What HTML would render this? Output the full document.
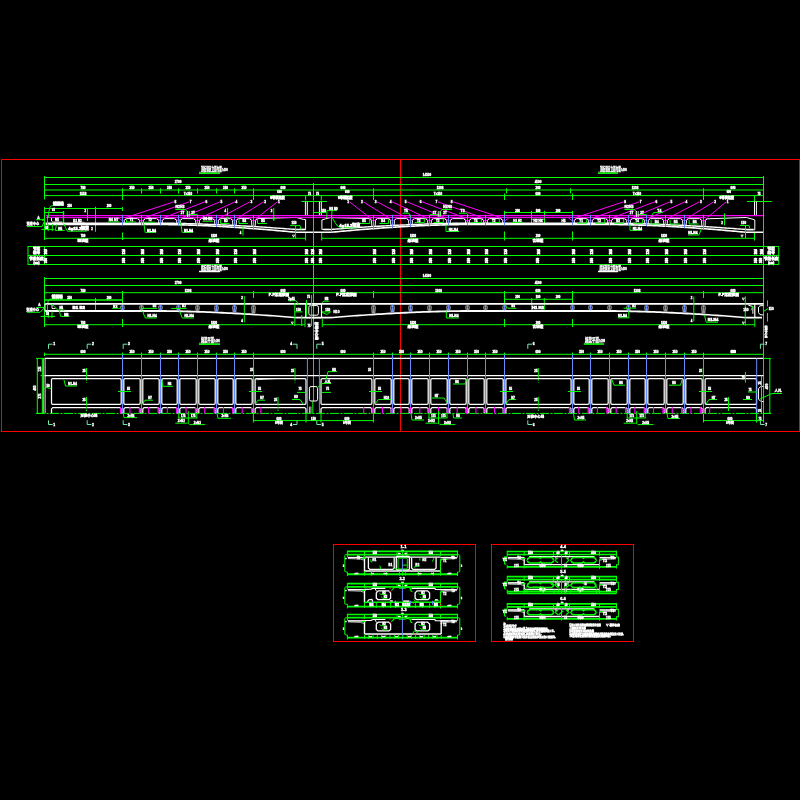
<!DOCTYPE html>
<html lang="zh">
<head>
<meta charset="utf-8">
<title>箱梁预应力钢束布置图</title>
<style>
html,body{margin:0;padding:0;background:#000;}
body{width:800px;height:800px;overflow:hidden;}
svg{display:block;will-change:transform;font-family:"Liberation Sans","Noto Sans CJK SC",sans-serif;}
</style>
</head>
<body>
<svg width="800" height="800" viewBox="0 0 800 800">
<rect x="0" y="0" width="800" height="800" fill="#000"/>
<rect x="1.5" y="159.5" width="798" height="272" stroke="#ff0000" fill="none"/>
<line x1="400.5" y1="159.5" x2="400.5" y2="431.5" stroke="#ff0000" stroke-width="1"/>
<rect x="333.5" y="544.5" width="142" height="97" stroke="#ff0000" fill="none"/>
<rect x="491.5" y="544.5" width="142" height="97" stroke="#ff0000" fill="none"/>
<line x1="44.5" y1="176" x2="44.5" y2="199.5" stroke="#00ff00" stroke-width="1"/>
<line x1="763.5" y1="176" x2="763.5" y2="201" stroke="#00ff00" stroke-width="1"/>
<line x1="44.5" y1="177.5" x2="763.5" y2="177.5" stroke="#00ff00" stroke-width="1"/>
<line x1="44.5" y1="184.5" x2="763.5" y2="184.5" stroke="#00ff00" stroke-width="1"/>
<line x1="44.5" y1="190" x2="763.5" y2="190" stroke="#00ff00" stroke-width="1.2"/>
<line x1="44.5" y1="195.6" x2="763.5" y2="195.6" stroke="#00ff00" stroke-width="1"/>
<line x1="313.5" y1="183" x2="313.5" y2="200.5" stroke="#00ff00" stroke-width="1"/>
<line x1="122.5" y1="188.3" x2="122.5" y2="193.5" stroke="#00ff00" stroke-width="1"/>
<line x1="141.5" y1="188.3" x2="141.5" y2="193.5" stroke="#00ff00" stroke-width="1"/>
<line x1="160.5" y1="188.3" x2="160.5" y2="193.5" stroke="#00ff00" stroke-width="1"/>
<line x1="178.5" y1="188.3" x2="178.5" y2="193.5" stroke="#00ff00" stroke-width="1"/>
<line x1="197.5" y1="188.3" x2="197.5" y2="193.5" stroke="#00ff00" stroke-width="1"/>
<line x1="216.5" y1="188.3" x2="216.5" y2="193.5" stroke="#00ff00" stroke-width="1"/>
<line x1="234.5" y1="188.3" x2="234.5" y2="193.5" stroke="#00ff00" stroke-width="1"/>
<line x1="253.5" y1="188.3" x2="253.5" y2="193.5" stroke="#00ff00" stroke-width="1"/>
<line x1="373.5" y1="188.3" x2="373.5" y2="193.5" stroke="#00ff00" stroke-width="1"/>
<line x1="703.5" y1="188.3" x2="703.5" y2="193.5" stroke="#00ff00" stroke-width="1"/>
<line x1="506.5" y1="188.3" x2="506.5" y2="193.5" stroke="#00ff00" stroke-width="1"/>
<line x1="570.5" y1="188.3" x2="570.5" y2="193.5" stroke="#00ff00" stroke-width="1"/>
<line x1="122.5" y1="193.5" x2="122.5" y2="200" stroke="#00ff00" stroke-width="1"/>
<line x1="253.5" y1="193.5" x2="253.5" y2="200" stroke="#00ff00" stroke-width="1"/>
<line x1="373.5" y1="193.5" x2="373.5" y2="200" stroke="#00ff00" stroke-width="1"/>
<line x1="504.5" y1="193.5" x2="504.5" y2="200" stroke="#00ff00" stroke-width="1"/>
<line x1="572.5" y1="193.5" x2="572.5" y2="200" stroke="#00ff00" stroke-width="1"/>
<line x1="703.5" y1="193.5" x2="703.5" y2="200" stroke="#00ff00" stroke-width="1"/>
<text x="132" y="188.7" font-size="3" text-anchor="middle" fill="#ffffff" stroke="#ffffff" stroke-width="0.35" font-weight="bold">350</text>
<text x="151" y="188.7" font-size="3" text-anchor="middle" fill="#ffffff" stroke="#ffffff" stroke-width="0.35" font-weight="bold">350</text>
<text x="169.5" y="188.7" font-size="3" text-anchor="middle" fill="#ffffff" stroke="#ffffff" stroke-width="0.35" font-weight="bold">350</text>
<text x="188" y="188.7" font-size="3" text-anchor="middle" fill="#ffffff" stroke="#ffffff" stroke-width="0.35" font-weight="bold">350</text>
<text x="207" y="188.7" font-size="3" text-anchor="middle" fill="#ffffff" stroke="#ffffff" stroke-width="0.35" font-weight="bold">350</text>
<text x="225.5" y="188.7" font-size="3" text-anchor="middle" fill="#ffffff" stroke="#ffffff" stroke-width="0.35" font-weight="bold">350</text>
<text x="244" y="188.7" font-size="3" text-anchor="middle" fill="#ffffff" stroke="#ffffff" stroke-width="0.35" font-weight="bold">350</text>
<text x="440" y="188.7" font-size="3" text-anchor="middle" fill="#ffffff" stroke="#ffffff" stroke-width="0.35" font-weight="bold">1308</text>
<text x="635" y="188.7" font-size="3" text-anchor="middle" fill="#ffffff" stroke="#ffffff" stroke-width="0.35" font-weight="bold">1308</text>
<text x="83" y="188.7" font-size="3" text-anchor="middle" fill="#ffffff" stroke="#ffffff" stroke-width="0.35" font-weight="bold">780</text>
<text x="83" y="194.6" font-size="3" text-anchor="middle" fill="#ffffff" stroke="#ffffff" stroke-width="0.35" font-weight="bold">1558</text>
<text x="283" y="188.7" font-size="3" text-anchor="middle" fill="#ffffff" stroke="#ffffff" stroke-width="0.35" font-weight="bold">600</text>
<text x="343" y="188.7" font-size="3" text-anchor="middle" fill="#ffffff" stroke="#ffffff" stroke-width="0.35" font-weight="bold">600</text>
<text x="538" y="188.7" font-size="3" text-anchor="middle" fill="#ffffff" stroke="#ffffff" stroke-width="0.35" font-weight="bold">200</text>
<text x="538" y="194.5" font-size="3" text-anchor="middle" fill="#ffffff" stroke="#ffffff" stroke-width="0.35" font-weight="bold">680</text>
<text x="538" y="183.4" font-size="3" text-anchor="middle" fill="#ffffff" stroke="#ffffff" stroke-width="0.35" font-weight="bold">4500</text>
<text x="733" y="188.7" font-size="3" text-anchor="middle" fill="#ffffff" stroke="#ffffff" stroke-width="0.35" font-weight="bold">600</text>
<text x="188" y="194.6" font-size="3" text-anchor="middle" fill="#ffffff" stroke="#ffffff" stroke-width="0.35" font-weight="bold">7×350</text>
<text x="438" y="194.6" font-size="3" text-anchor="middle" fill="#ffffff" stroke="#ffffff" stroke-width="0.35" font-weight="bold">7×350</text>
<text x="637" y="194.6" font-size="3" text-anchor="middle" fill="#ffffff" stroke="#ffffff" stroke-width="0.35" font-weight="bold">7×350</text>
<text x="178" y="183.4" font-size="3" text-anchor="middle" fill="#ffffff" stroke="#ffffff" stroke-width="0.35" font-weight="bold">2700</text>
<text x="427" y="176.4" font-size="3" text-anchor="middle" fill="#ffffff" stroke="#ffffff" stroke-width="0.35" font-weight="bold">14500</text>
<text x="279.5" y="193.4" font-size="2.6" text-anchor="middle" fill="#ffffff" stroke="#ffffff" stroke-width="0.35" font-weight="bold">600</text>
<text x="277.5" y="199.4" font-size="3.2" text-anchor="middle" fill="#ffffff" stroke="#ffffff" stroke-width="0.6" font-weight="bold">0号块梁段</text>
<text x="347.2" y="193.4" font-size="2.6" text-anchor="middle" fill="#ffffff" stroke="#ffffff" stroke-width="0.35" font-weight="bold">600</text>
<text x="345.2" y="199.4" font-size="3.2" text-anchor="middle" fill="#ffffff" stroke="#ffffff" stroke-width="0.6" font-weight="bold">0号块梁段</text>
<text x="728.8" y="193.4" font-size="2.6" text-anchor="middle" fill="#ffffff" stroke="#ffffff" stroke-width="0.35" font-weight="bold">600</text>
<text x="726.8" y="199.4" font-size="3.2" text-anchor="middle" fill="#ffffff" stroke="#ffffff" stroke-width="0.6" font-weight="bold">0号块梁段</text>
<line x1="305.6" y1="195.6" x2="305.6" y2="200.5" stroke="#00ff00" stroke-width="1"/>
<line x1="321.3" y1="195.6" x2="321.3" y2="200.5" stroke="#00ff00" stroke-width="1"/>
<text x="309.5" y="194.9" font-size="2.8" text-anchor="middle" fill="#ffffff" stroke="#ffffff" stroke-width="0.35" font-weight="bold">75</text>
<text x="317.5" y="194.9" font-size="2.8" text-anchor="middle" fill="#ffffff" stroke="#ffffff" stroke-width="0.35" font-weight="bold">75</text>
<line x1="301.3" y1="201.5" x2="326.9" y2="201.5" stroke="#00ff00" stroke-width="1"/>
<line x1="747" y1="201.5" x2="771.8" y2="201.5" stroke="#00ff00" stroke-width="1"/>
<line x1="754.5" y1="195.6" x2="754.5" y2="201" stroke="#00ff00" stroke-width="1"/>
<text x="759" y="194.9" font-size="2.8" text-anchor="middle" fill="#ffffff" stroke="#ffffff" stroke-width="0.35" font-weight="bold">75</text>
<text x="201" y="171.1" font-size="5.6" text-anchor="start" fill="#ffffff" stroke="#ffffff" stroke-width="0.3" font-weight="bold" textLength="20.9" lengthAdjust="spacingAndGlyphs">顶板钢束立面布置</text>
<line x1="199" y1="172.2" x2="220" y2="172.2" stroke="#ffffff" stroke-width="0.5"/>
<line x1="199" y1="173.3" x2="220" y2="173.3" stroke="#00ff00" stroke-width="1.5"/>
<text x="222.2" y="171" font-size="3" text-anchor="start" fill="#ffffff" stroke="#ffffff" stroke-width="0.4" font-weight="bold" textLength="5.4" lengthAdjust="spacingAndGlyphs">1:200</text>
<text x="599.9" y="171" font-size="5.6" text-anchor="start" fill="#ffffff" stroke="#ffffff" stroke-width="0.3" font-weight="bold" textLength="21" lengthAdjust="spacingAndGlyphs">顶板钢束立面布置</text>
<line x1="598" y1="172.1" x2="617.9" y2="172.1" stroke="#ffffff" stroke-width="0.5"/>
<line x1="598" y1="173.2" x2="617.9" y2="173.2" stroke="#00ff00" stroke-width="1.5"/>
<text x="621.2" y="170.9" font-size="3" text-anchor="start" fill="#ffffff" stroke="#ffffff" stroke-width="0.4" font-weight="bold" textLength="5.4" lengthAdjust="spacingAndGlyphs">1:200</text>
<line x1="44.5" y1="208.5" x2="122.5" y2="208.5" stroke="#00ff00" stroke-width="1"/>
<line x1="44.5" y1="207" x2="44.5" y2="240" stroke="#00ff00" stroke-width="1"/>
<line x1="122.5" y1="207" x2="122.5" y2="211" stroke="#00ff00" stroke-width="1"/>
<line x1="122.5" y1="232.5" x2="122.5" y2="240" stroke="#00ff00" stroke-width="1"/>
<line x1="87.5" y1="208.5" x2="87.5" y2="221" stroke="#00ff00" stroke-width="1"/>
<line x1="95.5" y1="206.8" x2="95.5" y2="231.8" stroke="#00ff00" stroke-width="1"/>
<text x="69.5" y="207.4" font-size="2.8" text-anchor="middle" fill="#ffffff" stroke="#ffffff" stroke-width="0.35" font-weight="bold">350</text>
<text x="109" y="207.4" font-size="2.8" text-anchor="middle" fill="#ffffff" stroke="#ffffff" stroke-width="0.35" font-weight="bold">200</text>
<text x="85.3" y="211.6" font-size="2.8" text-anchor="middle" fill="#ffffff" stroke="#ffffff" stroke-width="0.35" font-weight="bold">2</text>
<line x1="44.5" y1="212.5" x2="63.7" y2="212.5" stroke="#00ff00" stroke-width="1"/>
<line x1="63.5" y1="211" x2="63.5" y2="225" stroke="#00ff00" stroke-width="1.4"/>
<text x="53.5" y="211" font-size="2.6" text-anchor="middle" fill="#ffffff" stroke="#ffffff" stroke-width="0.35" font-weight="bold">65</text>
<line x1="504.5" y1="212.5" x2="572.5" y2="212.5" stroke="#00ff00" stroke-width="1"/>
<line x1="504.5" y1="210.8" x2="504.5" y2="223" stroke="#00ff00" stroke-width="1"/>
<line x1="531.5" y1="210.8" x2="531.5" y2="223" stroke="#00ff00" stroke-width="1"/>
<line x1="544.5" y1="210.8" x2="544.5" y2="223" stroke="#00ff00" stroke-width="1"/>
<line x1="572.5" y1="210.8" x2="572.5" y2="223" stroke="#00ff00" stroke-width="1"/>
<text x="517.5" y="211.5" font-size="2.8" text-anchor="middle" fill="#ffffff" stroke="#ffffff" stroke-width="0.35" font-weight="bold">200</text>
<text x="538" y="211.5" font-size="2.8" text-anchor="middle" fill="#ffffff" stroke="#ffffff" stroke-width="0.35" font-weight="bold">100</text>
<text x="558" y="211.5" font-size="2.8" text-anchor="middle" fill="#ffffff" stroke="#ffffff" stroke-width="0.35" font-weight="bold">200</text>
<line x1="504.5" y1="231.5" x2="504.5" y2="240.5" stroke="#00ff00" stroke-width="1"/>
<line x1="572.5" y1="231.5" x2="572.5" y2="240.5" stroke="#00ff00" stroke-width="1"/>
<line x1="44.5" y1="238.3" x2="305.6" y2="238.3" stroke="#00ff00" stroke-width="1"/>
<line x1="321.7" y1="238.3" x2="754.5" y2="238.3" stroke="#00ff00" stroke-width="1"/>
<line x1="305.6" y1="233" x2="305.6" y2="240.5" stroke="#00ff00" stroke-width="1"/>
<line x1="321.7" y1="233" x2="321.7" y2="240.5" stroke="#00ff00" stroke-width="1"/>
<line x1="754.5" y1="232" x2="754.5" y2="240.5" stroke="#00ff00" stroke-width="1"/>
<text x="83" y="237.1" font-size="2.8" text-anchor="middle" fill="#ffffff" stroke="#ffffff" stroke-width="0.35" font-weight="bold">780</text>
<text x="83" y="242.1" font-size="3.6" text-anchor="middle" fill="#ffffff" stroke="#ffffff" stroke-width="0.5" font-weight="bold">现浇段</text>
<text x="214" y="237.1" font-size="2.8" text-anchor="middle" fill="#ffffff" stroke="#ffffff" stroke-width="0.35" font-weight="bold">1830</text>
<text x="214" y="242.1" font-size="3.6" text-anchor="middle" fill="#ffffff" stroke="#ffffff" stroke-width="0.5" font-weight="bold">悬浇段</text>
<text x="413" y="237.1" font-size="2.8" text-anchor="middle" fill="#ffffff" stroke="#ffffff" stroke-width="0.35" font-weight="bold">1830</text>
<text x="413" y="242.1" font-size="3.6" text-anchor="middle" fill="#ffffff" stroke="#ffffff" stroke-width="0.5" font-weight="bold">悬浇段</text>
<text x="538" y="237.1" font-size="2.8" text-anchor="middle" fill="#ffffff" stroke="#ffffff" stroke-width="0.35" font-weight="bold">200</text>
<text x="538" y="242.1" font-size="3.6" text-anchor="middle" fill="#ffffff" stroke="#ffffff" stroke-width="0.5" font-weight="bold">合拢段</text>
<text x="664" y="237.1" font-size="2.8" text-anchor="middle" fill="#ffffff" stroke="#ffffff" stroke-width="0.35" font-weight="bold">1830</text>
<text x="664" y="242.1" font-size="3.6" text-anchor="middle" fill="#ffffff" stroke="#ffffff" stroke-width="0.5" font-weight="bold">悬浇段</text>
<path d="M45.5 224.5 L47.5 224.5 L49.5 224.5 L51.5 224.5 L53.5 224.5 L55.5 224.5 L57.5 224.5 L59.5 224.5 L61.5 224.5 L63.5 224.5 L65.5 224.5 L67.5 224.5 L69.5 224.5 L71.5 224.5 L73.5 224.5 L75.5 224.5 L77.5 224.5 L79.5 224.5 L81.5 224.5 L83.5 224.5 L85.5 224.5 L87.5 224.5 L89.5 224.5 L91.5 224.5 L93.5 224.5 L95.5 224.5 L97.5 224.5 L99.5 224.5 L101.5 224.5 L103.5 224.5 L105.5 224.5 L107.5 224.5 L109.5 224.5 L111.5 224.5 L113.5 224.5 L115.5 224.5 L117.5 224.5 L119.5 224.5 L121.5 224.5 L123.5 224.5 L125.5 224.5 L127.5 224.5 L129.5 224.5 L131.5 224.5 L133.5 224.5 L135.5 224.5 L137.5 224.5 L139.5 224.5 L141.5 224.5 L143.5 224.5 L145.5 224.5 L147.5 224.5 L149.5 224.5 L151.5 224.5 L153.5 224.5 L155.5 224.5 L157.5 224.5 L159.5 224.5 L161.5 224.5 L163.5 224.52 L165.5 224.53 L167.5 224.56 L169.5 224.58 L171.5 224.62 L173.5 224.65 L175.5 224.69 L177.5 224.74 L179.5 224.79 L181.5 224.84 L183.5 224.89 L185.5 224.95 L187.5 225.02 L189.5 225.08 L191.5 225.15 L193.5 225.22 L195.5 225.3 L197.5 225.37 L199.5 225.45 L201.5 225.54 L203.5 225.62 L205.5 225.71 L207.5 225.8 L209.5 225.9 L211.5 226 L213.5 226.1 L215.5 226.2 L217.5 226.31 L219.5 226.41 L221.5 226.52 L223.5 226.64 L225.5 226.75 L227.5 226.87 L229.5 226.99 L231.5 227.11 L233.5 227.24 L235.5 227.37 L237.5 227.5 L239.5 227.63 L241.5 227.77 L243.5 227.9 L245.5 228.04 L247.5 228.19 L249.5 228.33 L251.5 228.48 L253.5 228.63 L255.5 228.78 L257.5 228.93 L259.5 229.09 L261.5 229.24 L263.5 229.4 L265.5 229.57 L267.5 229.73 L269.5 229.9 L271.5 230.06 L273.5 230.24 L275.5 230.41 L277.5 230.58 L279.5 230.76 L281.5 230.94 L283.5 231.12 L285.5 231.3 L287.5 231.49 L289.5 231.68 L291.5 231.87 L293.5 232.06 L295.5 232.25 L297.5 232.3 L299.5 232.3 L301.5 232.3 L303.5 232.3 L305.5 232.3 L307.5 232.3 L309.5 232.3 L311.5 232.3 L313.5 232.3 L315.5 232.3 L317.5 232.3 L319.5 232.3 L321.5 232.3 L323.5 232.3 L325.5 232.3 L327.5 232.3 L329.5 232.3 L331.5 232.25 L333.5 232.06 L335.5 231.87 L337.5 231.68 L339.5 231.49 L341.5 231.3 L343.5 231.12 L345.5 230.94 L347.5 230.76 L349.5 230.58 L351.5 230.41 L353.5 230.24 L355.5 230.06 L357.5 229.9 L359.5 229.73 L361.5 229.57 L363.5 229.4 L365.5 229.24 L367.5 229.09 L369.5 228.93 L371.5 228.78 L373.5 228.63 L375.5 228.48 L377.5 228.33 L379.5 228.19 L381.5 228.04 L383.5 227.9 L385.5 227.77 L387.5 227.63 L389.5 227.5 L391.5 227.37 L393.5 227.24 L395.5 227.11 L397.5 226.99 L399.5 226.87 L401.5 226.75 L403.5 226.64 L405.5 226.52 L407.5 226.41 L409.5 226.31 L411.5 226.2 L413.5 226.1 L415.5 226 L417.5 225.9 L419.5 225.8 L421.5 225.71 L423.5 225.62 L425.5 225.54 L427.5 225.45 L429.5 225.37 L431.5 225.3 L433.5 225.22 L435.5 225.15 L437.5 225.08 L439.5 225.02 L441.5 224.95 L443.5 224.89 L445.5 224.84 L447.5 224.79 L449.5 224.74 L451.5 224.69 L453.5 224.65 L455.5 224.62 L457.5 224.58 L459.5 224.56 L461.5 224.53 L463.5 224.52 L465.5 224.5 L467.5 224.5 L469.5 224.5 L471.5 224.5 L473.5 224.5 L475.5 224.5 L477.5 224.5 L479.5 224.5 L481.5 224.5 L483.5 224.5 L485.5 224.5 L487.5 224.5 L489.5 224.5 L491.5 224.5 L493.5 224.5 L495.5 224.5 L497.5 224.5 L499.5 224.5 L501.5 224.5 L503.5 224.5 L505.5 224.5 L507.5 224.5 L509.5 224.5 L511.5 224.5 L513.5 224.5 L515.5 224.5 L517.5 224.5 L519.5 224.5 L521.5 224.5 L523.5 224.5 L525.5 224.5 L527.5 224.5 L529.5 224.5 L531.5 224.5 L533.5 224.5 L535.5 224.5 L537.5 224.5 L539.5 224.5 L541.5 224.5 L543.5 224.5 L545.5 224.5 L547.5 224.5 L549.5 224.5 L551.5 224.5 L553.5 224.5 L555.5 224.5 L557.5 224.5 L559.5 224.5 L561.5 224.5 L563.5 224.5 L565.5 224.5 L567.5 224.5 L569.5 224.5 L571.5 224.5 L573.5 224.5 L575.5 224.5 L577.5 224.5 L579.5 224.5 L581.5 224.5 L583.5 224.5 L585.5 224.5 L587.5 224.5 L589.5 224.5 L591.5 224.5 L593.5 224.5 L595.5 224.5 L597.5 224.5 L599.5 224.5 L601.5 224.5 L603.5 224.5 L605.5 224.5 L607.5 224.5 L609.5 224.5 L611.5 224.5 L613.5 224.52 L615.5 224.53 L617.5 224.56 L619.5 224.58 L621.5 224.62 L623.5 224.65 L625.5 224.69 L627.5 224.74 L629.5 224.79 L631.5 224.84 L633.5 224.89 L635.5 224.95 L637.5 225.02 L639.5 225.08 L641.5 225.15 L643.5 225.22 L645.5 225.3 L647.5 225.37 L649.5 225.45 L651.5 225.54 L653.5 225.62 L655.5 225.71 L657.5 225.8 L659.5 225.9 L661.5 226 L663.5 226.1 L665.5 226.2 L667.5 226.31 L669.5 226.41 L671.5 226.52 L673.5 226.64 L675.5 226.75 L677.5 226.87 L679.5 226.99 L681.5 227.11 L683.5 227.24 L685.5 227.37 L687.5 227.5 L689.5 227.63 L691.5 227.77 L693.5 227.9 L695.5 228.04 L697.5 228.19 L699.5 228.33 L701.5 228.48 L703.5 228.63 L705.5 228.78 L707.5 228.93 L709.5 229.09 L711.5 229.24 L713.5 229.4 L715.5 229.57 L717.5 229.73 L719.5 229.9 L721.5 230.06 L723.5 230.24 L725.5 230.41 L727.5 230.58 L729.5 230.76 L731.5 230.94 L733.5 231.12 L735.5 231.3 L737.5 231.49 L739.5 231.68 L741.5 231.87 L743.5 232.06 L745.5 232.25 L747.5 232.3 L749.5 232.3 L751.5 232.3 L753.5 232.3 L755.5 232.3 L757.5 232.3 L759.5 232.3 L761.5 232.3 L763.5 232.3 L763.5 232.3" stroke="#ffffff" stroke-width="1.6" fill="none"/>
<path d="M45.5 223.2 L47.5 223.2 L49.5 223.2 L51.5 223.2 L53.5 223.2 L55.5 223.2 L57.5 223.2 L59.5 223.2 L61.5 223.2 L63.5 223.2 L65.5 223.2 L67.5 223.2 L69.5 223.2 L71.5 223.2 L73.5 223.2 L75.5 223.2 L77.5 223.2 L79.5 223.2 L81.5 223.2 L83.5 223.2 L85.5 223.2 L87.5 223.2 L89.5 223.2 L91.5 223.2 L93.5 223.2 L95.5 223.2 L97.5 223.2 L99.5 223.2 L101.5 223.2 L103.5 223.2 L105.5 223.2 L107.5 223.2 L109.5 223.2 L111.5 223.2 L113.5 223.2 L115.5 223.2 L117.5 223.2 L119.5 223.2 L121.5 223.2 L123.5 223.2 L125.5 223.2 L127.5 223.2 L129.5 223.2 L131.5 223.2 L133.5 223.2 L135.5 223.2 L137.5 223.2 L139.5 223.2 L141.5 223.2 L143.5 223.2 L145.5 223.2 L147.5 223.2 L149.5 223.2 L151.5 223.2 L153.5 223.2 L155.5 223.2 L157.5 223.2 L159.5 223.2 L161.5 223.2 L163.5 223.21 L165.5 223.23 L167.5 223.25 L169.5 223.27 L171.5 223.29 L173.5 223.32 L175.5 223.36 L177.5 223.39 L179.5 223.43 L181.5 223.47 L183.5 223.52 L185.5 223.57 L187.5 223.62 L189.5 223.67 L191.5 223.73 L193.5 223.78 L195.5 223.84 L197.5 223.91 L199.5 223.97 L201.5 224.04 L203.5 224.11 L205.5 224.18 L207.5 224.26 L209.5 224.33 L211.5 224.41 L213.5 224.49 L215.5 224.58 L217.5 224.66 L219.5 224.75 L221.5 224.84 L223.5 224.93 L225.5 225.02 L227.5 225.12 L229.5 225.22 L231.5 225.32 L233.5 225.42 L235.5 225.52 L237.5 225.63 L239.5 225.74 L241.5 225.85 L243.5 225.96 L245.5 226.07 L247.5 226.19 L249.5 226.3 L251.5 226.42 L253.5 226.54 L255.5 226.66 L257.5 226.79 L259.5 226.91 L261.5 227.04 L263.5 227.17 L265.5 227.3 L267.5 227.44 L269.5 227.57 L271.5 227.71 L273.5 227.85 L275.5 227.99 L277.5 228.13 L279.5 228.27 L281.5 228.42 L283.5 228.56 L285.5 228.71 L287.5 228.86 L289.5 229.01 L291.5 229.17 L293.5 229.32 L295.5 229.48 L297.5 229.52 L299.5 229.52 L301.5 229.52 L303.5 229.52 L305.5 229.52" stroke="#ffffff" stroke-width="1.4" fill="none"/>
<path d="M323.5 229.52 L325.5 229.52 L327.5 229.52 L329.5 229.52 L331.5 229.48 L333.5 229.32 L335.5 229.17 L337.5 229.01 L339.5 228.86 L341.5 228.71 L343.5 228.56 L345.5 228.42 L347.5 228.27 L349.5 228.13 L351.5 227.99 L353.5 227.85 L355.5 227.71 L357.5 227.57 L359.5 227.44 L361.5 227.3 L363.5 227.17 L365.5 227.04 L367.5 226.91 L369.5 226.79 L371.5 226.66 L373.5 226.54 L375.5 226.42 L377.5 226.3 L379.5 226.19 L381.5 226.07 L383.5 225.96 L385.5 225.85 L387.5 225.74 L389.5 225.63 L391.5 225.52 L393.5 225.42 L395.5 225.32 L397.5 225.22 L399.5 225.12 L401.5 225.02 L403.5 224.93 L405.5 224.84 L407.5 224.75 L409.5 224.66 L411.5 224.58 L413.5 224.49 L415.5 224.41 L417.5 224.33 L419.5 224.26 L421.5 224.18 L423.5 224.11 L425.5 224.04 L427.5 223.97 L429.5 223.91 L431.5 223.84 L433.5 223.78 L435.5 223.73 L437.5 223.67 L439.5 223.62 L441.5 223.57 L443.5 223.52 L445.5 223.47 L447.5 223.43 L449.5 223.39 L451.5 223.36 L453.5 223.32 L455.5 223.29 L457.5 223.27 L459.5 223.25 L461.5 223.23 L463.5 223.21 L465.5 223.2 L467.5 223.2 L469.5 223.2 L471.5 223.2 L473.5 223.2 L475.5 223.2 L477.5 223.2 L479.5 223.2 L481.5 223.2 L483.5 223.2 L485.5 223.2 L487.5 223.2 L489.5 223.2 L491.5 223.2 L493.5 223.2 L495.5 223.2 L497.5 223.2 L499.5 223.2 L501.5 223.2 L503.5 223.2 L505.5 223.2 L507.5 223.2 L509.5 223.2 L511.5 223.2 L513.5 223.2 L515.5 223.2 L517.5 223.2 L519.5 223.2 L521.5 223.2 L523.5 223.2 L525.5 223.2 L527.5 223.2 L529.5 223.2 L531.5 223.2 L533.5 223.2 L535.5 223.2 L537.5 223.2 L539.5 223.2 L541.5 223.2 L543.5 223.2 L545.5 223.2 L547.5 223.2 L549.5 223.2 L551.5 223.2 L553.5 223.2 L555.5 223.2 L557.5 223.2 L559.5 223.2 L561.5 223.2 L563.5 223.2 L565.5 223.2 L567.5 223.2 L569.5 223.2 L571.5 223.2 L573.5 223.2 L575.5 223.2 L577.5 223.2 L579.5 223.2 L581.5 223.2 L583.5 223.2 L585.5 223.2 L587.5 223.2 L589.5 223.2 L591.5 223.2 L593.5 223.2 L595.5 223.2 L597.5 223.2 L599.5 223.2 L601.5 223.2 L603.5 223.2 L605.5 223.2 L607.5 223.2 L609.5 223.2 L611.5 223.2 L613.5 223.21 L615.5 223.23 L617.5 223.25 L619.5 223.27 L621.5 223.29 L623.5 223.32 L625.5 223.36 L627.5 223.39 L629.5 223.43 L631.5 223.47 L633.5 223.52 L635.5 223.57 L637.5 223.62 L639.5 223.67 L641.5 223.73 L643.5 223.78 L645.5 223.84 L647.5 223.91 L649.5 223.97 L651.5 224.04 L653.5 224.11 L655.5 224.18 L657.5 224.26 L659.5 224.33 L661.5 224.41 L663.5 224.49 L665.5 224.58 L667.5 224.66 L669.5 224.75 L671.5 224.84 L673.5 224.93 L675.5 225.02 L677.5 225.12 L679.5 225.22 L681.5 225.32 L683.5 225.42 L685.5 225.52 L687.5 225.63 L689.5 225.74 L691.5 225.85 L693.5 225.96 L695.5 226.07 L697.5 226.19 L699.5 226.3 L701.5 226.42 L703.5 226.54 L705.5 226.66 L707.5 226.79 L709.5 226.91 L711.5 227.04 L713.5 227.17 L715.5 227.3 L717.5 227.44 L719.5 227.57 L721.5 227.71 L723.5 227.85 L725.5 227.99 L727.5 228.13 L729.5 228.27 L731.5 228.42 L733.5 228.56 L735.5 228.71 L737.5 228.86 L739.5 229.01 L741.5 229.17 L743.5 229.32 L745.5 229.48 L747.5 229.52 L749.5 229.52 L751.5 229.52 L753.5 229.52" stroke="#ffffff" stroke-width="1.4" fill="none"/>
<path d="M124.1 223 L124.5 220.4 L126.5 218.6 L137.5 218.6 L139.5 220.4 L139.9 223" stroke="#ffffff" stroke-width="1" fill="none"/>
<path d="M143.1 223 L143.5 220.4 L145.5 218.6 L156.5 218.6 L158.5 220.4 L158.9 223" stroke="#ffffff" stroke-width="1" fill="none"/>
<path d="M162.1 223.01 L162.5 220.4 L164.5 218.6 L174.5 218.6 L176.5 220.4 L176.9 223.18" stroke="#ffffff" stroke-width="1" fill="none"/>
<path d="M180.1 223.25 L180.5 220.4 L182.5 218.6 L193.5 218.6 L195.5 220.4 L195.9 223.64" stroke="#ffffff" stroke-width="1" fill="none"/>
<path d="M199.1 223.77 L199.5 220.4 L201.5 218.6 L212.5 218.6 L214.5 220.4 L214.9 224.33" stroke="#ffffff" stroke-width="1" fill="none"/>
<path d="M218.1 224.51 L218.5 220.4 L220.5 218.6 L230.5 218.6 L232.5 220.4 L232.9 225.17" stroke="#ffffff" stroke-width="1" fill="none"/>
<path d="M236.1 225.38 L236.5 220.4 L238.5 218.6 L249.5 218.6 L251.5 220.4 L251.9 226.22" stroke="#ffffff" stroke-width="1" fill="none"/>
<path d="M375.1 226.22 L375.5 220.4 L377.5 218.6 L388.5 218.6 L390.5 220.4 L390.9 225.38" stroke="#ffffff" stroke-width="1" fill="none"/>
<path d="M394.1 225.17 L394.5 220.4 L396.5 218.6 L406.5 218.6 L408.5 220.4 L408.9 224.51" stroke="#ffffff" stroke-width="1" fill="none"/>
<path d="M412.1 224.33 L412.5 220.4 L414.5 218.6 L425.5 218.6 L427.5 220.4 L427.9 223.77" stroke="#ffffff" stroke-width="1" fill="none"/>
<path d="M431.1 223.64 L431.5 220.4 L433.5 218.6 L444.5 218.6 L446.5 220.4 L446.9 223.25" stroke="#ffffff" stroke-width="1" fill="none"/>
<path d="M450.1 223.18 L450.5 220.4 L452.5 218.6 L463.5 218.6 L465.5 220.4 L465.9 223" stroke="#ffffff" stroke-width="1" fill="none"/>
<path d="M469.1 223 L469.5 220.4 L471.5 218.6 L481.5 218.6 L483.5 220.4 L483.9 223" stroke="#ffffff" stroke-width="1" fill="none"/>
<path d="M487.1 223 L487.5 220.4 L489.5 218.6 L500.5 218.6 L502.5 220.4 L502.9 223" stroke="#ffffff" stroke-width="1" fill="none"/>
<path d="M574.1 223 L574.5 220.4 L576.5 218.6 L586.5 218.6 L588.5 220.4 L588.9 223" stroke="#ffffff" stroke-width="1" fill="none"/>
<path d="M592.1 223 L592.5 220.4 L594.5 218.6 L605.5 218.6 L607.5 220.4 L607.9 223" stroke="#ffffff" stroke-width="1" fill="none"/>
<path d="M611.1 223 L611.5 220.4 L613.5 218.6 L624.5 218.6 L626.5 220.4 L626.9 223.18" stroke="#ffffff" stroke-width="1" fill="none"/>
<path d="M630.1 223.25 L630.5 220.4 L632.5 218.6 L642.5 218.6 L644.5 220.4 L644.9 223.61" stroke="#ffffff" stroke-width="1" fill="none"/>
<path d="M648.1 223.74 L648.5 220.4 L650.5 218.6 L661.5 218.6 L663.5 220.4 L663.9 224.29" stroke="#ffffff" stroke-width="1" fill="none"/>
<path d="M667.1 224.46 L667.5 220.4 L669.5 218.6 L680.5 218.6 L682.5 220.4 L682.9 225.17" stroke="#ffffff" stroke-width="1" fill="none"/>
<path d="M686.1 225.38 L686.5 220.4 L688.5 218.6 L699.5 218.6 L701.5 220.4 L701.9 226.22" stroke="#ffffff" stroke-width="1" fill="none"/>
<path d="M255.1 226.69 L255.5 220.4 L258 218.6 L296.4 217.4 L303.7 219.5 L305.6 219.6 L305.6 229.3 L299 229.3" stroke="#ffffff" stroke-width="1" fill="none"/>
<path d="M371.9 226.69 L371.5 220.4 L369 218.6 L330.6 217.5 L325.6 218.8 L321.9 220 L321.9 229.4 L329 229.4" stroke="#ffffff" stroke-width="1" fill="none"/>
<path d="M705.1 226.69 L705.3 220.4 L707.5 218.8 L746.3 217.5 L753 219.3 L754.8 220 L754.8 229.8 L747 229.8" stroke="#ffffff" stroke-width="1" fill="none"/>
<line x1="305.4" y1="201.5" x2="305.4" y2="215.3" stroke="#ffffff" stroke-width="1"/>
<line x1="307.3" y1="201.5" x2="307.3" y2="215.3" stroke="#ffffff" stroke-width="1"/>
<line x1="319.4" y1="201.5" x2="319.4" y2="215.3" stroke="#ffffff" stroke-width="1"/>
<line x1="321.3" y1="201.5" x2="321.3" y2="215.3" stroke="#ffffff" stroke-width="1"/>
<line x1="754.5" y1="201.5" x2="754.5" y2="215.3" stroke="#ffffff" stroke-width="1"/>
<line x1="756.4" y1="201.5" x2="756.4" y2="215.3" stroke="#ffffff" stroke-width="1"/>
<path d="M62 222.1 L52.8 222.1 L51.5 221 L51.5 217.4" stroke="#ffffff" stroke-width="1" fill="none"/>
<line x1="45.5" y1="215.6" x2="763" y2="215.6" stroke="#ff00ff" stroke-width="1.3"/>
<line x1="46" y1="217.6" x2="705.5" y2="217.6" stroke="#ff00ff" stroke-width="1"/>
<path d="M123.1 221.2 L124.7 219.2 L126.7 217.3 L174 201.8" stroke="#ff00ff" stroke-width="1" fill="none"/>
<path d="M121.9 221.2 L120.1 219 L118 217.6" stroke="#ff00ff" stroke-width="0.9" fill="none"/>
<text x="175.3" y="202.8" font-size="3.2" text-anchor="middle" fill="#ffffff" stroke="#ffffff" stroke-width="0.35" font-weight="bold">8</text>
<path d="M142.1 221.2 L143.7 219.2 L145.7 217.3 L189.25 201.8" stroke="#ff00ff" stroke-width="1" fill="none"/>
<path d="M140.9 221.2 L139.1 219 L137 217.6" stroke="#ff00ff" stroke-width="0.9" fill="none"/>
<text x="190.55" y="202.8" font-size="3.2" text-anchor="middle" fill="#ffffff" stroke="#ffffff" stroke-width="0.35" font-weight="bold">7</text>
<path d="M161.1 221.2 L162.7 219.2 L164.7 217.3 L205 201.8" stroke="#ff00ff" stroke-width="1" fill="none"/>
<path d="M159.9 221.2 L158.1 219 L156 217.6" stroke="#ff00ff" stroke-width="0.9" fill="none"/>
<text x="206.3" y="202.8" font-size="3.2" text-anchor="middle" fill="#ffffff" stroke="#ffffff" stroke-width="0.35" font-weight="bold">6</text>
<path d="M179.1 221.2 L180.7 219.2 L182.7 217.3 L220 201.8" stroke="#ff00ff" stroke-width="1" fill="none"/>
<path d="M177.9 221.2 L176.1 219 L174 217.6" stroke="#ff00ff" stroke-width="0.9" fill="none"/>
<text x="221.3" y="202.8" font-size="3.2" text-anchor="middle" fill="#ffffff" stroke="#ffffff" stroke-width="0.35" font-weight="bold">5</text>
<path d="M198.1 221.2 L199.7 219.2 L201.7 217.3 L235 201.8" stroke="#ff00ff" stroke-width="1" fill="none"/>
<path d="M196.9 221.2 L195.1 219 L193 217.6" stroke="#ff00ff" stroke-width="0.9" fill="none"/>
<text x="236.3" y="202.8" font-size="3.2" text-anchor="middle" fill="#ffffff" stroke="#ffffff" stroke-width="0.35" font-weight="bold">4</text>
<path d="M217.1 221.2 L218.7 219.2 L220.7 217.3 L250 201.8" stroke="#ff00ff" stroke-width="1" fill="none"/>
<path d="M215.9 221.2 L214.1 219 L212 217.6" stroke="#ff00ff" stroke-width="0.9" fill="none"/>
<text x="251.3" y="202.8" font-size="3.2" text-anchor="middle" fill="#ffffff" stroke="#ffffff" stroke-width="0.35" font-weight="bold">3</text>
<path d="M235.1 221.2 L236.7 219.2 L238.7 217.3 L263.75 201.8" stroke="#ff00ff" stroke-width="1" fill="none"/>
<path d="M233.9 221.2 L232.1 219 L230 217.6" stroke="#ff00ff" stroke-width="0.9" fill="none"/>
<text x="265.05" y="202.8" font-size="3.2" text-anchor="middle" fill="#ffffff" stroke="#ffffff" stroke-width="0.35" font-weight="bold">2</text>
<path d="M254.1 221.2 L255.7 219.2 L257.7 217.3 L277.5 201.8" stroke="#ff00ff" stroke-width="1" fill="none"/>
<path d="M252.9 221.2 L251.1 219 L249 217.6" stroke="#ff00ff" stroke-width="0.9" fill="none"/>
<text x="278.8" y="202.8" font-size="3.2" text-anchor="middle" fill="#ffffff" stroke="#ffffff" stroke-width="0.35" font-weight="bold">1</text>
<path d="M503.9 221.2 L502.3 219.2 L500.3 217.3 L453 201.8" stroke="#ff00ff" stroke-width="1" fill="none"/>
<path d="M505.1 221.2 L506.9 219 L509 217.6" stroke="#ff00ff" stroke-width="0.9" fill="none"/>
<text x="451.7" y="202.8" font-size="3.2" text-anchor="middle" fill="#ffffff" stroke="#ffffff" stroke-width="0.35" font-weight="bold">8</text>
<path d="M484.9 221.2 L483.3 219.2 L481.3 217.3 L437.75 201.8" stroke="#ff00ff" stroke-width="1" fill="none"/>
<path d="M486.1 221.2 L487.9 219 L490 217.6" stroke="#ff00ff" stroke-width="0.9" fill="none"/>
<text x="436.45" y="202.8" font-size="3.2" text-anchor="middle" fill="#ffffff" stroke="#ffffff" stroke-width="0.35" font-weight="bold">7</text>
<path d="M466.9 221.2 L465.3 219.2 L463.3 217.3 L422 201.8" stroke="#ff00ff" stroke-width="1" fill="none"/>
<path d="M468.1 221.2 L469.9 219 L472 217.6" stroke="#ff00ff" stroke-width="0.9" fill="none"/>
<text x="420.7" y="202.8" font-size="3.2" text-anchor="middle" fill="#ffffff" stroke="#ffffff" stroke-width="0.35" font-weight="bold">6</text>
<path d="M447.9 221.2 L446.3 219.2 L444.3 217.3 L407 201.8" stroke="#ff00ff" stroke-width="1" fill="none"/>
<path d="M449.1 221.2 L450.9 219 L453 217.6" stroke="#ff00ff" stroke-width="0.9" fill="none"/>
<text x="405.7" y="202.8" font-size="3.2" text-anchor="middle" fill="#ffffff" stroke="#ffffff" stroke-width="0.35" font-weight="bold">5</text>
<path d="M428.9 221.2 L427.3 219.2 L425.3 217.3 L392 201.8" stroke="#ff00ff" stroke-width="1" fill="none"/>
<path d="M430.1 221.2 L431.9 219 L434 217.6" stroke="#ff00ff" stroke-width="0.9" fill="none"/>
<text x="390.7" y="202.8" font-size="3.2" text-anchor="middle" fill="#ffffff" stroke="#ffffff" stroke-width="0.35" font-weight="bold">4</text>
<path d="M409.9 221.2 L408.3 219.2 L406.3 217.3 L377 201.8" stroke="#ff00ff" stroke-width="1" fill="none"/>
<path d="M411.1 221.2 L412.9 219 L415 217.6" stroke="#ff00ff" stroke-width="0.9" fill="none"/>
<text x="375.7" y="202.8" font-size="3.2" text-anchor="middle" fill="#ffffff" stroke="#ffffff" stroke-width="0.35" font-weight="bold">3</text>
<path d="M391.9 221.2 L390.3 219.2 L388.3 217.3 L363.25 201.8" stroke="#ff00ff" stroke-width="1" fill="none"/>
<path d="M393.1 221.2 L394.9 219 L397 217.6" stroke="#ff00ff" stroke-width="0.9" fill="none"/>
<text x="361.95" y="202.8" font-size="3.2" text-anchor="middle" fill="#ffffff" stroke="#ffffff" stroke-width="0.35" font-weight="bold">2</text>
<path d="M372.9 221.2 L371.3 219.2 L369.3 217.3 L349.5 201.8" stroke="#ff00ff" stroke-width="1" fill="none"/>
<path d="M374.1 221.2 L375.9 219 L378 217.6" stroke="#ff00ff" stroke-width="0.9" fill="none"/>
<text x="348.2" y="202.8" font-size="3.2" text-anchor="middle" fill="#ffffff" stroke="#ffffff" stroke-width="0.35" font-weight="bold">1</text>
<path d="M573.1 221.2 L574.7 219.2 L576.7 217.3 L623.75 201.8" stroke="#ff00ff" stroke-width="1" fill="none"/>
<path d="M571.9 221.2 L570.1 219 L568 217.6" stroke="#ff00ff" stroke-width="0.9" fill="none"/>
<text x="625.05" y="202.8" font-size="3.2" text-anchor="middle" fill="#ffffff" stroke="#ffffff" stroke-width="0.35" font-weight="bold">8</text>
<path d="M591.1 221.2 L592.7 219.2 L594.7 217.3 L639.25 201.8" stroke="#ff00ff" stroke-width="1" fill="none"/>
<path d="M589.9 221.2 L588.1 219 L586 217.6" stroke="#ff00ff" stroke-width="0.9" fill="none"/>
<text x="640.55" y="202.8" font-size="3.2" text-anchor="middle" fill="#ffffff" stroke="#ffffff" stroke-width="0.35" font-weight="bold">7</text>
<path d="M610.1 221.2 L611.7 219.2 L613.7 217.3 L655 201.8" stroke="#ff00ff" stroke-width="1" fill="none"/>
<path d="M608.9 221.2 L607.1 219 L605 217.6" stroke="#ff00ff" stroke-width="0.9" fill="none"/>
<text x="656.3" y="202.8" font-size="3.2" text-anchor="middle" fill="#ffffff" stroke="#ffffff" stroke-width="0.35" font-weight="bold">6</text>
<path d="M629.1 221.2 L630.7 219.2 L632.7 217.3 L670 201.8" stroke="#ff00ff" stroke-width="1" fill="none"/>
<path d="M627.9 221.2 L626.1 219 L624 217.6" stroke="#ff00ff" stroke-width="0.9" fill="none"/>
<text x="671.3" y="202.8" font-size="3.2" text-anchor="middle" fill="#ffffff" stroke="#ffffff" stroke-width="0.35" font-weight="bold">5</text>
<path d="M647.1 221.2 L648.7 219.2 L650.7 217.3 L685 201.8" stroke="#ff00ff" stroke-width="1" fill="none"/>
<path d="M645.9 221.2 L644.1 219 L642 217.6" stroke="#ff00ff" stroke-width="0.9" fill="none"/>
<text x="686.3" y="202.8" font-size="3.2" text-anchor="middle" fill="#ffffff" stroke="#ffffff" stroke-width="0.35" font-weight="bold">4</text>
<path d="M666.1 221.2 L667.7 219.2 L669.7 217.3 L699.5 201.8" stroke="#ff00ff" stroke-width="1" fill="none"/>
<path d="M664.9 221.2 L663.1 219 L661 217.6" stroke="#ff00ff" stroke-width="0.9" fill="none"/>
<text x="700.8" y="202.8" font-size="3.2" text-anchor="middle" fill="#ffffff" stroke="#ffffff" stroke-width="0.35" font-weight="bold">3</text>
<path d="M685.1 221.2 L686.7 219.2 L688.7 217.3 L713.75 201.8" stroke="#ff00ff" stroke-width="1" fill="none"/>
<path d="M683.9 221.2 L682.1 219 L680 217.6" stroke="#ff00ff" stroke-width="0.9" fill="none"/>
<text x="715.05" y="202.8" font-size="3.2" text-anchor="middle" fill="#ffffff" stroke="#ffffff" stroke-width="0.35" font-weight="bold">2</text>
<path d="M704.1 221.2 L705.7 219.2 L707.7 217.3 L726.25 201.8" stroke="#ff00ff" stroke-width="1" fill="none"/>
<path d="M702.9 221.2 L701.1 219 L699 217.6" stroke="#ff00ff" stroke-width="0.9" fill="none"/>
<text x="727.55" y="202.8" font-size="3.2" text-anchor="middle" fill="#ffffff" stroke="#ffffff" stroke-width="0.35" font-weight="bold">1</text>
<line x1="122.5" y1="214.8" x2="122.5" y2="225.3" stroke="#6a8aff" stroke-width="1"/>
<line x1="141.5" y1="214.8" x2="141.5" y2="225.3" stroke="#6a8aff" stroke-width="1"/>
<line x1="160.5" y1="214.8" x2="160.5" y2="225.3" stroke="#6a8aff" stroke-width="1"/>
<line x1="178.5" y1="214.8" x2="178.5" y2="225.56" stroke="#6a8aff" stroke-width="1"/>
<line x1="197.5" y1="214.8" x2="197.5" y2="226.17" stroke="#6a8aff" stroke-width="1"/>
<line x1="216.5" y1="214.8" x2="216.5" y2="227.05" stroke="#6a8aff" stroke-width="1"/>
<line x1="234.5" y1="214.8" x2="234.5" y2="228.1" stroke="#6a8aff" stroke-width="1"/>
<line x1="253.5" y1="214.8" x2="253.5" y2="229.43" stroke="#6a8aff" stroke-width="1"/>
<line x1="373.5" y1="214.8" x2="373.5" y2="229.43" stroke="#6a8aff" stroke-width="1"/>
<line x1="392.5" y1="214.8" x2="392.5" y2="228.1" stroke="#6a8aff" stroke-width="1"/>
<line x1="410.5" y1="214.8" x2="410.5" y2="227.05" stroke="#6a8aff" stroke-width="1"/>
<line x1="429.5" y1="214.8" x2="429.5" y2="226.17" stroke="#6a8aff" stroke-width="1"/>
<line x1="448.5" y1="214.8" x2="448.5" y2="225.56" stroke="#6a8aff" stroke-width="1"/>
<line x1="467.5" y1="214.8" x2="467.5" y2="225.3" stroke="#6a8aff" stroke-width="1"/>
<line x1="485.5" y1="214.8" x2="485.5" y2="225.3" stroke="#6a8aff" stroke-width="1"/>
<line x1="504.5" y1="214.8" x2="504.5" y2="225.3" stroke="#6a8aff" stroke-width="1"/>
<line x1="572.5" y1="214.8" x2="572.5" y2="225.3" stroke="#6a8aff" stroke-width="1"/>
<line x1="590.5" y1="214.8" x2="590.5" y2="225.3" stroke="#6a8aff" stroke-width="1"/>
<line x1="609.5" y1="214.8" x2="609.5" y2="225.3" stroke="#6a8aff" stroke-width="1"/>
<line x1="628.5" y1="214.8" x2="628.5" y2="225.56" stroke="#6a8aff" stroke-width="1"/>
<line x1="646.5" y1="214.8" x2="646.5" y2="226.13" stroke="#6a8aff" stroke-width="1"/>
<line x1="665.5" y1="214.8" x2="665.5" y2="227" stroke="#6a8aff" stroke-width="1"/>
<line x1="684.5" y1="214.8" x2="684.5" y2="228.1" stroke="#6a8aff" stroke-width="1"/>
<line x1="703.5" y1="214.8" x2="703.5" y2="229.43" stroke="#6a8aff" stroke-width="1"/>
<line x1="47.5" y1="216" x2="47.5" y2="225" stroke="#6a8aff" stroke-width="1"/>
<line x1="331.5" y1="215" x2="331.5" y2="232.5" stroke="#6a8aff" stroke-width="1"/>
<line x1="313.5" y1="201" x2="313.5" y2="401.5" stroke="#6a8aff" stroke-width="1"/>
<line x1="312.8" y1="401.5" x2="312.8" y2="413.4" stroke="#00ff00" stroke-width="1"/>
<line x1="309.4" y1="406.6" x2="309.4" y2="413.4" stroke="#ffffff" stroke-width="0.8"/>
<line x1="310.9" y1="406.6" x2="310.9" y2="413.4" stroke="#ffffff" stroke-width="0.8"/>
<line x1="763.5" y1="201" x2="763.5" y2="421" stroke="#6a8aff" stroke-width="1"/>
<path d="M48.2 218 L49 211 L50.2 206.6 L52.3 205.5 L64 205.5" stroke="#00ff00" stroke-width="1" fill="none"/>
<text x="58.3" y="204.6" font-size="3.6" text-anchor="middle" fill="#ffffff" stroke="#ffffff" stroke-width="0.6" font-weight="bold">锚固端</text>
<text x="77.5" y="221.5" font-size="3" text-anchor="middle" fill="#ffffff" stroke="#ffffff" stroke-width="0.35" font-weight="bold">B1 B2</text>
<line x1="73" y1="222.2" x2="84.5" y2="222.2" stroke="#ffffff" stroke-width="0.6"/>
<text x="113.5" y="220.6" font-size="3.4" text-anchor="middle" fill="#ffffff" stroke="#ffffff" stroke-width="0.35" font-weight="bold">N6 N7</text>
<line x1="108" y1="221.8" x2="119.2" y2="221.8" stroke="#00ff00" stroke-width="0.9"/>
<text x="57" y="221" font-size="3" text-anchor="middle" fill="#ffffff" stroke="#ffffff" stroke-width="0.35" font-weight="bold">N5</text>
<path d="M27 226.6 L42 226.6 L44.5 221.2" stroke="#00ff00" stroke-width="1" fill="none"/>
<line x1="36.2" y1="219.7" x2="44.5" y2="219.7" stroke="#00ff00" stroke-width="1"/>
<path d="M44.5 219.7 L42.5 219 L42.5 220.4 Z" stroke="#00ff00" stroke-width="0.8" fill="#00ff00"/>
<text x="38.6" y="218.8" font-size="3.4" text-anchor="middle" fill="#ffffff" stroke="#ffffff" stroke-width="0.35" font-weight="bold">A</text>
<text x="32.8" y="225.2" font-size="3.2" text-anchor="middle" fill="#ffffff" stroke="#ffffff" stroke-width="0.35" font-weight="bold">支座中心</text>
<line x1="41.3" y1="229.4" x2="54.4" y2="229.4" stroke="#00ff00" stroke-width="1"/>
<line x1="48.2" y1="224" x2="48.2" y2="231.2" stroke="#00ff00" stroke-width="1"/>
<line x1="52.3" y1="224" x2="52.3" y2="231.2" stroke="#00ff00" stroke-width="1"/>
<text x="46.6" y="228.6" font-size="2.8" text-anchor="middle" fill="#ffffff" stroke="#ffffff" stroke-width="0.35" font-weight="bold">50</text>
<path d="M56.5 224.5 L55.3 230.4 L64.7 230.4" stroke="#00ff00" stroke-width="1" fill="none"/>
<text x="60.2" y="229.5" font-size="3" text-anchor="middle" fill="#ffffff" stroke="#ffffff" stroke-width="0.4" font-weight="bold">N5</text>
<path d="M63.7 223.5 L65.5 227.5 L67.5 231.2 L86.7 231.2" stroke="#00ff00" stroke-width="1" fill="none"/>
<text x="78.7" y="230.4" font-size="4" text-anchor="middle" fill="#ffffff" stroke="#ffffff" stroke-width="0.6" font-weight="bold">4φ15.2钢束</text>
<text x="92" y="230" font-size="2.8" text-anchor="middle" fill="#ffffff" stroke="#ffffff" stroke-width="0.35" font-weight="bold">2</text>
<line x1="127" y1="221.9" x2="136" y2="221.9" stroke="#00ff00" stroke-width="0.9"/>
<text x="131.5" y="221" font-size="3" text-anchor="middle" fill="#ffffff" stroke="#ffffff" stroke-width="0.35" font-weight="bold">T1</text>
<line x1="126.5" y1="219.4" x2="126.5" y2="223" stroke="#00ff00" stroke-width="1"/>
<text x="150" y="221" font-size="3" text-anchor="middle" fill="#ffffff" stroke="#ffffff" stroke-width="0.35" font-weight="bold">T2</text>
<path d="M143 222.2 L155 222.2" stroke="#00ff00" stroke-width="0.9" fill="none"/>
<line x1="202.5" y1="221.3" x2="213" y2="221.3" stroke="#00ff00" stroke-width="0.9"/>
<text x="207.75" y="220.4" font-size="3.2" text-anchor="middle" fill="#ffffff" stroke="#ffffff" stroke-width="0.35" font-weight="bold">B1 B2</text>
<line x1="220.6" y1="223.5" x2="229.4" y2="223.5" stroke="#00ff00" stroke-width="1"/>
<line x1="220.6" y1="219.3" x2="220.6" y2="223.5" stroke="#00ff00" stroke-width="1"/>
<text x="225.8" y="222.4" font-size="3" text-anchor="middle" fill="#ffffff" stroke="#ffffff" stroke-width="0.35" font-weight="bold">B3</text>
<line x1="239" y1="223.5" x2="248" y2="223.5" stroke="#00ff00" stroke-width="1"/>
<line x1="239" y1="219.3" x2="239" y2="223.5" stroke="#00ff00" stroke-width="1"/>
<text x="244.3" y="222.4" font-size="3" text-anchor="middle" fill="#ffffff" stroke="#ffffff" stroke-width="0.35" font-weight="bold">B4</text>
<line x1="257.5" y1="223.5" x2="267" y2="223.5" stroke="#00ff00" stroke-width="1"/>
<line x1="257.5" y1="219.3" x2="257.5" y2="223.5" stroke="#00ff00" stroke-width="1"/>
<text x="263.05" y="222.4" font-size="3" text-anchor="middle" fill="#ffffff" stroke="#ffffff" stroke-width="0.35" font-weight="bold">B5</text>
<path d="M143.1 222.5 L144.1 225 L145.1 232.4 L156.1 232.4" stroke="#00ff00" stroke-width="1" fill="none"/>
<text x="151.5" y="231.5" font-size="3.2" text-anchor="middle" fill="#ffffff" stroke="#ffffff" stroke-width="0.4" font-weight="bold">N1-N4</text>
<path d="M180.1 222.5 L181.1 225 L182.1 232.4 L193.1 232.4" stroke="#00ff00" stroke-width="1" fill="none"/>
<text x="188.5" y="231.5" font-size="3.2" text-anchor="middle" fill="#ffffff" stroke="#ffffff" stroke-width="0.4" font-weight="bold">N1-N4</text>
<line x1="179.8" y1="219" x2="179.8" y2="224" stroke="#00ff00" stroke-width="1"/>
<line x1="360" y1="223.5" x2="369.75" y2="223.5" stroke="#00ff00" stroke-width="1"/>
<line x1="369.75" y1="219.3" x2="369.75" y2="223.5" stroke="#00ff00" stroke-width="1"/>
<text x="364.07" y="222.4" font-size="3" text-anchor="middle" fill="#ffffff" stroke="#ffffff" stroke-width="0.35" font-weight="bold">B5</text>
<line x1="379.4" y1="223.5" x2="388.5" y2="223.5" stroke="#00ff00" stroke-width="1"/>
<line x1="388.5" y1="219.3" x2="388.5" y2="223.5" stroke="#00ff00" stroke-width="1"/>
<text x="383.15" y="222.4" font-size="3" text-anchor="middle" fill="#ffffff" stroke="#ffffff" stroke-width="0.35" font-weight="bold">B4</text>
<line x1="414.7" y1="222.6" x2="424.3" y2="222.6" stroke="#00ff00" stroke-width="1"/>
<line x1="424.3" y1="218.4" x2="424.3" y2="222.6" stroke="#00ff00" stroke-width="1"/>
<text x="418.7" y="221.5" font-size="3" text-anchor="middle" fill="#ffffff" stroke="#ffffff" stroke-width="0.35" font-weight="bold">T3</text>
<line x1="433.7" y1="222.6" x2="443.3" y2="222.6" stroke="#00ff00" stroke-width="1"/>
<line x1="443.3" y1="218.4" x2="443.3" y2="222.6" stroke="#00ff00" stroke-width="1"/>
<text x="437.7" y="221.5" font-size="3" text-anchor="middle" fill="#ffffff" stroke="#ffffff" stroke-width="0.35" font-weight="bold">T2</text>
<line x1="471.7" y1="222.6" x2="481.3" y2="222.6" stroke="#00ff00" stroke-width="1"/>
<line x1="481.3" y1="218.4" x2="481.3" y2="222.6" stroke="#00ff00" stroke-width="1"/>
<text x="475.7" y="221.5" font-size="3" text-anchor="middle" fill="#ffffff" stroke="#ffffff" stroke-width="0.35" font-weight="bold">T4</text>
<line x1="489.7" y1="222.6" x2="499.3" y2="222.6" stroke="#00ff00" stroke-width="1"/>
<line x1="499.3" y1="218.4" x2="499.3" y2="222.6" stroke="#00ff00" stroke-width="1"/>
<text x="493.7" y="221.5" font-size="3" text-anchor="middle" fill="#ffffff" stroke="#ffffff" stroke-width="0.35" font-weight="bold">T2</text>
<path d="M446 224.6 L446 231.5 L459 231.5" stroke="#00ff00" stroke-width="1" fill="none"/>
<text x="453.3" y="230.6" font-size="3.2" text-anchor="middle" fill="#ffffff" stroke="#ffffff" stroke-width="0.4" font-weight="bold">N1-N4</text>
<text x="517.5" y="221.6" font-size="3" text-anchor="middle" fill="#ffffff" stroke="#ffffff" stroke-width="0.35" font-weight="bold">H1 H2</text>
<line x1="511.5" y1="222.4" x2="523.5" y2="222.4" stroke="#00ff00" stroke-width="0.9"/>
<text x="538" y="221.8" font-size="3.2" text-anchor="middle" fill="#ffffff" stroke="#ffffff" stroke-width="0.35" font-weight="bold">H3 H4</text>
<line x1="531.5" y1="219.3" x2="544.5" y2="219.3" stroke="#ffffff" stroke-width="0.6"/>
<text x="563.5" y="221.8" font-size="3.2" text-anchor="middle" fill="#ffffff" stroke="#ffffff" stroke-width="0.35" font-weight="bold">H5</text>
<line x1="577.1" y1="223.2" x2="586.7" y2="223.2" stroke="#00ff00" stroke-width="1"/>
<line x1="586.7" y1="219" x2="586.7" y2="223.2" stroke="#00ff00" stroke-width="1"/>
<text x="581.1" y="222.1" font-size="3" text-anchor="middle" fill="#ffffff" stroke="#ffffff" stroke-width="0.35" font-weight="bold">T1</text>
<line x1="595.1" y1="223.2" x2="604.7" y2="223.2" stroke="#00ff00" stroke-width="1"/>
<line x1="604.7" y1="219" x2="604.7" y2="223.2" stroke="#00ff00" stroke-width="1"/>
<text x="599.1" y="222.1" font-size="3" text-anchor="middle" fill="#ffffff" stroke="#ffffff" stroke-width="0.35" font-weight="bold">T2</text>
<line x1="614.1" y1="223.2" x2="623.7" y2="223.2" stroke="#00ff00" stroke-width="1"/>
<line x1="623.7" y1="219" x2="623.7" y2="223.2" stroke="#00ff00" stroke-width="1"/>
<text x="618.1" y="222.1" font-size="3" text-anchor="middle" fill="#ffffff" stroke="#ffffff" stroke-width="0.35" font-weight="bold">B3</text>
<line x1="633.1" y1="223.2" x2="642.7" y2="223.2" stroke="#00ff00" stroke-width="1"/>
<line x1="642.7" y1="219" x2="642.7" y2="223.2" stroke="#00ff00" stroke-width="1"/>
<text x="637.1" y="222.1" font-size="3" text-anchor="middle" fill="#ffffff" stroke="#ffffff" stroke-width="0.35" font-weight="bold">T4</text>
<line x1="651.1" y1="224" x2="660.7" y2="224" stroke="#00ff00" stroke-width="1"/>
<line x1="651.1" y1="219.8" x2="651.1" y2="224" stroke="#00ff00" stroke-width="1"/>
<text x="656.7" y="222.9" font-size="3" text-anchor="middle" fill="#ffffff" stroke="#ffffff" stroke-width="0.35" font-weight="bold">B4</text>
<line x1="670.1" y1="224" x2="679.7" y2="224" stroke="#00ff00" stroke-width="1"/>
<line x1="670.1" y1="219.8" x2="670.1" y2="224" stroke="#00ff00" stroke-width="1"/>
<text x="675.7" y="222.9" font-size="3" text-anchor="middle" fill="#ffffff" stroke="#ffffff" stroke-width="0.35" font-weight="bold">B5</text>
<line x1="689.1" y1="224" x2="698.7" y2="224" stroke="#00ff00" stroke-width="1"/>
<line x1="689.1" y1="219.8" x2="689.1" y2="224" stroke="#00ff00" stroke-width="1"/>
<text x="694.7" y="222.9" font-size="3" text-anchor="middle" fill="#ffffff" stroke="#ffffff" stroke-width="0.35" font-weight="bold">B6</text>
<path d="M630 224.5 L630 230.4 L641.8 230.4" stroke="#00ff00" stroke-width="1" fill="none"/>
<text x="637.3" y="229.6" font-size="3.2" text-anchor="middle" fill="#ffffff" stroke="#ffffff" stroke-width="0.4" font-weight="bold">N1-N4</text>
<path d="M701.7 228.3 L699 235 L688 235" stroke="#00ff00" stroke-width="1" fill="none"/>
<text x="692.8" y="234" font-size="3.2" text-anchor="middle" fill="#ffffff" stroke="#ffffff" stroke-width="0.4" font-weight="bold">N1-N4</text>
<text x="180" y="208.4" font-size="3.6" text-anchor="middle" fill="#ffffff" stroke="#ffffff" stroke-width="0.35" font-weight="bold">N2N3</text>
<line x1="175.4" y1="209.5" x2="185.4" y2="209.5" stroke="#00ff00" stroke-width="1"/>
<path d="M185.4 209.5 L187 211.5 L187 216" stroke="#00ff00" stroke-width="1" fill="none"/>
<text x="182.5" y="213.5" font-size="3" text-anchor="middle" fill="#ffffff" stroke="#ffffff" stroke-width="0.35" font-weight="bold">2T</text>
<text x="193" y="213.5" font-size="3" text-anchor="middle" fill="#ffffff" stroke="#ffffff" stroke-width="0.35" font-weight="bold">2T</text>
<line x1="188.6" y1="214.6" x2="197.5" y2="214.6" stroke="#00ff00" stroke-width="1"/>
<line x1="187.5" y1="211" x2="187.5" y2="217" stroke="#ffffff" stroke-width="0.8"/>
<line x1="189.2" y1="211" x2="189.2" y2="217" stroke="#ffffff" stroke-width="0.8"/>
<text x="447.5" y="208.4" font-size="3.6" text-anchor="middle" fill="#ffffff" stroke="#ffffff" stroke-width="0.35" font-weight="bold">N2N3</text>
<line x1="452.1" y1="209.5" x2="442.1" y2="209.5" stroke="#00ff00" stroke-width="1"/>
<path d="M442.1 209.5 L440.5 211.5 L440.5 216" stroke="#00ff00" stroke-width="1" fill="none"/>
<text x="445" y="213.5" font-size="3" text-anchor="middle" fill="#ffffff" stroke="#ffffff" stroke-width="0.35" font-weight="bold">2T</text>
<text x="434.5" y="213.5" font-size="3" text-anchor="middle" fill="#ffffff" stroke="#ffffff" stroke-width="0.35" font-weight="bold">2T</text>
<line x1="438.9" y1="214.6" x2="430" y2="214.6" stroke="#00ff00" stroke-width="1"/>
<line x1="440" y1="211" x2="440" y2="217" stroke="#ffffff" stroke-width="0.8"/>
<line x1="438.3" y1="211" x2="438.3" y2="217" stroke="#ffffff" stroke-width="0.8"/>
<text x="629" y="208.4" font-size="3.6" text-anchor="middle" fill="#ffffff" stroke="#ffffff" stroke-width="0.35" font-weight="bold">N2N3</text>
<line x1="624.4" y1="209.5" x2="634.4" y2="209.5" stroke="#00ff00" stroke-width="1"/>
<path d="M634.4 209.5 L636 211.5 L636 216" stroke="#00ff00" stroke-width="1" fill="none"/>
<text x="631.5" y="213.5" font-size="3" text-anchor="middle" fill="#ffffff" stroke="#ffffff" stroke-width="0.35" font-weight="bold">2T</text>
<text x="642" y="213.5" font-size="3" text-anchor="middle" fill="#ffffff" stroke="#ffffff" stroke-width="0.35" font-weight="bold">2T</text>
<line x1="637.6" y1="214.6" x2="646.5" y2="214.6" stroke="#00ff00" stroke-width="1"/>
<line x1="636.5" y1="211" x2="636.5" y2="217" stroke="#ffffff" stroke-width="0.8"/>
<line x1="638.2" y1="211" x2="638.2" y2="217" stroke="#ffffff" stroke-width="0.8"/>
<path d="M402.5 213.2 L409 213.2 L410.5 217.5" stroke="#00ff00" stroke-width="1" fill="none"/>
<text x="406" y="212.3" font-size="3.4" text-anchor="middle" fill="#ffffff" stroke="#ffffff" stroke-width="0.4" font-weight="bold">T5</text>
<path d="M459 213.2 L466.5 213.2 L468.5 215.5" stroke="#00ff00" stroke-width="1" fill="none"/>
<text x="462.6" y="212.3" font-size="3.4" text-anchor="middle" fill="#ffffff" stroke="#ffffff" stroke-width="0.4" font-weight="bold">T3</text>
<path d="M650.8 217 L653.5 212.6 L663 212.6" stroke="#00ff00" stroke-width="1" fill="none"/>
<text x="659.3" y="211.6" font-size="3.4" text-anchor="middle" fill="#ffffff" stroke="#ffffff" stroke-width="0.4" font-weight="bold">T4</text>
<line x1="227.5" y1="208" x2="227.5" y2="215.6" stroke="#00ff00" stroke-width="1"/>
<text x="225.2" y="212.2" font-size="2.8" text-anchor="middle" fill="#ffffff" stroke="#ffffff" stroke-width="0.35" font-weight="bold">4</text>
<path d="M227.5 219.5 L226.5 217.2 L228.5 217.2 Z" stroke="#00ff00" stroke-width="0.6" fill="#00ff00"/>
<line x1="243" y1="226" x2="243" y2="235.6" stroke="#00ff00" stroke-width="1"/>
<text x="240.6" y="234" font-size="2.8" text-anchor="middle" fill="#ffffff" stroke="#ffffff" stroke-width="0.35" font-weight="bold">4</text>
<line x1="273.75" y1="208" x2="273.75" y2="220.6" stroke="#00ff00" stroke-width="1"/>
<text x="271.5" y="211.6" font-size="2.8" text-anchor="middle" fill="#ffffff" stroke="#ffffff" stroke-width="0.35" font-weight="bold">2</text>
<path d="M273.75 220.6 L272.8 218.3 L274.8 218.3 Z" stroke="#00ff00" stroke-width="0.6" fill="#00ff00"/>
<line x1="724.5" y1="213.3" x2="724.5" y2="225.3" stroke="#00ff00" stroke-width="1"/>
<text x="722" y="223.5" font-size="2.8" text-anchor="middle" fill="#ffffff" stroke="#ffffff" stroke-width="0.35" font-weight="bold">2</text>
<text x="294" y="224.2" font-size="3" text-anchor="middle" fill="#ffffff" stroke="#ffffff" stroke-width="0.35" font-weight="bold">150</text>
<path d="M290 225.6 L300 225.6 L301.2 229.5" stroke="#00ff00" stroke-width="1" fill="none"/>
<line x1="295.6" y1="225.6" x2="295.6" y2="238.3" stroke="#00ff00" stroke-width="1"/>
<text x="293.6" y="237.4" font-size="2.6" text-anchor="middle" fill="#ffffff" stroke="#ffffff" stroke-width="0.35" font-weight="bold">▽</text>
<line x1="326.9" y1="210.6" x2="336.9" y2="210.6" stroke="#00ff00" stroke-width="1"/>
<text x="333.5" y="209.6" font-size="3" text-anchor="middle" fill="#ffffff" stroke="#ffffff" stroke-width="0.35" font-weight="bold">N8 N9</text>
<line x1="326.9" y1="210.6" x2="326.9" y2="218" stroke="#00ff00" stroke-width="1"/>
<line x1="331.9" y1="210.6" x2="331.9" y2="215" stroke="#00ff00" stroke-width="1"/>
<line x1="313.5" y1="212.5" x2="326" y2="212.5" stroke="#00ff00" stroke-width="1"/>
<text x="323.7" y="211.6" font-size="2.6" text-anchor="middle" fill="#ffffff" stroke="#ffffff" stroke-width="0.35" font-weight="bold">150</text>
<path d="M332.5 218 L335 222.5 L337.5 226 L340.6 227.7 L357.5 227.7" stroke="#00ff00" stroke-width="1" fill="none"/>
<text x="349.8" y="226.9" font-size="4" text-anchor="middle" fill="#ffffff" stroke="#ffffff" stroke-width="0.6" font-weight="bold">4φ15.2钢束</text>
<text x="743.6" y="224.2" font-size="3" text-anchor="middle" fill="#ffffff" stroke="#ffffff" stroke-width="0.35" font-weight="bold">150</text>
<path d="M740 225.5 L749 225.5 L749.7 228.3" stroke="#00ff00" stroke-width="1" fill="none"/>
<line x1="745.5" y1="225.5" x2="745.5" y2="238.3" stroke="#00ff00" stroke-width="1"/>
<text x="742" y="237.4" font-size="2.6" text-anchor="middle" fill="#ffffff" stroke="#ffffff" stroke-width="0.35" font-weight="bold">▽</text>
<line x1="28" y1="246.5" x2="778.75" y2="246.5" stroke="#00ff00" stroke-width="1"/>
<line x1="28" y1="255.5" x2="778.75" y2="255.5" stroke="#00ff00" stroke-width="1"/>
<line x1="28" y1="264.5" x2="778.75" y2="264.5" stroke="#00ff00" stroke-width="1"/>
<line x1="28" y1="246" x2="28" y2="265" stroke="#00ff00" stroke-width="1"/>
<line x1="778.75" y1="246" x2="778.75" y2="265" stroke="#00ff00" stroke-width="1"/>
<line x1="44.5" y1="246" x2="44.5" y2="265" stroke="#00ff00" stroke-width="1"/>
<line x1="763.5" y1="246" x2="763.5" y2="265" stroke="#00ff00" stroke-width="1"/>
<text x="36.5" y="250.4" font-size="3.6" text-anchor="middle" fill="#ffffff" stroke="#ffffff" stroke-width="0.5" font-weight="bold">节段</text>
<text x="36.5" y="254.2" font-size="3.6" text-anchor="middle" fill="#ffffff" stroke="#ffffff" stroke-width="0.5" font-weight="bold">编号</text>
<text x="36.5" y="259.8" font-size="3.6" text-anchor="middle" fill="#ffffff" stroke="#ffffff" stroke-width="0.6" font-weight="bold">节段长度</text>
<text x="36.5" y="263.5" font-size="2.88" text-anchor="middle" fill="#ffffff" stroke="#ffffff" stroke-width="0.5" font-weight="bold">(cm)</text>
<text x="771.2" y="250.4" font-size="3.6" text-anchor="middle" fill="#ffffff" stroke="#ffffff" stroke-width="0.5" font-weight="bold">节段</text>
<text x="771.2" y="254.2" font-size="3.6" text-anchor="middle" fill="#ffffff" stroke="#ffffff" stroke-width="0.5" font-weight="bold">编号</text>
<text x="771.2" y="259.8" font-size="3.6" text-anchor="middle" fill="#ffffff" stroke="#ffffff" stroke-width="0.6" font-weight="bold">节段长度</text>
<text x="771.2" y="263.5" font-size="2.88" text-anchor="middle" fill="#ffffff" stroke="#ffffff" stroke-width="0.5" font-weight="bold">(cm)</text>
<text x="47.2" y="254.5" font-size="3.24" text-anchor="start" fill="#ffffff" stroke="#ffffff" stroke-width="0.5" font-weight="bold" transform="rotate(-90 47.2 254.5)">10#</text>
<text x="47.2" y="262.9" font-size="3" text-anchor="start" fill="#ffffff" stroke="#ffffff" stroke-width="0.5" font-weight="bold" transform="rotate(-90 47.2 262.9)">350</text>
<text x="125" y="254.5" font-size="3.24" text-anchor="start" fill="#ffffff" stroke="#ffffff" stroke-width="0.5" font-weight="bold" transform="rotate(-90 125 254.5)">13#</text>
<text x="125" y="262.9" font-size="3" text-anchor="start" fill="#ffffff" stroke="#ffffff" stroke-width="0.5" font-weight="bold" transform="rotate(-90 125 262.9)">350</text>
<text x="144" y="254.5" font-size="3.24" text-anchor="start" fill="#ffffff" stroke="#ffffff" stroke-width="0.5" font-weight="bold" transform="rotate(-90 144 254.5)">16#</text>
<text x="144" y="262.9" font-size="3" text-anchor="start" fill="#ffffff" stroke="#ffffff" stroke-width="0.5" font-weight="bold" transform="rotate(-90 144 262.9)">350</text>
<text x="163" y="254.5" font-size="3.24" text-anchor="start" fill="#ffffff" stroke="#ffffff" stroke-width="0.5" font-weight="bold" transform="rotate(-90 163 254.5)">10#</text>
<text x="163" y="262.9" font-size="3" text-anchor="start" fill="#ffffff" stroke="#ffffff" stroke-width="0.5" font-weight="bold" transform="rotate(-90 163 262.9)">350</text>
<text x="181" y="254.5" font-size="3.24" text-anchor="start" fill="#ffffff" stroke="#ffffff" stroke-width="0.5" font-weight="bold" transform="rotate(-90 181 254.5)">13#</text>
<text x="181" y="262.9" font-size="3" text-anchor="start" fill="#ffffff" stroke="#ffffff" stroke-width="0.5" font-weight="bold" transform="rotate(-90 181 262.9)">350</text>
<text x="200" y="254.5" font-size="3.24" text-anchor="start" fill="#ffffff" stroke="#ffffff" stroke-width="0.5" font-weight="bold" transform="rotate(-90 200 254.5)">16#</text>
<text x="200" y="262.9" font-size="3" text-anchor="start" fill="#ffffff" stroke="#ffffff" stroke-width="0.5" font-weight="bold" transform="rotate(-90 200 262.9)">350</text>
<text x="219" y="254.5" font-size="3.24" text-anchor="start" fill="#ffffff" stroke="#ffffff" stroke-width="0.5" font-weight="bold" transform="rotate(-90 219 254.5)">10#</text>
<text x="219" y="262.9" font-size="3" text-anchor="start" fill="#ffffff" stroke="#ffffff" stroke-width="0.5" font-weight="bold" transform="rotate(-90 219 262.9)">350</text>
<text x="237" y="254.5" font-size="3.24" text-anchor="start" fill="#ffffff" stroke="#ffffff" stroke-width="0.5" font-weight="bold" transform="rotate(-90 237 254.5)">13#</text>
<text x="237" y="262.9" font-size="3" text-anchor="start" fill="#ffffff" stroke="#ffffff" stroke-width="0.5" font-weight="bold" transform="rotate(-90 237 262.9)">350</text>
<text x="256" y="254.5" font-size="3.24" text-anchor="start" fill="#ffffff" stroke="#ffffff" stroke-width="0.5" font-weight="bold" transform="rotate(-90 256 254.5)">16#</text>
<text x="256" y="262.9" font-size="3" text-anchor="start" fill="#ffffff" stroke="#ffffff" stroke-width="0.5" font-weight="bold" transform="rotate(-90 256 262.9)">350</text>
<text x="307.7" y="254.5" font-size="3.24" text-anchor="start" fill="#ffffff" stroke="#ffffff" stroke-width="0.5" font-weight="bold" transform="rotate(-90 307.7 254.5)">10#</text>
<text x="307.7" y="262.9" font-size="3" text-anchor="start" fill="#ffffff" stroke="#ffffff" stroke-width="0.5" font-weight="bold" transform="rotate(-90 307.7 262.9)">350</text>
<text x="313.7" y="254.5" font-size="3.24" text-anchor="start" fill="#ffffff" stroke="#ffffff" stroke-width="0.5" font-weight="bold" transform="rotate(-90 313.7 254.5)">13#</text>
<text x="313.7" y="262.9" font-size="3" text-anchor="start" fill="#ffffff" stroke="#ffffff" stroke-width="0.5" font-weight="bold" transform="rotate(-90 313.7 262.9)">350</text>
<text x="321.7" y="254.5" font-size="3.24" text-anchor="start" fill="#ffffff" stroke="#ffffff" stroke-width="0.5" font-weight="bold" transform="rotate(-90 321.7 254.5)">16#</text>
<text x="321.7" y="262.9" font-size="3" text-anchor="start" fill="#ffffff" stroke="#ffffff" stroke-width="0.5" font-weight="bold" transform="rotate(-90 321.7 262.9)">350</text>
<text x="376" y="254.5" font-size="3.24" text-anchor="start" fill="#ffffff" stroke="#ffffff" stroke-width="0.5" font-weight="bold" transform="rotate(-90 376 254.5)">10#</text>
<text x="376" y="262.9" font-size="3" text-anchor="start" fill="#ffffff" stroke="#ffffff" stroke-width="0.5" font-weight="bold" transform="rotate(-90 376 262.9)">350</text>
<text x="395" y="254.5" font-size="3.24" text-anchor="start" fill="#ffffff" stroke="#ffffff" stroke-width="0.5" font-weight="bold" transform="rotate(-90 395 254.5)">13#</text>
<text x="395" y="262.9" font-size="3" text-anchor="start" fill="#ffffff" stroke="#ffffff" stroke-width="0.5" font-weight="bold" transform="rotate(-90 395 262.9)">350</text>
<text x="413" y="254.5" font-size="3.24" text-anchor="start" fill="#ffffff" stroke="#ffffff" stroke-width="0.5" font-weight="bold" transform="rotate(-90 413 254.5)">16#</text>
<text x="413" y="262.9" font-size="3" text-anchor="start" fill="#ffffff" stroke="#ffffff" stroke-width="0.5" font-weight="bold" transform="rotate(-90 413 262.9)">350</text>
<text x="432" y="254.5" font-size="3.24" text-anchor="start" fill="#ffffff" stroke="#ffffff" stroke-width="0.5" font-weight="bold" transform="rotate(-90 432 254.5)">10#</text>
<text x="432" y="262.9" font-size="3" text-anchor="start" fill="#ffffff" stroke="#ffffff" stroke-width="0.5" font-weight="bold" transform="rotate(-90 432 262.9)">350</text>
<text x="451" y="254.5" font-size="3.24" text-anchor="start" fill="#ffffff" stroke="#ffffff" stroke-width="0.5" font-weight="bold" transform="rotate(-90 451 254.5)">13#</text>
<text x="451" y="262.9" font-size="3" text-anchor="start" fill="#ffffff" stroke="#ffffff" stroke-width="0.5" font-weight="bold" transform="rotate(-90 451 262.9)">350</text>
<text x="470" y="254.5" font-size="3.24" text-anchor="start" fill="#ffffff" stroke="#ffffff" stroke-width="0.5" font-weight="bold" transform="rotate(-90 470 254.5)">16#</text>
<text x="470" y="262.9" font-size="3" text-anchor="start" fill="#ffffff" stroke="#ffffff" stroke-width="0.5" font-weight="bold" transform="rotate(-90 470 262.9)">350</text>
<text x="488" y="254.5" font-size="3.24" text-anchor="start" fill="#ffffff" stroke="#ffffff" stroke-width="0.5" font-weight="bold" transform="rotate(-90 488 254.5)">10#</text>
<text x="488" y="262.9" font-size="3" text-anchor="start" fill="#ffffff" stroke="#ffffff" stroke-width="0.5" font-weight="bold" transform="rotate(-90 488 262.9)">350</text>
<text x="507" y="254.5" font-size="3.24" text-anchor="start" fill="#ffffff" stroke="#ffffff" stroke-width="0.5" font-weight="bold" transform="rotate(-90 507 254.5)">13#</text>
<text x="507" y="262.9" font-size="3" text-anchor="start" fill="#ffffff" stroke="#ffffff" stroke-width="0.5" font-weight="bold" transform="rotate(-90 507 262.9)">350</text>
<text x="539.5" y="254.5" font-size="3.24" text-anchor="start" fill="#ffffff" stroke="#ffffff" stroke-width="0.5" font-weight="bold" transform="rotate(-90 539.5 254.5)">16#</text>
<text x="539.5" y="262.9" font-size="3" text-anchor="start" fill="#ffffff" stroke="#ffffff" stroke-width="0.5" font-weight="bold" transform="rotate(-90 539.5 262.9)">350</text>
<text x="575" y="254.5" font-size="3.24" text-anchor="start" fill="#ffffff" stroke="#ffffff" stroke-width="0.5" font-weight="bold" transform="rotate(-90 575 254.5)">10#</text>
<text x="575" y="262.9" font-size="3" text-anchor="start" fill="#ffffff" stroke="#ffffff" stroke-width="0.5" font-weight="bold" transform="rotate(-90 575 262.9)">350</text>
<text x="593" y="254.5" font-size="3.24" text-anchor="start" fill="#ffffff" stroke="#ffffff" stroke-width="0.5" font-weight="bold" transform="rotate(-90 593 254.5)">13#</text>
<text x="593" y="262.9" font-size="3" text-anchor="start" fill="#ffffff" stroke="#ffffff" stroke-width="0.5" font-weight="bold" transform="rotate(-90 593 262.9)">350</text>
<text x="612" y="254.5" font-size="3.24" text-anchor="start" fill="#ffffff" stroke="#ffffff" stroke-width="0.5" font-weight="bold" transform="rotate(-90 612 254.5)">16#</text>
<text x="612" y="262.9" font-size="3" text-anchor="start" fill="#ffffff" stroke="#ffffff" stroke-width="0.5" font-weight="bold" transform="rotate(-90 612 262.9)">350</text>
<text x="631" y="254.5" font-size="3.24" text-anchor="start" fill="#ffffff" stroke="#ffffff" stroke-width="0.5" font-weight="bold" transform="rotate(-90 631 254.5)">10#</text>
<text x="631" y="262.9" font-size="3" text-anchor="start" fill="#ffffff" stroke="#ffffff" stroke-width="0.5" font-weight="bold" transform="rotate(-90 631 262.9)">350</text>
<text x="649" y="254.5" font-size="3.24" text-anchor="start" fill="#ffffff" stroke="#ffffff" stroke-width="0.5" font-weight="bold" transform="rotate(-90 649 254.5)">13#</text>
<text x="649" y="262.9" font-size="3" text-anchor="start" fill="#ffffff" stroke="#ffffff" stroke-width="0.5" font-weight="bold" transform="rotate(-90 649 262.9)">350</text>
<text x="668" y="254.5" font-size="3.24" text-anchor="start" fill="#ffffff" stroke="#ffffff" stroke-width="0.5" font-weight="bold" transform="rotate(-90 668 254.5)">16#</text>
<text x="668" y="262.9" font-size="3" text-anchor="start" fill="#ffffff" stroke="#ffffff" stroke-width="0.5" font-weight="bold" transform="rotate(-90 668 262.9)">350</text>
<text x="687" y="254.5" font-size="3.24" text-anchor="start" fill="#ffffff" stroke="#ffffff" stroke-width="0.5" font-weight="bold" transform="rotate(-90 687 254.5)">10#</text>
<text x="687" y="262.9" font-size="3" text-anchor="start" fill="#ffffff" stroke="#ffffff" stroke-width="0.5" font-weight="bold" transform="rotate(-90 687 262.9)">350</text>
<text x="706" y="254.5" font-size="3.24" text-anchor="start" fill="#ffffff" stroke="#ffffff" stroke-width="0.5" font-weight="bold" transform="rotate(-90 706 254.5)">13#</text>
<text x="706" y="262.9" font-size="3" text-anchor="start" fill="#ffffff" stroke="#ffffff" stroke-width="0.5" font-weight="bold" transform="rotate(-90 706 262.9)">350</text>
<text x="757" y="254.5" font-size="3.24" text-anchor="start" fill="#ffffff" stroke="#ffffff" stroke-width="0.5" font-weight="bold" transform="rotate(-90 757 254.5)">16#</text>
<text x="757" y="262.9" font-size="3" text-anchor="start" fill="#ffffff" stroke="#ffffff" stroke-width="0.5" font-weight="bold" transform="rotate(-90 757 262.9)">350</text>
<text x="762.5" y="254.5" font-size="3.24" text-anchor="start" fill="#ffffff" stroke="#ffffff" stroke-width="0.5" font-weight="bold" transform="rotate(-90 762.5 254.5)">10#</text>
<text x="762.5" y="262.9" font-size="3" text-anchor="start" fill="#ffffff" stroke="#ffffff" stroke-width="0.5" font-weight="bold" transform="rotate(-90 762.5 262.9)">350</text>
<line x1="44.5" y1="277" x2="44.5" y2="327" stroke="#00ff00" stroke-width="1"/>
<line x1="763.5" y1="277" x2="763.5" y2="298" stroke="#00ff00" stroke-width="1"/>
<line x1="44.5" y1="278.5" x2="763.5" y2="278.5" stroke="#00ff00" stroke-width="1"/>
<line x1="44.5" y1="285.5" x2="763.5" y2="285.5" stroke="#00ff00" stroke-width="1"/>
<line x1="44.5" y1="292.7" x2="763.5" y2="292.7" stroke="#00ff00" stroke-width="1"/>
<line x1="122.5" y1="291" x2="122.5" y2="298" stroke="#00ff00" stroke-width="1"/>
<line x1="253.5" y1="291" x2="253.5" y2="298" stroke="#00ff00" stroke-width="1"/>
<line x1="313.5" y1="291" x2="313.5" y2="298" stroke="#00ff00" stroke-width="1"/>
<line x1="373.5" y1="291" x2="373.5" y2="298" stroke="#00ff00" stroke-width="1"/>
<line x1="504.5" y1="291" x2="504.5" y2="298" stroke="#00ff00" stroke-width="1"/>
<line x1="572.5" y1="291" x2="572.5" y2="298" stroke="#00ff00" stroke-width="1"/>
<line x1="703.5" y1="291" x2="703.5" y2="298" stroke="#00ff00" stroke-width="1"/>
<text x="201" y="269.7" font-size="5.6" text-anchor="start" fill="#ffffff" stroke="#ffffff" stroke-width="0.3" font-weight="bold" textLength="20.9" lengthAdjust="spacingAndGlyphs">底板钢束立面布置</text>
<line x1="199" y1="271.5" x2="220" y2="271.5" stroke="#ffffff" stroke-width="1.5"/>
<text x="222.2" y="269.6" font-size="3" text-anchor="start" fill="#ffffff" stroke="#ffffff" stroke-width="0.4" font-weight="bold" textLength="5.4" lengthAdjust="spacingAndGlyphs">1:200</text>
<text x="599.5" y="269.7" font-size="5.6" text-anchor="start" fill="#ffffff" stroke="#ffffff" stroke-width="0.3" font-weight="bold" textLength="21.4" lengthAdjust="spacingAndGlyphs">底板钢束立面布置</text>
<line x1="598" y1="271.5" x2="618" y2="271.5" stroke="#ffffff" stroke-width="1.5"/>
<text x="621.2" y="269.6" font-size="3" text-anchor="start" fill="#ffffff" stroke="#ffffff" stroke-width="0.4" font-weight="bold" textLength="5.4" lengthAdjust="spacingAndGlyphs">1:200</text>
<text x="178" y="284.4" font-size="3" text-anchor="middle" fill="#ffffff" stroke="#ffffff" stroke-width="0.35" font-weight="bold">2700</text>
<text x="427" y="277.4" font-size="3" text-anchor="middle" fill="#ffffff" stroke="#ffffff" stroke-width="0.35" font-weight="bold">14500</text>
<text x="538" y="284.4" font-size="3" text-anchor="middle" fill="#ffffff" stroke="#ffffff" stroke-width="0.35" font-weight="bold">4500</text>
<text x="83" y="291.6" font-size="3" text-anchor="middle" fill="#ffffff" stroke="#ffffff" stroke-width="0.35" font-weight="bold">780</text>
<text x="188" y="291.6" font-size="3" text-anchor="middle" fill="#ffffff" stroke="#ffffff" stroke-width="0.35" font-weight="bold">1308</text>
<text x="283" y="291.6" font-size="3" text-anchor="middle" fill="#ffffff" stroke="#ffffff" stroke-width="0.35" font-weight="bold">600</text>
<text x="343" y="291.6" font-size="3" text-anchor="middle" fill="#ffffff" stroke="#ffffff" stroke-width="0.35" font-weight="bold">600</text>
<text x="438.5" y="291.6" font-size="3" text-anchor="middle" fill="#ffffff" stroke="#ffffff" stroke-width="0.35" font-weight="bold">1308</text>
<text x="538" y="291.6" font-size="3" text-anchor="middle" fill="#ffffff" stroke="#ffffff" stroke-width="0.35" font-weight="bold">680</text>
<text x="637" y="291.6" font-size="3" text-anchor="middle" fill="#ffffff" stroke="#ffffff" stroke-width="0.35" font-weight="bold">1308</text>
<text x="733" y="291.6" font-size="3" text-anchor="middle" fill="#ffffff" stroke="#ffffff" stroke-width="0.35" font-weight="bold">600</text>
<text x="279" y="296" font-size="3.6" text-anchor="middle" fill="#ffffff" stroke="#ffffff" stroke-width="0.5" font-weight="bold">P-P梁段截面</text>
<text x="346.5" y="296" font-size="3.6" text-anchor="middle" fill="#ffffff" stroke="#ffffff" stroke-width="0.5" font-weight="bold">P-P梁段截面</text>
<text x="728.6" y="296" font-size="3.6" text-anchor="middle" fill="#ffffff" stroke="#ffffff" stroke-width="0.5" font-weight="bold">P-P梁段截面</text>
<line x1="44.5" y1="300" x2="122.5" y2="300" stroke="#00ff00" stroke-width="1.3"/>
<line x1="95.5" y1="298" x2="95.5" y2="312" stroke="#00ff00" stroke-width="1"/>
<line x1="122.5" y1="298" x2="122.5" y2="312" stroke="#00ff00" stroke-width="1"/>
<text x="69.5" y="298.8" font-size="2.8" text-anchor="middle" fill="#ffffff" stroke="#ffffff" stroke-width="0.35" font-weight="bold">350</text>
<text x="109" y="298.8" font-size="2.8" text-anchor="middle" fill="#ffffff" stroke="#ffffff" stroke-width="0.35" font-weight="bold">200</text>
<path d="M47.8 304 L48.2 300.6 L50 299 L62.6 299" stroke="#00ff00" stroke-width="1" fill="none"/>
<text x="57.2" y="298.2" font-size="3.6" text-anchor="middle" fill="#ffffff" stroke="#ffffff" stroke-width="0.6" font-weight="bold">锚固端</text>
<line x1="504.5" y1="299.3" x2="572.5" y2="299.3" stroke="#00ff00" stroke-width="1"/>
<line x1="504.5" y1="298" x2="504.5" y2="311" stroke="#00ff00" stroke-width="1"/>
<line x1="531.7" y1="298" x2="531.7" y2="311" stroke="#00ff00" stroke-width="1"/>
<line x1="544.3" y1="298" x2="544.3" y2="311" stroke="#00ff00" stroke-width="1"/>
<line x1="572.5" y1="298" x2="572.5" y2="311" stroke="#00ff00" stroke-width="1"/>
<text x="517.5" y="298.3" font-size="2.8" text-anchor="middle" fill="#ffffff" stroke="#ffffff" stroke-width="0.35" font-weight="bold">200</text>
<text x="538" y="298.3" font-size="2.8" text-anchor="middle" fill="#ffffff" stroke="#ffffff" stroke-width="0.35" font-weight="bold">100</text>
<text x="558" y="298.3" font-size="2.8" text-anchor="middle" fill="#ffffff" stroke="#ffffff" stroke-width="0.35" font-weight="bold">200</text>
<line x1="44.5" y1="324.7" x2="305" y2="324.7" stroke="#00ff00" stroke-width="1"/>
<line x1="322.3" y1="324.7" x2="754.8" y2="324.7" stroke="#00ff00" stroke-width="1"/>
<line x1="44.5" y1="319" x2="44.5" y2="327" stroke="#00ff00" stroke-width="1"/>
<line x1="122.5" y1="319" x2="122.5" y2="327" stroke="#00ff00" stroke-width="1"/>
<line x1="305" y1="319" x2="305" y2="327" stroke="#00ff00" stroke-width="1"/>
<line x1="322.3" y1="319" x2="322.3" y2="327" stroke="#00ff00" stroke-width="1"/>
<line x1="504.5" y1="319" x2="504.5" y2="327" stroke="#00ff00" stroke-width="1"/>
<line x1="572.5" y1="319" x2="572.5" y2="327" stroke="#00ff00" stroke-width="1"/>
<line x1="754.8" y1="319" x2="754.8" y2="327" stroke="#00ff00" stroke-width="1"/>
<text x="83" y="323.5" font-size="2.8" text-anchor="middle" fill="#ffffff" stroke="#ffffff" stroke-width="0.35" font-weight="bold">780</text>
<text x="83" y="328.4" font-size="3.6" text-anchor="middle" fill="#ffffff" stroke="#ffffff" stroke-width="0.5" font-weight="bold">现浇段</text>
<text x="214" y="323.5" font-size="2.8" text-anchor="middle" fill="#ffffff" stroke="#ffffff" stroke-width="0.35" font-weight="bold">1830</text>
<text x="214" y="328.4" font-size="3.6" text-anchor="middle" fill="#ffffff" stroke="#ffffff" stroke-width="0.5" font-weight="bold">悬浇段</text>
<text x="413" y="323.5" font-size="2.8" text-anchor="middle" fill="#ffffff" stroke="#ffffff" stroke-width="0.35" font-weight="bold">1830</text>
<text x="413" y="328.4" font-size="3.6" text-anchor="middle" fill="#ffffff" stroke="#ffffff" stroke-width="0.5" font-weight="bold">悬浇段</text>
<text x="538" y="323.5" font-size="2.8" text-anchor="middle" fill="#ffffff" stroke="#ffffff" stroke-width="0.35" font-weight="bold">200</text>
<text x="538" y="328.4" font-size="3.6" text-anchor="middle" fill="#ffffff" stroke="#ffffff" stroke-width="0.5" font-weight="bold">合拢段</text>
<text x="664" y="323.5" font-size="2.8" text-anchor="middle" fill="#ffffff" stroke="#ffffff" stroke-width="0.35" font-weight="bold">1830</text>
<text x="664" y="328.4" font-size="3.6" text-anchor="middle" fill="#ffffff" stroke="#ffffff" stroke-width="0.5" font-weight="bold">悬浇段</text>
<line x1="44.8" y1="303.9" x2="763.5" y2="303.9" stroke="#ffffff" stroke-width="1.7"/>
<path d="M45 311 L48 311 L51 311 L54 311 L57 311 L60 311 L63 311 L66 311 L69 311 L72 311 L75 311 L78 311 L81 311 L84 311 L87 311 L90 311 L93 311 L96 311 L99 311 L102 311 L105 311 L108 311 L111 311 L114 311 L117 311 L120 311 L123 311 L126 311 L129 311 L132 311 L135 311 L138 311 L141 311 L144 311 L147 311 L150 311 L153 311 L156 311 L159 311 L162 311.01 L165 311.02 L168 311.05 L171 311.09 L174 311.14 L177 311.19 L180 311.25 L183 311.32 L186 311.4 L189 311.48 L192 311.56 L195 311.66 L198 311.76 L201 311.86 L204 311.97 L207 312.08 L210 312.2 L213 312.33 L216 312.46 L219 312.6 L222 312.74 L225 312.88 L228 313.03 L231 313.19 L234 313.35 L237 313.51 L240 313.68 L243 313.85 L246 314.03 L249 314.21 L252 314.4 L255 314.59" stroke="#ffffff" stroke-width="1.8" fill="none"/>
<path d="M255 314.59 L258 314.78 L261 314.98 L264 315.18 L267 315.39 L270 315.6 L273 315.82 L276 316.04 L279 316.26 L282 316.49 L285 316.72 L288 316.95 L291 317.19 L294 317.44 L297 317.6 L300 317.6 L303 317.6 L306 317.6 L309 317.6 L312 317.6 L315 317.6 L318 317.6 L321 317.6 L324 317.6 L327 317.6 L330 317.6 L333 317.44 L336 317.19 L339 316.95 L342 316.72 L345 316.49 L348 316.26 L351 316.04 L354 315.82 L357 315.6 L360 315.39 L363 315.18 L366 314.98 L369 314.78 L372 314.59" stroke="#ffffff" stroke-width="1.6" fill="none"/>
<path d="M372 314.59 L375 314.4 L378 314.21 L381 314.03 L384 313.85 L387 313.68 L390 313.51 L393 313.35 L396 313.19 L399 313.03 L402 312.88 L405 312.74 L408 312.6 L411 312.46 L414 312.33 L417 312.2 L420 312.08 L423 311.97 L426 311.86 L429 311.76 L432 311.66 L435 311.56 L438 311.48 L441 311.4 L444 311.32 L447 311.25 L450 311.19 L453 311.14 L456 311.09 L459 311.05 L462 311.02 L465 311.01 L468 311 L471 311 L474 311 L477 311 L480 311 L483 311 L486 311 L489 311 L492 311 L495 311 L498 311 L501 311 L504 311 L507 311 L510 311 L513 311 L516 311 L519 311 L522 311 L525 311 L528 311 L531 311 L534 311 L537 311 L540 311 L543 311 L546 311 L549 311 L552 311 L555 311 L558 311 L561 311 L564 311 L567 311 L570 311 L573 311 L576 311 L579 311 L582 311 L585 311 L588 311 L591 311 L594 311 L597 311 L600 311 L603 311 L606 311 L609 311 L612 311.01 L615 311.02 L618 311.05 L621 311.09 L624 311.14 L627 311.19 L630 311.25 L633 311.32 L636 311.4 L639 311.48 L642 311.56 L645 311.66 L648 311.76 L651 311.86 L654 311.97 L657 312.08 L660 312.2 L663 312.33 L666 312.46 L669 312.6 L672 312.74 L675 312.88 L678 313.03 L681 313.19 L684 313.35 L687 313.51 L690 313.68 L693 313.85 L696 314.03 L699 314.21 L702 314.4 L705 314.59" stroke="#ffffff" stroke-width="1.8" fill="none"/>
<path d="M705 314.59 L708 314.78 L711 314.98 L714 315.18 L717 315.39 L720 315.6 L723 315.82 L726 316.04 L729 316.26 L732 316.49 L735 316.72 L738 316.95 L741 317.19 L744 317.44 L747 317.6 L750 317.6 L753 317.6 L756 317.6 L759 317.6 L762 317.6" stroke="#ffffff" stroke-width="1.6" fill="none"/>
<line x1="45" y1="304" x2="45" y2="311" stroke="#ffffff" stroke-width="1"/>
<path d="M52 304.5 L52 308.5 L55.5 308.5" stroke="#ffffff" stroke-width="0.9" fill="none"/>
<rect x="305.8" y="304" width="15.7" height="13.6" rx="0.3" ry="0.3" stroke="#ffffff" stroke-width="1.2" fill="none"/>
<rect x="308.8" y="305.6" width="9.6" height="9.6" rx="1.6" ry="1.6" stroke="#ffffff" stroke-width="1" fill="none"/>
<path d="M748.4 305.2 L752.9 306.5 L752.9 313.8" stroke="#ffffff" stroke-width="1" fill="none"/>
<line x1="754.8" y1="304" x2="754.8" y2="317.6" stroke="#ffffff" stroke-width="1.2"/>
<path d="M763.5 305.6 L760 305.8 L758.5 307.2 L758.5 312.6 L760 314.6 L763.5 315" stroke="#ffffff" stroke-width="1" fill="none"/>
<line x1="122.5" y1="304.8" x2="122.5" y2="310.4" stroke="#6a8aff" stroke-width="1"/>
<path d="M121.3 305.4 L120.8 307.5 L121.3 309.8" stroke="#ffffff" stroke-width="0.8" fill="none"/>
<path d="M123.7 305.4 L124.2 307.5 L123.7 309.8" stroke="#ffffff" stroke-width="0.8" fill="none"/>
<line x1="141.5" y1="304.8" x2="141.5" y2="310.4" stroke="#6a8aff" stroke-width="1"/>
<path d="M140.3 305.4 L139.8 307.5 L140.3 309.8" stroke="#ffffff" stroke-width="0.8" fill="none"/>
<path d="M142.7 305.4 L143.2 307.5 L142.7 309.8" stroke="#ffffff" stroke-width="0.8" fill="none"/>
<line x1="160.5" y1="304.8" x2="160.5" y2="310.4" stroke="#6a8aff" stroke-width="1"/>
<path d="M159.3 305.4 L158.8 307.5 L159.3 309.8" stroke="#ffffff" stroke-width="0.8" fill="none"/>
<path d="M161.7 305.4 L162.2 307.5 L161.7 309.8" stroke="#ffffff" stroke-width="0.8" fill="none"/>
<line x1="178.5" y1="304.8" x2="178.5" y2="310.62" stroke="#6a8aff" stroke-width="1"/>
<path d="M177.3 305.4 L176.8 307.5 L177.3 310.02" stroke="#ffffff" stroke-width="0.8" fill="none"/>
<path d="M179.7 305.4 L180.2 307.5 L179.7 310.02" stroke="#ffffff" stroke-width="0.8" fill="none"/>
<line x1="197.5" y1="304.8" x2="197.5" y2="311.14" stroke="#6a8aff" stroke-width="1"/>
<path d="M196.3 305.4 L195.8 307.5 L196.3 310.54" stroke="#ffffff" stroke-width="0.8" fill="none"/>
<path d="M198.7 305.4 L199.2 307.5 L198.7 310.54" stroke="#ffffff" stroke-width="0.8" fill="none"/>
<line x1="216.5" y1="304.8" x2="216.5" y2="311.88" stroke="#6a8aff" stroke-width="1"/>
<path d="M215.3 305.4 L214.8 307.5 L215.3 311.28" stroke="#ffffff" stroke-width="0.8" fill="none"/>
<path d="M217.7 305.4 L218.2 307.5 L217.7 311.28" stroke="#ffffff" stroke-width="0.8" fill="none"/>
<line x1="234.5" y1="304.8" x2="234.5" y2="312.77" stroke="#6a8aff" stroke-width="1"/>
<path d="M233.3 305.4 L232.8 307.5 L233.3 312.17" stroke="#ffffff" stroke-width="0.8" fill="none"/>
<path d="M235.7 305.4 L236.2 307.5 L235.7 312.17" stroke="#ffffff" stroke-width="0.8" fill="none"/>
<line x1="253.5" y1="304.8" x2="253.5" y2="313.89" stroke="#6a8aff" stroke-width="1"/>
<path d="M252.3 305.4 L251.8 307.5 L252.3 313.29" stroke="#ffffff" stroke-width="0.8" fill="none"/>
<path d="M254.7 305.4 L255.2 307.5 L254.7 313.29" stroke="#ffffff" stroke-width="0.8" fill="none"/>
<line x1="373.5" y1="304.8" x2="373.5" y2="313.89" stroke="#6a8aff" stroke-width="1"/>
<path d="M372.3 305.4 L371.8 307.5 L372.3 313.29" stroke="#ffffff" stroke-width="0.8" fill="none"/>
<path d="M374.7 305.4 L375.2 307.5 L374.7 313.29" stroke="#ffffff" stroke-width="0.8" fill="none"/>
<line x1="392.5" y1="304.8" x2="392.5" y2="312.77" stroke="#6a8aff" stroke-width="1"/>
<path d="M391.3 305.4 L390.8 307.5 L391.3 312.17" stroke="#ffffff" stroke-width="0.8" fill="none"/>
<path d="M393.7 305.4 L394.2 307.5 L393.7 312.17" stroke="#ffffff" stroke-width="0.8" fill="none"/>
<line x1="410.5" y1="304.8" x2="410.5" y2="311.88" stroke="#6a8aff" stroke-width="1"/>
<path d="M409.3 305.4 L408.8 307.5 L409.3 311.28" stroke="#ffffff" stroke-width="0.8" fill="none"/>
<path d="M411.7 305.4 L412.2 307.5 L411.7 311.28" stroke="#ffffff" stroke-width="0.8" fill="none"/>
<line x1="429.5" y1="304.8" x2="429.5" y2="311.14" stroke="#6a8aff" stroke-width="1"/>
<path d="M428.3 305.4 L427.8 307.5 L428.3 310.54" stroke="#ffffff" stroke-width="0.8" fill="none"/>
<path d="M430.7 305.4 L431.2 307.5 L430.7 310.54" stroke="#ffffff" stroke-width="0.8" fill="none"/>
<line x1="448.5" y1="304.8" x2="448.5" y2="310.62" stroke="#6a8aff" stroke-width="1"/>
<path d="M447.3 305.4 L446.8 307.5 L447.3 310.02" stroke="#ffffff" stroke-width="0.8" fill="none"/>
<path d="M449.7 305.4 L450.2 307.5 L449.7 310.02" stroke="#ffffff" stroke-width="0.8" fill="none"/>
<line x1="467.5" y1="304.8" x2="467.5" y2="310.4" stroke="#6a8aff" stroke-width="1"/>
<path d="M466.3 305.4 L465.8 307.5 L466.3 309.8" stroke="#ffffff" stroke-width="0.8" fill="none"/>
<path d="M468.7 305.4 L469.2 307.5 L468.7 309.8" stroke="#ffffff" stroke-width="0.8" fill="none"/>
<line x1="485.5" y1="304.8" x2="485.5" y2="310.4" stroke="#6a8aff" stroke-width="1"/>
<path d="M484.3 305.4 L483.8 307.5 L484.3 309.8" stroke="#ffffff" stroke-width="0.8" fill="none"/>
<path d="M486.7 305.4 L487.2 307.5 L486.7 309.8" stroke="#ffffff" stroke-width="0.8" fill="none"/>
<line x1="504.5" y1="304.8" x2="504.5" y2="310.4" stroke="#6a8aff" stroke-width="1"/>
<path d="M503.3 305.4 L502.8 307.5 L503.3 309.8" stroke="#ffffff" stroke-width="0.8" fill="none"/>
<path d="M505.7 305.4 L506.2 307.5 L505.7 309.8" stroke="#ffffff" stroke-width="0.8" fill="none"/>
<line x1="572.5" y1="304.8" x2="572.5" y2="310.4" stroke="#6a8aff" stroke-width="1"/>
<path d="M571.3 305.4 L570.8 307.5 L571.3 309.8" stroke="#ffffff" stroke-width="0.8" fill="none"/>
<path d="M573.7 305.4 L574.2 307.5 L573.7 309.8" stroke="#ffffff" stroke-width="0.8" fill="none"/>
<line x1="590.5" y1="304.8" x2="590.5" y2="310.4" stroke="#6a8aff" stroke-width="1"/>
<path d="M589.3 305.4 L588.8 307.5 L589.3 309.8" stroke="#ffffff" stroke-width="0.8" fill="none"/>
<path d="M591.7 305.4 L592.2 307.5 L591.7 309.8" stroke="#ffffff" stroke-width="0.8" fill="none"/>
<line x1="609.5" y1="304.8" x2="609.5" y2="310.4" stroke="#6a8aff" stroke-width="1"/>
<path d="M608.3 305.4 L607.8 307.5 L608.3 309.8" stroke="#ffffff" stroke-width="0.8" fill="none"/>
<path d="M610.7 305.4 L611.2 307.5 L610.7 309.8" stroke="#ffffff" stroke-width="0.8" fill="none"/>
<line x1="628.5" y1="304.8" x2="628.5" y2="310.62" stroke="#6a8aff" stroke-width="1"/>
<path d="M627.3 305.4 L626.8 307.5 L627.3 310.02" stroke="#ffffff" stroke-width="0.8" fill="none"/>
<path d="M629.7 305.4 L630.2 307.5 L629.7 310.02" stroke="#ffffff" stroke-width="0.8" fill="none"/>
<line x1="646.5" y1="304.8" x2="646.5" y2="311.11" stroke="#6a8aff" stroke-width="1"/>
<path d="M645.3 305.4 L644.8 307.5 L645.3 310.51" stroke="#ffffff" stroke-width="0.8" fill="none"/>
<path d="M647.7 305.4 L648.2 307.5 L647.7 310.51" stroke="#ffffff" stroke-width="0.8" fill="none"/>
<line x1="665.5" y1="304.8" x2="665.5" y2="311.84" stroke="#6a8aff" stroke-width="1"/>
<path d="M664.3 305.4 L663.8 307.5 L664.3 311.24" stroke="#ffffff" stroke-width="0.8" fill="none"/>
<path d="M666.7 305.4 L667.2 307.5 L666.7 311.24" stroke="#ffffff" stroke-width="0.8" fill="none"/>
<line x1="684.5" y1="304.8" x2="684.5" y2="312.77" stroke="#6a8aff" stroke-width="1"/>
<path d="M683.3 305.4 L682.8 307.5 L683.3 312.17" stroke="#ffffff" stroke-width="0.8" fill="none"/>
<path d="M685.7 305.4 L686.2 307.5 L685.7 312.17" stroke="#ffffff" stroke-width="0.8" fill="none"/>
<line x1="703.5" y1="304.8" x2="703.5" y2="313.89" stroke="#6a8aff" stroke-width="1"/>
<path d="M702.3 305.4 L701.8 307.5 L702.3 313.29" stroke="#ffffff" stroke-width="0.8" fill="none"/>
<path d="M704.7 305.4 L705.2 307.5 L704.7 313.29" stroke="#ffffff" stroke-width="0.8" fill="none"/>
<line x1="47.5" y1="304.5" x2="47.5" y2="310.5" stroke="#6a8aff" stroke-width="1"/>
<path d="M52 303.8 L55 307.5 L57.8 310 L64.7 310" stroke="#00ff00" stroke-width="1" fill="none"/>
<text x="61.3" y="308.6" font-size="2.8" text-anchor="middle" fill="#ffffff" stroke="#ffffff" stroke-width="0.4" font-weight="bold">N5</text>
<path d="M59.2 310 L60.6 316.4 L69.5 316.4" stroke="#00ff00" stroke-width="1" fill="none"/>
<text x="66.3" y="315.6" font-size="3.4" text-anchor="middle" fill="#ffffff" stroke="#ffffff" stroke-width="0.6" font-weight="bold">N6</text>
<text x="78.8" y="308.6" font-size="4.4" text-anchor="middle" fill="#ffffff" stroke="#ffffff" stroke-width="0.7" font-weight="bold">B1 B2</text>
<text x="115.2" y="307.6" font-size="3.4" text-anchor="middle" fill="#ffffff" stroke="#ffffff" stroke-width="0.35" font-weight="bold">B3</text>
<path d="M112 308.3 L120 308.3 L121.5 306.5" stroke="#00ff00" stroke-width="0.9" fill="none"/>
<line x1="40.6" y1="316.4" x2="55" y2="316.4" stroke="#00ff00" stroke-width="1"/>
<line x1="48.2" y1="311.5" x2="48.2" y2="318" stroke="#00ff00" stroke-width="1"/>
<line x1="52" y1="311.5" x2="52" y2="318" stroke="#00ff00" stroke-width="1"/>
<text x="47.5" y="315.4" font-size="2.8" text-anchor="middle" fill="#ffffff" stroke="#ffffff" stroke-width="0.35" font-weight="bold">50</text>
<path d="M27 312.3 L40 312.3 L44.5 307.8" stroke="#00ff00" stroke-width="1" fill="none"/>
<line x1="36.2" y1="307.5" x2="44.5" y2="307.5" stroke="#00ff00" stroke-width="1"/>
<text x="39.3" y="305.6" font-size="3.2" text-anchor="middle" fill="#ffffff" stroke="#ffffff" stroke-width="0.35" font-weight="bold">A</text>
<text x="32.6" y="311.2" font-size="3.2" text-anchor="middle" fill="#ffffff" stroke="#ffffff" stroke-width="0.35" font-weight="bold">支座中心</text>
<path d="M142.7 311 L143.7 314 L145.3 318 L156.7 318" stroke="#00ff00" stroke-width="1" fill="none"/>
<text x="152.1" y="317.2" font-size="3.2" text-anchor="middle" fill="#ffffff" stroke="#ffffff" stroke-width="0.4" font-weight="bold">N1-N4</text>
<line x1="141.8" y1="308.4" x2="157.2" y2="308.4" stroke="#00ff00" stroke-width="1"/>
<text x="154.5" y="307.3" font-size="2.8" text-anchor="middle" fill="#ffffff" stroke="#ffffff" stroke-width="0.35" font-weight="bold">B2</text>
<path d="M179.7 311 L180.7 314 L182.3 318 L193.7 318" stroke="#00ff00" stroke-width="1" fill="none"/>
<text x="189.1" y="317.2" font-size="3.2" text-anchor="middle" fill="#ffffff" stroke="#ffffff" stroke-width="0.4" font-weight="bold">N1-N4</text>
<line x1="171.2" y1="308.4" x2="186.6" y2="308.4" stroke="#00ff00" stroke-width="1"/>
<text x="183.9" y="307.3" font-size="2.8" text-anchor="middle" fill="#ffffff" stroke="#ffffff" stroke-width="0.35" font-weight="bold">B2</text>
<path d="M446.3 311.3 L446.3 318 L458.8 318" stroke="#00ff00" stroke-width="1" fill="none"/>
<text x="453.8" y="317.2" font-size="3.2" text-anchor="middle" fill="#ffffff" stroke="#ffffff" stroke-width="0.4" font-weight="bold">N1-N4</text>
<path d="M505.5 304.6 L506.2 306.6 L507.5 308.2 L516.3 308.4" stroke="#00ff00" stroke-width="1" fill="none"/>
<text x="513.2" y="307.2" font-size="2.8" text-anchor="middle" fill="#ffffff" stroke="#ffffff" stroke-width="0.4" font-weight="bold">B1</text>
<text x="538" y="309" font-size="4.2" text-anchor="middle" fill="#ffffff" stroke="#ffffff" stroke-width="0.7" font-weight="bold">H1 H2</text>
<path d="M628.6 311 L629 317.8 L618 317.8" stroke="#00ff00" stroke-width="1" fill="none"/>
<text x="622.5" y="317" font-size="3.2" text-anchor="middle" fill="#ffffff" stroke="#ffffff" stroke-width="0.4" font-weight="bold">N1-N4</text>
<line x1="623.6" y1="308.2" x2="636" y2="308.2" stroke="#00ff00" stroke-width="1"/>
<text x="634" y="307.1" font-size="2.8" text-anchor="middle" fill="#ffffff" stroke="#ffffff" stroke-width="0.35" font-weight="bold">B2</text>
<path d="M704.5 315.4 L706.2 322.2 L718 322.2" stroke="#00ff00" stroke-width="1" fill="none"/>
<text x="713" y="321.3" font-size="3.6" text-anchor="middle" fill="#ffffff" stroke="#ffffff" stroke-width="0.6" font-weight="bold">N1-N4</text>
<line x1="244.3" y1="296" x2="244.3" y2="322.4" stroke="#00ff00" stroke-width="1"/>
<text x="242" y="299.2" font-size="2.8" text-anchor="middle" fill="#ffffff" stroke="#ffffff" stroke-width="0.35" font-weight="bold">2</text>
<text x="242" y="321.6" font-size="2.8" text-anchor="middle" fill="#ffffff" stroke="#ffffff" stroke-width="0.35" font-weight="bold">4</text>
<line x1="693.8" y1="296.6" x2="693.8" y2="321.4" stroke="#00ff00" stroke-width="1"/>
<text x="691.5" y="299.2" font-size="2.8" text-anchor="middle" fill="#ffffff" stroke="#ffffff" stroke-width="0.35" font-weight="bold">2</text>
<text x="691.5" y="321.6" font-size="2.8" text-anchor="middle" fill="#ffffff" stroke="#ffffff" stroke-width="0.35" font-weight="bold">4</text>
<line x1="745.3" y1="296.3" x2="745.3" y2="325.5" stroke="#00ff00" stroke-width="1"/>
<text x="743.4" y="299.6" font-size="2.6" text-anchor="middle" fill="#ffffff" stroke="#ffffff" stroke-width="0.35" font-weight="bold">▽</text>
<text x="743.4" y="324" font-size="2.6" text-anchor="middle" fill="#ffffff" stroke="#ffffff" stroke-width="0.35" font-weight="bold">▽</text>
<line x1="294.8" y1="303" x2="294.8" y2="326" stroke="#00ff00" stroke-width="1"/>
<line x1="306.5" y1="300" x2="306.5" y2="316" stroke="#00ff00" stroke-width="1"/>
<line x1="311.6" y1="295" x2="311.6" y2="326" stroke="#00ff00" stroke-width="1"/>
<line x1="301.7" y1="315" x2="301.7" y2="326" stroke="#00ff00" stroke-width="1"/>
<text x="308.5" y="298.2" font-size="2.8" text-anchor="middle" fill="#ffffff" stroke="#ffffff" stroke-width="0.35" font-weight="bold">75</text>
<text x="298.5" y="310.6" font-size="3" text-anchor="middle" fill="#ffffff" stroke="#ffffff" stroke-width="0.35" font-weight="bold">150</text>
<text x="327.8" y="310.6" font-size="3" text-anchor="middle" fill="#ffffff" stroke="#ffffff" stroke-width="0.35" font-weight="bold">150</text>
<text x="309" y="326.6" font-size="2.8" text-anchor="middle" fill="#ffffff" stroke="#ffffff" stroke-width="0.35" font-weight="bold">75</text>
<text x="292.4" y="323.8" font-size="2.6" text-anchor="middle" fill="#ffffff" stroke="#ffffff" stroke-width="0.35" font-weight="bold">▽</text>
<path d="M288 300.7 L296 300.7 L299 305" stroke="#00ff00" stroke-width="1" fill="none"/>
<text x="291.5" y="299.6" font-size="2.8" text-anchor="middle" fill="#ffffff" stroke="#ffffff" stroke-width="0.4" font-weight="bold">2φ15</text>
<path d="M321.5 303 L324 301.2 L329.5 301.2" stroke="#00ff00" stroke-width="1" fill="none"/>
<text x="326.5" y="300.2" font-size="2.8" text-anchor="middle" fill="#ffffff" stroke="#ffffff" stroke-width="0.4" font-weight="bold">N8</text>
<path d="M322 312.4 L327 314.5 L330 312" stroke="#00ff00" stroke-width="1" fill="none"/>
<text x="336.5" y="312.8" font-size="3.2" text-anchor="middle" fill="#ffffff" stroke="#ffffff" stroke-width="0.35" font-weight="bold">N10</text>
<line x1="294.5" y1="311.9" x2="302.5" y2="311.9" stroke="#00ff00" stroke-width="1"/>
<line x1="322" y1="311.9" x2="331" y2="311.9" stroke="#00ff00" stroke-width="1"/>
<text x="314.8" y="322" font-size="3.6" text-anchor="start" fill="#ffffff" stroke="#ffffff" stroke-width="0.5" font-weight="bold" transform="rotate(90 314.8 322)">桥墩中心线</text>
<text x="745.8" y="310.8" font-size="3.2" text-anchor="middle" fill="#ffffff" stroke="#ffffff" stroke-width="0.35" font-weight="bold">150</text>
<path d="M751 310.4 L752.9 305.9" stroke="#00ff00" stroke-width="1" fill="none"/>
<line x1="767.5" y1="300.3" x2="767.5" y2="306.4" stroke="#00ff00" stroke-width="1"/>
<line x1="767.5" y1="313" x2="767.5" y2="321.6" stroke="#00ff00" stroke-width="1"/>
<text x="771.2" y="309.9" font-size="3" text-anchor="middle" fill="#ffffff" stroke="#ffffff" stroke-width="0.35" font-weight="bold">150</text>
<path d="M764 311.2 L768 308.6" stroke="#00ff00" stroke-width="1" fill="none"/>
<text x="765.2" y="325.6" font-size="2.5" text-anchor="start" fill="#ffffff" stroke="#ffffff" stroke-width="0.35" font-weight="bold" transform="rotate(90 765.2 325.6)">桥墩中心线</text>
<text x="316.2" y="150" font-size="3" text-anchor="middle" fill="#ffffff" stroke="#ffffff" stroke-width="0.35" font-weight="bold"></text>
<text x="201" y="342" font-size="5.6" text-anchor="start" fill="#ffffff" stroke="#ffffff" stroke-width="0.3" font-weight="bold" textLength="13" lengthAdjust="spacingAndGlyphs">箱梁平面</text>
<line x1="199" y1="343.1" x2="220" y2="343.1" stroke="#ffffff" stroke-width="0.5"/>
<line x1="199" y1="344.2" x2="220" y2="344.2" stroke="#00ff00" stroke-width="1.5"/>
<text x="214.3" y="341.9" font-size="3" text-anchor="start" fill="#ffffff" stroke="#ffffff" stroke-width="0.4" font-weight="bold" textLength="5.4" lengthAdjust="spacingAndGlyphs">1:200</text>
<text x="585" y="341.9" font-size="5.6" text-anchor="start" fill="#ffffff" stroke="#ffffff" stroke-width="0.3" font-weight="bold" textLength="13.9" lengthAdjust="spacingAndGlyphs">箱梁平面</text>
<line x1="583.9" y1="343" x2="604.1" y2="343" stroke="#ffffff" stroke-width="0.5"/>
<line x1="583.9" y1="344.1" x2="604.1" y2="344.1" stroke="#00ff00" stroke-width="1.5"/>
<text x="599.2" y="341.8" font-size="3" text-anchor="start" fill="#ffffff" stroke="#ffffff" stroke-width="0.4" font-weight="bold" textLength="5.8" lengthAdjust="spacingAndGlyphs">1:200</text>
<line x1="44.5" y1="354.3" x2="763.5" y2="354.3" stroke="#00ff00" stroke-width="1"/>
<line x1="44.5" y1="352.6" x2="44.5" y2="356" stroke="#00ff00" stroke-width="1"/>
<line x1="122.5" y1="352.6" x2="122.5" y2="356" stroke="#00ff00" stroke-width="1"/>
<line x1="141.5" y1="352.6" x2="141.5" y2="356" stroke="#00ff00" stroke-width="1"/>
<line x1="160.5" y1="352.6" x2="160.5" y2="356" stroke="#00ff00" stroke-width="1"/>
<line x1="178.5" y1="352.6" x2="178.5" y2="356" stroke="#00ff00" stroke-width="1"/>
<line x1="197.5" y1="352.6" x2="197.5" y2="356" stroke="#00ff00" stroke-width="1"/>
<line x1="216.5" y1="352.6" x2="216.5" y2="356" stroke="#00ff00" stroke-width="1"/>
<line x1="234.5" y1="352.6" x2="234.5" y2="356" stroke="#00ff00" stroke-width="1"/>
<line x1="253.5" y1="352.6" x2="253.5" y2="356" stroke="#00ff00" stroke-width="1"/>
<line x1="373.5" y1="352.6" x2="373.5" y2="356" stroke="#00ff00" stroke-width="1"/>
<line x1="392.5" y1="352.6" x2="392.5" y2="356" stroke="#00ff00" stroke-width="1"/>
<line x1="410.5" y1="352.6" x2="410.5" y2="356" stroke="#00ff00" stroke-width="1"/>
<line x1="429.5" y1="352.6" x2="429.5" y2="356" stroke="#00ff00" stroke-width="1"/>
<line x1="448.5" y1="352.6" x2="448.5" y2="356" stroke="#00ff00" stroke-width="1"/>
<line x1="467.5" y1="352.6" x2="467.5" y2="356" stroke="#00ff00" stroke-width="1"/>
<line x1="485.5" y1="352.6" x2="485.5" y2="356" stroke="#00ff00" stroke-width="1"/>
<line x1="504.5" y1="352.6" x2="504.5" y2="356" stroke="#00ff00" stroke-width="1"/>
<line x1="572.5" y1="352.6" x2="572.5" y2="356" stroke="#00ff00" stroke-width="1"/>
<line x1="590.5" y1="352.6" x2="590.5" y2="356" stroke="#00ff00" stroke-width="1"/>
<line x1="609.5" y1="352.6" x2="609.5" y2="356" stroke="#00ff00" stroke-width="1"/>
<line x1="628.5" y1="352.6" x2="628.5" y2="356" stroke="#00ff00" stroke-width="1"/>
<line x1="646.5" y1="352.6" x2="646.5" y2="356" stroke="#00ff00" stroke-width="1"/>
<line x1="665.5" y1="352.6" x2="665.5" y2="356" stroke="#00ff00" stroke-width="1"/>
<line x1="684.5" y1="352.6" x2="684.5" y2="356" stroke="#00ff00" stroke-width="1"/>
<line x1="703.5" y1="352.6" x2="703.5" y2="356" stroke="#00ff00" stroke-width="1"/>
<line x1="313.5" y1="352.6" x2="313.5" y2="356" stroke="#00ff00" stroke-width="1"/>
<line x1="763.5" y1="352.6" x2="763.5" y2="356" stroke="#00ff00" stroke-width="1"/>
<text x="132" y="353.2" font-size="3.12" text-anchor="middle" fill="#ffffff" stroke="#ffffff" stroke-width="0.35" font-weight="bold">350</text>
<text x="151" y="353.2" font-size="3.12" text-anchor="middle" fill="#ffffff" stroke="#ffffff" stroke-width="0.35" font-weight="bold">350</text>
<text x="169.5" y="353.2" font-size="3.12" text-anchor="middle" fill="#ffffff" stroke="#ffffff" stroke-width="0.35" font-weight="bold">350</text>
<text x="188" y="353.2" font-size="3.12" text-anchor="middle" fill="#ffffff" stroke="#ffffff" stroke-width="0.35" font-weight="bold">350</text>
<text x="207" y="353.2" font-size="3.12" text-anchor="middle" fill="#ffffff" stroke="#ffffff" stroke-width="0.35" font-weight="bold">350</text>
<text x="225.5" y="353.2" font-size="3.12" text-anchor="middle" fill="#ffffff" stroke="#ffffff" stroke-width="0.35" font-weight="bold">350</text>
<text x="244" y="353.2" font-size="3.12" text-anchor="middle" fill="#ffffff" stroke="#ffffff" stroke-width="0.35" font-weight="bold">350</text>
<text x="383" y="353.2" font-size="3.12" text-anchor="middle" fill="#ffffff" stroke="#ffffff" stroke-width="0.35" font-weight="bold">350</text>
<text x="401.5" y="353.2" font-size="3.12" text-anchor="middle" fill="#ffffff" stroke="#ffffff" stroke-width="0.35" font-weight="bold">350</text>
<text x="420" y="353.2" font-size="3.12" text-anchor="middle" fill="#ffffff" stroke="#ffffff" stroke-width="0.35" font-weight="bold">350</text>
<text x="439" y="353.2" font-size="3.12" text-anchor="middle" fill="#ffffff" stroke="#ffffff" stroke-width="0.35" font-weight="bold">350</text>
<text x="458" y="353.2" font-size="3.12" text-anchor="middle" fill="#ffffff" stroke="#ffffff" stroke-width="0.35" font-weight="bold">350</text>
<text x="476.5" y="353.2" font-size="3.12" text-anchor="middle" fill="#ffffff" stroke="#ffffff" stroke-width="0.35" font-weight="bold">350</text>
<text x="495" y="353.2" font-size="3.12" text-anchor="middle" fill="#ffffff" stroke="#ffffff" stroke-width="0.35" font-weight="bold">350</text>
<text x="581.5" y="353.2" font-size="3.12" text-anchor="middle" fill="#ffffff" stroke="#ffffff" stroke-width="0.35" font-weight="bold">350</text>
<text x="600" y="353.2" font-size="3.12" text-anchor="middle" fill="#ffffff" stroke="#ffffff" stroke-width="0.35" font-weight="bold">350</text>
<text x="619" y="353.2" font-size="3.12" text-anchor="middle" fill="#ffffff" stroke="#ffffff" stroke-width="0.35" font-weight="bold">350</text>
<text x="637.5" y="353.2" font-size="3.12" text-anchor="middle" fill="#ffffff" stroke="#ffffff" stroke-width="0.35" font-weight="bold">350</text>
<text x="656" y="353.2" font-size="3.12" text-anchor="middle" fill="#ffffff" stroke="#ffffff" stroke-width="0.35" font-weight="bold">350</text>
<text x="675" y="353.2" font-size="3.12" text-anchor="middle" fill="#ffffff" stroke="#ffffff" stroke-width="0.35" font-weight="bold">350</text>
<text x="694" y="353.2" font-size="3.12" text-anchor="middle" fill="#ffffff" stroke="#ffffff" stroke-width="0.35" font-weight="bold">350</text>
<text x="83" y="353.2" font-size="3.12" text-anchor="middle" fill="#ffffff" stroke="#ffffff" stroke-width="0.35" font-weight="bold">600</text>
<text x="283" y="353.2" font-size="3.12" text-anchor="middle" fill="#ffffff" stroke="#ffffff" stroke-width="0.35" font-weight="bold">600</text>
<text x="343" y="353.2" font-size="3.12" text-anchor="middle" fill="#ffffff" stroke="#ffffff" stroke-width="0.35" font-weight="bold">600</text>
<text x="538" y="353.2" font-size="3.12" text-anchor="middle" fill="#ffffff" stroke="#ffffff" stroke-width="0.35" font-weight="bold">600</text>
<text x="733" y="353.2" font-size="3.12" text-anchor="middle" fill="#ffffff" stroke="#ffffff" stroke-width="0.35" font-weight="bold">600</text>
<line x1="44.5" y1="358.4" x2="763.5" y2="358.4" stroke="#ffffff" stroke-width="1.3"/>
<line x1="44.5" y1="375.6" x2="763.5" y2="375.6" stroke="#ffffff" stroke-width="1.3"/>
<line x1="43.2" y1="358.4" x2="43.2" y2="413.4" stroke="#ffffff" stroke-width="0.9"/>
<line x1="45.1" y1="358.4" x2="45.1" y2="413.4" stroke="#ffffff" stroke-width="0.9"/>
<rect x="51.5" y="378.5" width="69.7" height="25.9" rx="1.3" ry="1.3" stroke="#ffffff" stroke-width="1.25" fill="none"/>
<path d="M51.5 413.4 L51.5 408.9 L52.8 407.6 L119.9 407.6 L121.2 408.9 L121.2 413.4" stroke="#ffffff" stroke-width="1.25" fill="none"/>
<rect x="123.8" y="378.5" width="16.4" height="25.9" rx="1.3" ry="1.3" stroke="#ffffff" stroke-width="1.25" fill="none"/>
<path d="M123.8 413.4 L123.8 408.9 L125.1 407.6 L138.9 407.6 L140.2 408.9 L140.2 413.4" stroke="#ffffff" stroke-width="1.25" fill="none"/>
<rect x="142.8" y="378.5" width="16.4" height="25.9" rx="1.3" ry="1.3" stroke="#ffffff" stroke-width="1.25" fill="none"/>
<path d="M142.8 413.4 L142.8 408.9 L144.1 407.6 L157.9 407.6 L159.2 408.9 L159.2 413.4" stroke="#ffffff" stroke-width="1.25" fill="none"/>
<rect x="161.8" y="378.5" width="15.4" height="25.9" rx="1.3" ry="1.3" stroke="#ffffff" stroke-width="1.25" fill="none"/>
<path d="M161.8 413.4 L161.8 408.9 L163.1 407.6 L175.9 407.6 L177.2 408.9 L177.2 413.4" stroke="#ffffff" stroke-width="1.25" fill="none"/>
<rect x="179.8" y="378.5" width="16.4" height="25.9" rx="1.3" ry="1.3" stroke="#ffffff" stroke-width="1.25" fill="none"/>
<path d="M179.8 413.4 L179.8 408.9 L181.1 407.6 L194.9 407.6 L196.2 408.9 L196.2 413.4" stroke="#ffffff" stroke-width="1.25" fill="none"/>
<rect x="198.8" y="378.5" width="16.4" height="25.9" rx="1.3" ry="1.3" stroke="#ffffff" stroke-width="1.25" fill="none"/>
<path d="M198.8 413.4 L198.8 408.9 L200.1 407.6 L213.9 407.6 L215.2 408.9 L215.2 413.4" stroke="#ffffff" stroke-width="1.25" fill="none"/>
<rect x="217.8" y="378.5" width="15.4" height="25.9" rx="1.3" ry="1.3" stroke="#ffffff" stroke-width="1.25" fill="none"/>
<path d="M217.8 413.4 L217.8 408.9 L219.1 407.6 L231.9 407.6 L233.2 408.9 L233.2 413.4" stroke="#ffffff" stroke-width="1.25" fill="none"/>
<rect x="235.8" y="378.5" width="16.4" height="25.9" rx="1.3" ry="1.3" stroke="#ffffff" stroke-width="1.25" fill="none"/>
<path d="M235.8 413.4 L235.8 408.9 L237.1 407.6 L250.9 407.6 L252.2 408.9 L252.2 413.4" stroke="#ffffff" stroke-width="1.25" fill="none"/>
<rect x="374.8" y="378.5" width="16.4" height="25.9" rx="1.3" ry="1.3" stroke="#ffffff" stroke-width="1.25" fill="none"/>
<path d="M374.8 413.4 L374.8 408.9 L376.1 407.6 L389.9 407.6 L391.2 408.9 L391.2 413.4" stroke="#ffffff" stroke-width="1.25" fill="none"/>
<rect x="393.8" y="378.5" width="15.4" height="25.9" rx="1.3" ry="1.3" stroke="#ffffff" stroke-width="1.25" fill="none"/>
<path d="M393.8 413.4 L393.8 408.9 L395.1 407.6 L407.9 407.6 L409.2 408.9 L409.2 413.4" stroke="#ffffff" stroke-width="1.25" fill="none"/>
<rect x="411.8" y="378.5" width="16.4" height="25.9" rx="1.3" ry="1.3" stroke="#ffffff" stroke-width="1.25" fill="none"/>
<path d="M411.8 413.4 L411.8 408.9 L413.1 407.6 L426.9 407.6 L428.2 408.9 L428.2 413.4" stroke="#ffffff" stroke-width="1.25" fill="none"/>
<rect x="430.8" y="378.5" width="16.4" height="25.9" rx="1.3" ry="1.3" stroke="#ffffff" stroke-width="1.25" fill="none"/>
<path d="M430.8 413.4 L430.8 408.9 L432.1 407.6 L445.9 407.6 L447.2 408.9 L447.2 413.4" stroke="#ffffff" stroke-width="1.25" fill="none"/>
<rect x="449.8" y="378.5" width="16.4" height="25.9" rx="1.3" ry="1.3" stroke="#ffffff" stroke-width="1.25" fill="none"/>
<path d="M449.8 413.4 L449.8 408.9 L451.1 407.6 L464.9 407.6 L466.2 408.9 L466.2 413.4" stroke="#ffffff" stroke-width="1.25" fill="none"/>
<rect x="468.8" y="378.5" width="15.4" height="25.9" rx="1.3" ry="1.3" stroke="#ffffff" stroke-width="1.25" fill="none"/>
<path d="M468.8 413.4 L468.8 408.9 L470.1 407.6 L482.9 407.6 L484.2 408.9 L484.2 413.4" stroke="#ffffff" stroke-width="1.25" fill="none"/>
<rect x="486.8" y="378.5" width="16.4" height="25.9" rx="1.3" ry="1.3" stroke="#ffffff" stroke-width="1.25" fill="none"/>
<path d="M486.8 413.4 L486.8 408.9 L488.1 407.6 L501.9 407.6 L503.2 408.9 L503.2 413.4" stroke="#ffffff" stroke-width="1.25" fill="none"/>
<rect x="573.8" y="378.5" width="15.4" height="25.9" rx="1.3" ry="1.3" stroke="#ffffff" stroke-width="1.25" fill="none"/>
<path d="M573.8 413.4 L573.8 408.9 L575.1 407.6 L587.9 407.6 L589.2 408.9 L589.2 413.4" stroke="#ffffff" stroke-width="1.25" fill="none"/>
<rect x="591.8" y="378.5" width="16.4" height="25.9" rx="1.3" ry="1.3" stroke="#ffffff" stroke-width="1.25" fill="none"/>
<path d="M591.8 413.4 L591.8 408.9 L593.1 407.6 L606.9 407.6 L608.2 408.9 L608.2 413.4" stroke="#ffffff" stroke-width="1.25" fill="none"/>
<rect x="610.8" y="378.5" width="16.4" height="25.9" rx="1.3" ry="1.3" stroke="#ffffff" stroke-width="1.25" fill="none"/>
<path d="M610.8 413.4 L610.8 408.9 L612.1 407.6 L625.9 407.6 L627.2 408.9 L627.2 413.4" stroke="#ffffff" stroke-width="1.25" fill="none"/>
<rect x="629.8" y="378.5" width="15.4" height="25.9" rx="1.3" ry="1.3" stroke="#ffffff" stroke-width="1.25" fill="none"/>
<path d="M629.8 413.4 L629.8 408.9 L631.1 407.6 L643.9 407.6 L645.2 408.9 L645.2 413.4" stroke="#ffffff" stroke-width="1.25" fill="none"/>
<rect x="647.8" y="378.5" width="16.4" height="25.9" rx="1.3" ry="1.3" stroke="#ffffff" stroke-width="1.25" fill="none"/>
<path d="M647.8 413.4 L647.8 408.9 L649.1 407.6 L662.9 407.6 L664.2 408.9 L664.2 413.4" stroke="#ffffff" stroke-width="1.25" fill="none"/>
<rect x="666.8" y="378.5" width="16.4" height="25.9" rx="1.3" ry="1.3" stroke="#ffffff" stroke-width="1.25" fill="none"/>
<path d="M666.8 413.4 L666.8 408.9 L668.1 407.6 L681.9 407.6 L683.2 408.9 L683.2 413.4" stroke="#ffffff" stroke-width="1.25" fill="none"/>
<rect x="685.8" y="378.5" width="16.4" height="25.9" rx="1.3" ry="1.3" stroke="#ffffff" stroke-width="1.25" fill="none"/>
<path d="M685.8 413.4 L685.8 408.9 L687.1 407.6 L700.9 407.6 L702.2 408.9 L702.2 413.4" stroke="#ffffff" stroke-width="1.25" fill="none"/>
<rect x="255.1" y="378.5" width="50.9" height="25.9" rx="1.3" ry="1.3" stroke="#ffffff" stroke-width="1.25" fill="none"/>
<path d="M255.1 413.4 L255.1 408.9 L256.4 407.6 L304.7 407.6 L306 408.9 L306 413.4" stroke="#ffffff" stroke-width="1.25" fill="none"/>
<rect x="321" y="378.5" width="50.9" height="25.9" rx="1.3" ry="1.3" stroke="#ffffff" stroke-width="1.25" fill="none"/>
<path d="M321 413.4 L321 408.9 L322.3 407.6 L370.6 407.6 L371.9 408.9 L371.9 413.4" stroke="#ffffff" stroke-width="1.25" fill="none"/>
<rect x="505.9" y="378.5" width="65.2" height="25.9" rx="1.3" ry="1.3" stroke="#ffffff" stroke-width="1.25" fill="none"/>
<path d="M505.9 413.4 L505.9 408.9 L507.2 407.6 L569.8 407.6 L571.1 408.9 L571.1 413.4" stroke="#ffffff" stroke-width="1.25" fill="none"/>
<rect x="705.1" y="378.5" width="51.4" height="25.9" rx="1.3" ry="1.3" stroke="#ffffff" stroke-width="1.25" fill="none"/>
<path d="M705.1 413.4 L705.1 408.9 L706.4 407.6 L755.2 407.6 L756.5 408.9 L756.5 413.4" stroke="#ffffff" stroke-width="1.25" fill="none"/>
<path d="M256.5 379.7 L277 378.5" stroke="#ffffff" stroke-width="0.8" fill="none"/>
<rect x="309.4" y="386.6" width="8.2" height="14.4" rx="1.6" ry="1.6" stroke="#ffffff" stroke-width="1" fill="none"/>
<path d="M763.6 386.2 L760.5 386.6 L758.5 388.8 L758.5 399 L760.5 401.2 L763.6 401.7" stroke="#ffffff" stroke-width="1" fill="none"/>
<line x1="36" y1="413.4" x2="771" y2="413.4" stroke="#00ff00" stroke-width="1" stroke-dasharray="9 1.5 2 1.5"/>
<line x1="37.3" y1="358.4" x2="37.3" y2="413.4" stroke="#00ff00" stroke-width="1"/>
<line x1="42.3" y1="358.4" x2="42.3" y2="413.4" stroke="#00ff00" stroke-width="1"/>
<line x1="36" y1="358.4" x2="44.5" y2="358.4" stroke="#00ff00" stroke-width="1"/>
<line x1="36" y1="413.4" x2="44.5" y2="413.4" stroke="#00ff00" stroke-width="1"/>
<line x1="40.5" y1="375.6" x2="44" y2="375.6" stroke="#00ff00" stroke-width="1"/>
<text x="40.6" y="369" font-size="2.88" text-anchor="middle" fill="#ffffff" stroke="#ffffff" stroke-width="0.35" font-weight="bold" transform="rotate(-90 40.6 369)">125</text>
<text x="40.6" y="396" font-size="2.88" text-anchor="middle" fill="#ffffff" stroke="#ffffff" stroke-width="0.35" font-weight="bold" transform="rotate(-90 40.6 396)">275</text>
<text x="36" y="388" font-size="3.12" text-anchor="middle" fill="#ffffff" stroke="#ffffff" stroke-width="0.35" font-weight="bold" transform="rotate(-90 36 388)">400</text>
<line x1="769.8" y1="358.4" x2="769.8" y2="413.4" stroke="#00ff00" stroke-width="1"/>
<line x1="763" y1="358.4" x2="771" y2="358.4" stroke="#00ff00" stroke-width="1"/>
<line x1="763" y1="413.4" x2="771" y2="413.4" stroke="#00ff00" stroke-width="1"/>
<line x1="761.5" y1="375.6" x2="761.5" y2="413.4" stroke="#00ff00" stroke-width="1"/>
<text x="760.6" y="383" font-size="2.88" text-anchor="middle" fill="#ffffff" stroke="#ffffff" stroke-width="0.35" font-weight="bold" transform="rotate(-90 760.6 383)">25</text>
<text x="760.6" y="410.5" font-size="2.88" text-anchor="middle" fill="#ffffff" stroke="#ffffff" stroke-width="0.35" font-weight="bold" transform="rotate(-90 760.6 410.5)">25</text>
<text x="767.8" y="386.5" font-size="3.36" text-anchor="middle" fill="#ffffff" stroke="#ffffff" stroke-width="0.35" font-weight="bold" transform="rotate(-90 767.8 386.5)">400</text>
<path d="M760 399 L771.8 393.5 L782 393.5" stroke="#00ff00" stroke-width="1" fill="none"/>
<text x="778" y="392.4" font-size="3.6" text-anchor="middle" fill="#ffffff" stroke="#ffffff" stroke-width="0.35" font-weight="bold">人孔</text>
<line x1="122.5" y1="354.3" x2="122.5" y2="413.4" stroke="#6a8aff" stroke-width="1"/>
<line x1="141.5" y1="354.3" x2="141.5" y2="413.4" stroke="#6a8aff" stroke-width="1"/>
<line x1="160.5" y1="354.3" x2="160.5" y2="413.4" stroke="#6a8aff" stroke-width="1"/>
<line x1="178.5" y1="354.3" x2="178.5" y2="413.4" stroke="#6a8aff" stroke-width="1"/>
<line x1="197.5" y1="354.3" x2="197.5" y2="413.4" stroke="#6a8aff" stroke-width="1"/>
<line x1="216.5" y1="354.3" x2="216.5" y2="413.4" stroke="#6a8aff" stroke-width="1"/>
<line x1="234.5" y1="354.3" x2="234.5" y2="413.4" stroke="#6a8aff" stroke-width="1"/>
<line x1="253.5" y1="354.3" x2="253.5" y2="413.4" stroke="#6a8aff" stroke-width="1"/>
<line x1="373.5" y1="354.3" x2="373.5" y2="413.4" stroke="#6a8aff" stroke-width="1"/>
<line x1="392.5" y1="354.3" x2="392.5" y2="413.4" stroke="#6a8aff" stroke-width="1"/>
<line x1="410.5" y1="354.3" x2="410.5" y2="413.4" stroke="#6a8aff" stroke-width="1"/>
<line x1="429.5" y1="354.3" x2="429.5" y2="413.4" stroke="#6a8aff" stroke-width="1"/>
<line x1="448.5" y1="354.3" x2="448.5" y2="413.4" stroke="#6a8aff" stroke-width="1"/>
<line x1="467.5" y1="354.3" x2="467.5" y2="413.4" stroke="#6a8aff" stroke-width="1"/>
<line x1="485.5" y1="354.3" x2="485.5" y2="413.4" stroke="#6a8aff" stroke-width="1"/>
<line x1="504.5" y1="354.3" x2="504.5" y2="413.4" stroke="#6a8aff" stroke-width="1"/>
<line x1="572.5" y1="354.3" x2="572.5" y2="413.4" stroke="#6a8aff" stroke-width="1"/>
<line x1="590.5" y1="354.3" x2="590.5" y2="413.4" stroke="#6a8aff" stroke-width="1"/>
<line x1="609.5" y1="354.3" x2="609.5" y2="413.4" stroke="#6a8aff" stroke-width="1"/>
<line x1="628.5" y1="354.3" x2="628.5" y2="413.4" stroke="#6a8aff" stroke-width="1"/>
<line x1="646.5" y1="354.3" x2="646.5" y2="413.4" stroke="#6a8aff" stroke-width="1"/>
<line x1="665.5" y1="354.3" x2="665.5" y2="413.4" stroke="#6a8aff" stroke-width="1"/>
<line x1="684.5" y1="354.3" x2="684.5" y2="413.4" stroke="#6a8aff" stroke-width="1"/>
<line x1="703.5" y1="354.3" x2="703.5" y2="413.4" stroke="#6a8aff" stroke-width="1"/>
<line x1="307.4" y1="358.4" x2="307.4" y2="413.4" stroke="#6a8aff" stroke-width="1"/>
<line x1="319.4" y1="358.4" x2="319.4" y2="413.4" stroke="#6a8aff" stroke-width="1"/>
<line x1="756.7" y1="358.4" x2="756.7" y2="413.4" stroke="#6a8aff" stroke-width="1"/>
<line x1="120.6" y1="407" x2="120.6" y2="413.8" stroke="#ff00ff" stroke-width="1.1"/>
<line x1="129.95" y1="407" x2="129.95" y2="413.8" stroke="#ff00ff" stroke-width="1.1"/>
<line x1="139.3" y1="407" x2="139.3" y2="413.8" stroke="#ff00ff" stroke-width="1.1"/>
<line x1="148.65" y1="407" x2="148.65" y2="413.8" stroke="#ff00ff" stroke-width="1.1"/>
<line x1="158" y1="407" x2="158" y2="413.8" stroke="#ff00ff" stroke-width="1.1"/>
<line x1="167.35" y1="407" x2="167.35" y2="413.8" stroke="#ff00ff" stroke-width="1.1"/>
<line x1="176.7" y1="407" x2="176.7" y2="413.8" stroke="#ff00ff" stroke-width="1.1"/>
<line x1="186.05" y1="407" x2="186.05" y2="413.8" stroke="#ff00ff" stroke-width="1.1"/>
<line x1="195.4" y1="407" x2="195.4" y2="413.8" stroke="#ff00ff" stroke-width="1.1"/>
<line x1="204.75" y1="407" x2="204.75" y2="413.8" stroke="#ff00ff" stroke-width="1.1"/>
<line x1="214.1" y1="407" x2="214.1" y2="413.8" stroke="#ff00ff" stroke-width="1.1"/>
<line x1="223.45" y1="407" x2="223.45" y2="413.8" stroke="#ff00ff" stroke-width="1.1"/>
<line x1="232.8" y1="407" x2="232.8" y2="413.8" stroke="#ff00ff" stroke-width="1.1"/>
<line x1="242.15" y1="407" x2="242.15" y2="413.8" stroke="#ff00ff" stroke-width="1.1"/>
<line x1="251.5" y1="407" x2="251.5" y2="413.8" stroke="#ff00ff" stroke-width="1.1"/>
<line x1="260.85" y1="407" x2="260.85" y2="413.8" stroke="#ff00ff" stroke-width="1.1"/>
<line x1="363.7" y1="407" x2="363.7" y2="413.8" stroke="#ff00ff" stroke-width="1.1"/>
<line x1="373.05" y1="407" x2="373.05" y2="413.8" stroke="#ff00ff" stroke-width="1.1"/>
<line x1="382.4" y1="407" x2="382.4" y2="413.8" stroke="#ff00ff" stroke-width="1.1"/>
<line x1="391.75" y1="407" x2="391.75" y2="413.8" stroke="#ff00ff" stroke-width="1.1"/>
<line x1="401.1" y1="407" x2="401.1" y2="413.8" stroke="#ff00ff" stroke-width="1.1"/>
<line x1="410.45" y1="407" x2="410.45" y2="413.8" stroke="#ff00ff" stroke-width="1.1"/>
<line x1="419.8" y1="407" x2="419.8" y2="413.8" stroke="#ff00ff" stroke-width="1.1"/>
<line x1="429.15" y1="407" x2="429.15" y2="413.8" stroke="#ff00ff" stroke-width="1.1"/>
<line x1="438.5" y1="407" x2="438.5" y2="413.8" stroke="#ff00ff" stroke-width="1.1"/>
<line x1="447.85" y1="407" x2="447.85" y2="413.8" stroke="#ff00ff" stroke-width="1.1"/>
<line x1="457.2" y1="407" x2="457.2" y2="413.8" stroke="#ff00ff" stroke-width="1.1"/>
<line x1="466.55" y1="407" x2="466.55" y2="413.8" stroke="#ff00ff" stroke-width="1.1"/>
<line x1="475.9" y1="407" x2="475.9" y2="413.8" stroke="#ff00ff" stroke-width="1.1"/>
<line x1="485.25" y1="407" x2="485.25" y2="413.8" stroke="#ff00ff" stroke-width="1.1"/>
<line x1="494.6" y1="407" x2="494.6" y2="413.8" stroke="#ff00ff" stroke-width="1.1"/>
<line x1="503.95" y1="407" x2="503.95" y2="413.8" stroke="#ff00ff" stroke-width="1.1"/>
<line x1="569.4" y1="407" x2="569.4" y2="413.8" stroke="#ff00ff" stroke-width="1.1"/>
<line x1="578.75" y1="407" x2="578.75" y2="413.8" stroke="#ff00ff" stroke-width="1.1"/>
<line x1="588.1" y1="407" x2="588.1" y2="413.8" stroke="#ff00ff" stroke-width="1.1"/>
<line x1="597.45" y1="407" x2="597.45" y2="413.8" stroke="#ff00ff" stroke-width="1.1"/>
<line x1="606.8" y1="407" x2="606.8" y2="413.8" stroke="#ff00ff" stroke-width="1.1"/>
<line x1="616.15" y1="407" x2="616.15" y2="413.8" stroke="#ff00ff" stroke-width="1.1"/>
<line x1="625.5" y1="407" x2="625.5" y2="413.8" stroke="#ff00ff" stroke-width="1.1"/>
<line x1="634.85" y1="407" x2="634.85" y2="413.8" stroke="#ff00ff" stroke-width="1.1"/>
<line x1="644.2" y1="407" x2="644.2" y2="413.8" stroke="#ff00ff" stroke-width="1.1"/>
<line x1="653.55" y1="407" x2="653.55" y2="413.8" stroke="#ff00ff" stroke-width="1.1"/>
<line x1="662.9" y1="407" x2="662.9" y2="413.8" stroke="#ff00ff" stroke-width="1.1"/>
<line x1="672.25" y1="407" x2="672.25" y2="413.8" stroke="#ff00ff" stroke-width="1.1"/>
<line x1="681.6" y1="407" x2="681.6" y2="413.8" stroke="#ff00ff" stroke-width="1.1"/>
<line x1="690.95" y1="407" x2="690.95" y2="413.8" stroke="#ff00ff" stroke-width="1.1"/>
<line x1="700.3" y1="407" x2="700.3" y2="413.8" stroke="#ff00ff" stroke-width="1.1"/>
<line x1="709.65" y1="407" x2="709.65" y2="413.8" stroke="#ff00ff" stroke-width="1.1"/>
<path d="M120.7 408.5 L122 410.5 L120.7 412.5" stroke="#ff00ff" stroke-width="0.9" fill="none"/>
<path d="M139.7 408.5 L141 410.5 L139.7 412.5" stroke="#ff00ff" stroke-width="0.9" fill="none"/>
<path d="M158.7 408.5 L160 410.5 L158.7 412.5" stroke="#ff00ff" stroke-width="0.9" fill="none"/>
<path d="M176.7 408.5 L178 410.5 L176.7 412.5" stroke="#ff00ff" stroke-width="0.9" fill="none"/>
<path d="M195.7 408.5 L197 410.5 L195.7 412.5" stroke="#ff00ff" stroke-width="0.9" fill="none"/>
<path d="M214.7 408.5 L216 410.5 L214.7 412.5" stroke="#ff00ff" stroke-width="0.9" fill="none"/>
<path d="M232.7 408.5 L234 410.5 L232.7 412.5" stroke="#ff00ff" stroke-width="0.9" fill="none"/>
<path d="M251.7 408.5 L253 410.5 L251.7 412.5" stroke="#ff00ff" stroke-width="0.9" fill="none"/>
<path d="M371.7 408.5 L373 410.5 L371.7 412.5" stroke="#ff00ff" stroke-width="0.9" fill="none"/>
<path d="M390.7 408.5 L392 410.5 L390.7 412.5" stroke="#ff00ff" stroke-width="0.9" fill="none"/>
<path d="M408.7 408.5 L410 410.5 L408.7 412.5" stroke="#ff00ff" stroke-width="0.9" fill="none"/>
<path d="M427.7 408.5 L429 410.5 L427.7 412.5" stroke="#ff00ff" stroke-width="0.9" fill="none"/>
<path d="M446.7 408.5 L448 410.5 L446.7 412.5" stroke="#ff00ff" stroke-width="0.9" fill="none"/>
<path d="M465.7 408.5 L467 410.5 L465.7 412.5" stroke="#ff00ff" stroke-width="0.9" fill="none"/>
<path d="M483.7 408.5 L485 410.5 L483.7 412.5" stroke="#ff00ff" stroke-width="0.9" fill="none"/>
<path d="M502.7 408.5 L504 410.5 L502.7 412.5" stroke="#ff00ff" stroke-width="0.9" fill="none"/>
<path d="M570.7 408.5 L572 410.5 L570.7 412.5" stroke="#ff00ff" stroke-width="0.9" fill="none"/>
<path d="M588.7 408.5 L590 410.5 L588.7 412.5" stroke="#ff00ff" stroke-width="0.9" fill="none"/>
<path d="M607.7 408.5 L609 410.5 L607.7 412.5" stroke="#ff00ff" stroke-width="0.9" fill="none"/>
<path d="M626.7 408.5 L628 410.5 L626.7 412.5" stroke="#ff00ff" stroke-width="0.9" fill="none"/>
<path d="M644.7 408.5 L646 410.5 L644.7 412.5" stroke="#ff00ff" stroke-width="0.9" fill="none"/>
<path d="M663.7 408.5 L665 410.5 L663.7 412.5" stroke="#ff00ff" stroke-width="0.9" fill="none"/>
<path d="M682.7 408.5 L684 410.5 L682.7 412.5" stroke="#ff00ff" stroke-width="0.9" fill="none"/>
<path d="M701.7 408.5 L703 410.5 L701.7 412.5" stroke="#ff00ff" stroke-width="0.9" fill="none"/>
<path d="M48.5 348.8 L48.5 344.2 L52.7 344.2" stroke="#6eebaa" stroke-width="1" fill="none"/>
<text x="54.3" y="345.4" font-size="3.36" text-anchor="middle" fill="#ffffff" stroke="#ffffff" stroke-width="0.35" font-weight="bold">1</text>
<path d="M48.5 420.3 L48.5 424.5 L52.7 424.5" stroke="#6eebaa" stroke-width="1" fill="none"/>
<text x="54.3" y="425.8" font-size="3.36" text-anchor="middle" fill="#ffffff" stroke="#ffffff" stroke-width="0.35" font-weight="bold">1</text>
<path d="M87.2 348.8 L87.2 344.2 L91.4 344.2" stroke="#6eebaa" stroke-width="1" fill="none"/>
<text x="93" y="345.4" font-size="3.36" text-anchor="middle" fill="#ffffff" stroke="#ffffff" stroke-width="0.35" font-weight="bold">2</text>
<path d="M87.2 420.3 L87.2 424.5 L91.4 424.5" stroke="#6eebaa" stroke-width="1" fill="none"/>
<text x="93" y="425.8" font-size="3.36" text-anchor="middle" fill="#ffffff" stroke="#ffffff" stroke-width="0.35" font-weight="bold">2</text>
<path d="M123.2 348.8 L123.2 344.2 L127.4 344.2" stroke="#6eebaa" stroke-width="1" fill="none"/>
<text x="129" y="345.4" font-size="3.36" text-anchor="middle" fill="#ffffff" stroke="#ffffff" stroke-width="0.35" font-weight="bold">3</text>
<path d="M123.2 420.3 L123.2 424.5 L127.4 424.5" stroke="#6eebaa" stroke-width="1" fill="none"/>
<text x="129" y="425.8" font-size="3.36" text-anchor="middle" fill="#ffffff" stroke="#ffffff" stroke-width="0.35" font-weight="bold">3</text>
<path d="M297 348.8 L297 344.2 L292.8 344.2" stroke="#6eebaa" stroke-width="1" fill="none"/>
<text x="291.2" y="345.4" font-size="3.36" text-anchor="middle" fill="#ffffff" stroke="#ffffff" stroke-width="0.35" font-weight="bold">4</text>
<path d="M297 420.3 L297 424.5 L292.8 424.5" stroke="#6eebaa" stroke-width="1" fill="none"/>
<text x="291.2" y="425.8" font-size="3.36" text-anchor="middle" fill="#ffffff" stroke="#ffffff" stroke-width="0.35" font-weight="bold">4</text>
<path d="M316.8 348.8 L316.8 344.2 L321 344.2" stroke="#6eebaa" stroke-width="1" fill="none"/>
<text x="322.6" y="345.4" font-size="3.36" text-anchor="middle" fill="#ffffff" stroke="#ffffff" stroke-width="0.35" font-weight="bold">5</text>
<path d="M316.8 420.3 L316.8 424.5 L321 424.5" stroke="#6eebaa" stroke-width="1" fill="none"/>
<text x="322.6" y="425.8" font-size="3.36" text-anchor="middle" fill="#ffffff" stroke="#ffffff" stroke-width="0.35" font-weight="bold">5</text>
<path d="M527.8 348.8 L527.8 344.2 L532 344.2" stroke="#6eebaa" stroke-width="1" fill="none"/>
<text x="533.6" y="345.4" font-size="3.36" text-anchor="middle" fill="#ffffff" stroke="#ffffff" stroke-width="0.35" font-weight="bold">6</text>
<path d="M527.8 420.3 L527.8 424.5 L532 424.5" stroke="#6eebaa" stroke-width="1" fill="none"/>
<text x="533.6" y="425.8" font-size="3.36" text-anchor="middle" fill="#ffffff" stroke="#ffffff" stroke-width="0.35" font-weight="bold">6</text>
<path d="M760.4 348.8 L760.4 344.2 L764.6 344.2" stroke="#6eebaa" stroke-width="1" fill="none"/>
<text x="766.2" y="345.4" font-size="3.36" text-anchor="middle" fill="#ffffff" stroke="#ffffff" stroke-width="0.35" font-weight="bold">7</text>
<path d="M760.4 420.3 L760.4 424.5 L764.6 424.5" stroke="#6eebaa" stroke-width="1" fill="none"/>
<text x="766.2" y="425.8" font-size="3.36" text-anchor="middle" fill="#ffffff" stroke="#ffffff" stroke-width="0.35" font-weight="bold">7</text>
<path d="M64 380 L65.5 386 L77 386" stroke="#00ff00" stroke-width="1" fill="none"/>
<text x="72.5" y="385" font-size="3.12" text-anchor="middle" fill="#ffffff" stroke="#ffffff" stroke-width="0.35" font-weight="bold">N1-N4</text>
<path d="M44.5 388.5 L46 387.5 L51 388.5" stroke="#00ff00" stroke-width="1" fill="none"/>
<text x="48" y="386.8" font-size="2.88" text-anchor="middle" fill="#ffffff" stroke="#ffffff" stroke-width="0.35" font-weight="bold">50</text>
<line x1="86.5" y1="368" x2="86.5" y2="376.3" stroke="#00ff00" stroke-width="1"/>
<line x1="86.5" y1="397" x2="86.5" y2="404" stroke="#00ff00" stroke-width="1"/>
<line x1="86.5" y1="376.3" x2="86.5" y2="382.5" stroke="#00ff00" stroke-dasharray="1.6 1.2"/>
<line x1="86.5" y1="404" x2="86.5" y2="411" stroke="#00ff00" stroke-dasharray="1.6 1.2"/>
<text x="84.1" y="371.5" font-size="2.88" text-anchor="middle" fill="#ffffff" stroke="#ffffff" stroke-width="0.35" font-weight="bold">25</text>
<text x="84.1" y="400.5" font-size="2.88" text-anchor="middle" fill="#ffffff" stroke="#ffffff" stroke-width="0.35" font-weight="bold">25</text>
<line x1="295" y1="368" x2="295" y2="376.3" stroke="#00ff00" stroke-width="1"/>
<line x1="278" y1="397" x2="278" y2="404" stroke="#00ff00" stroke-width="1"/>
<line x1="295" y1="376.3" x2="295" y2="382.5" stroke="#00ff00" stroke-dasharray="1.6 1.2"/>
<line x1="278" y1="404" x2="278" y2="411" stroke="#00ff00" stroke-dasharray="1.6 1.2"/>
<text x="292.6" y="371.5" font-size="2.88" text-anchor="middle" fill="#ffffff" stroke="#ffffff" stroke-width="0.35" font-weight="bold">25</text>
<text x="275.6" y="400.5" font-size="2.88" text-anchor="middle" fill="#ffffff" stroke="#ffffff" stroke-width="0.35" font-weight="bold">25</text>
<line x1="538.3" y1="368" x2="538.3" y2="376.3" stroke="#00ff00" stroke-width="1"/>
<line x1="538.3" y1="397" x2="538.3" y2="404" stroke="#00ff00" stroke-width="1"/>
<line x1="538.3" y1="376.3" x2="538.3" y2="382.5" stroke="#00ff00" stroke-dasharray="1.6 1.2"/>
<line x1="538.3" y1="404" x2="538.3" y2="411" stroke="#00ff00" stroke-dasharray="1.6 1.2"/>
<text x="535.9" y="371.5" font-size="2.88" text-anchor="middle" fill="#ffffff" stroke="#ffffff" stroke-width="0.35" font-weight="bold">25</text>
<text x="535.9" y="400.5" font-size="2.88" text-anchor="middle" fill="#ffffff" stroke="#ffffff" stroke-width="0.35" font-weight="bold">25</text>
<line x1="118" y1="391.5" x2="131" y2="391.5" stroke="#00ff00" stroke-width="1"/>
<text x="128.5" y="390.4" font-size="2.88" text-anchor="middle" fill="#ffffff" stroke="#ffffff" stroke-width="0.35" font-weight="bold">55</text>
<line x1="249" y1="391.5" x2="262" y2="391.5" stroke="#00ff00" stroke-width="1"/>
<text x="259.5" y="390.4" font-size="2.88" text-anchor="middle" fill="#ffffff" stroke="#ffffff" stroke-width="0.35" font-weight="bold">55</text>
<line x1="369" y1="391.5" x2="382" y2="391.5" stroke="#00ff00" stroke-width="1"/>
<text x="379.5" y="390.4" font-size="2.88" text-anchor="middle" fill="#ffffff" stroke="#ffffff" stroke-width="0.35" font-weight="bold">55</text>
<line x1="500" y1="391.5" x2="513" y2="391.5" stroke="#00ff00" stroke-width="1"/>
<text x="510.5" y="390.4" font-size="2.88" text-anchor="middle" fill="#ffffff" stroke="#ffffff" stroke-width="0.35" font-weight="bold">55</text>
<line x1="568" y1="391.5" x2="581" y2="391.5" stroke="#00ff00" stroke-width="1"/>
<text x="578.5" y="390.4" font-size="2.88" text-anchor="middle" fill="#ffffff" stroke="#ffffff" stroke-width="0.35" font-weight="bold">55</text>
<line x1="699" y1="391.5" x2="712" y2="391.5" stroke="#00ff00" stroke-width="1"/>
<text x="709.5" y="390.4" font-size="2.88" text-anchor="middle" fill="#ffffff" stroke="#ffffff" stroke-width="0.35" font-weight="bold">55</text>
<line x1="253.6" y1="368" x2="253.6" y2="380" stroke="#00ff00" stroke-width="1"/>
<text x="251.5" y="371" font-size="2.88" text-anchor="middle" fill="#ffffff" stroke="#ffffff" stroke-width="0.35" font-weight="bold">25</text>
<line x1="373.5" y1="368" x2="373.5" y2="380" stroke="#00ff00" stroke-width="1"/>
<text x="369.5" y="371" font-size="2.88" text-anchor="middle" fill="#ffffff" stroke="#ffffff" stroke-width="0.35" font-weight="bold">25</text>
<text x="89" y="417" font-size="3.36" text-anchor="middle" fill="#ffffff" stroke="#ffffff" stroke-width="0.35" font-weight="bold">对称中心线</text>
<text x="535.7" y="418" font-size="3.36" text-anchor="middle" fill="#ffffff" stroke="#ffffff" stroke-width="0.35" font-weight="bold">对称中心线</text>
<path d="M123.2 413.5 L124 417.6 L137 417.6" stroke="#00ff00" stroke-width="1" fill="none"/>
<text x="131" y="416.7" font-size="2.88" text-anchor="middle" fill="#ffffff" stroke="#ffffff" stroke-width="0.35" font-weight="bold">2×N5</text>
<path d="M162 380 L162.5 386.3 L173 386.3" stroke="#00ff00" stroke-width="1" fill="none"/>
<text x="169.5" y="385.3" font-size="2.88" text-anchor="middle" fill="#ffffff" stroke="#ffffff" stroke-width="0.35" font-weight="bold">N6</text>
<path d="M142.5 404 L145 400.2 L153 400.2" stroke="#00ff00" stroke-width="1" fill="none"/>
<text x="150" y="399.2" font-size="2.88" text-anchor="middle" fill="#ffffff" stroke="#ffffff" stroke-width="0.35" font-weight="bold">N7</text>
<path d="M255 404 L258 400.2 L265 400.2" stroke="#00ff00" stroke-width="1" fill="none"/>
<text x="262" y="399.2" font-size="2.88" text-anchor="middle" fill="#ffffff" stroke="#ffffff" stroke-width="0.35" font-weight="bold">N7</text>
<path d="M217 413.5 L218 418.3 L231 418.3" stroke="#00ff00" stroke-width="1" fill="none"/>
<text x="225" y="417.4" font-size="2.88" text-anchor="middle" fill="#ffffff" stroke="#ffffff" stroke-width="0.35" font-weight="bold">2×N5</text>
<line x1="188.3" y1="411" x2="188.3" y2="424" stroke="#00ff00" stroke-width="1"/>
<line x1="178.8" y1="413.5" x2="178.8" y2="418" stroke="#00ff00" stroke-width="1"/>
<line x1="196.8" y1="413.5" x2="196.8" y2="418" stroke="#00ff00" stroke-width="1"/>
<line x1="178.3" y1="418" x2="197.3" y2="418" stroke="#00ff00" stroke-width="1"/>
<text x="183.3" y="417" font-size="2.64" text-anchor="middle" fill="#ffffff" stroke="#ffffff" stroke-width="0.35" font-weight="bold">175</text>
<text x="193.3" y="417" font-size="2.64" text-anchor="middle" fill="#ffffff" stroke="#ffffff" stroke-width="0.35" font-weight="bold">175</text>
<line x1="175.3" y1="423.2" x2="187.3" y2="423.2" stroke="#00ff00" stroke-width="1"/>
<text x="181.3" y="422.3" font-size="2.88" text-anchor="middle" fill="#ffffff" stroke="#ffffff" stroke-width="0.35" font-weight="bold">2×N2</text>
<line x1="189.3" y1="424.6" x2="205.3" y2="424.6" stroke="#00ff00" stroke-width="1"/>
<text x="197.3" y="423.6" font-size="2.88" text-anchor="middle" fill="#ffffff" stroke="#ffffff" stroke-width="0.35" font-weight="bold">2×N3</text>
<line x1="438.5" y1="411" x2="438.5" y2="424" stroke="#00ff00" stroke-width="1"/>
<line x1="429" y1="413.5" x2="429" y2="418" stroke="#00ff00" stroke-width="1"/>
<line x1="447" y1="413.5" x2="447" y2="418" stroke="#00ff00" stroke-width="1"/>
<line x1="428.5" y1="418" x2="447.5" y2="418" stroke="#00ff00" stroke-width="1"/>
<text x="433.5" y="417" font-size="2.64" text-anchor="middle" fill="#ffffff" stroke="#ffffff" stroke-width="0.35" font-weight="bold">175</text>
<text x="443.5" y="417" font-size="2.64" text-anchor="middle" fill="#ffffff" stroke="#ffffff" stroke-width="0.35" font-weight="bold">175</text>
<line x1="425.5" y1="423.2" x2="437.5" y2="423.2" stroke="#00ff00" stroke-width="1"/>
<text x="431.5" y="422.3" font-size="2.88" text-anchor="middle" fill="#ffffff" stroke="#ffffff" stroke-width="0.35" font-weight="bold">2×N2</text>
<line x1="439.5" y1="424.6" x2="455.5" y2="424.6" stroke="#00ff00" stroke-width="1"/>
<text x="447.5" y="423.6" font-size="2.88" text-anchor="middle" fill="#ffffff" stroke="#ffffff" stroke-width="0.35" font-weight="bold">2×N3</text>
<line x1="636.7" y1="411" x2="636.7" y2="424" stroke="#00ff00" stroke-width="1"/>
<line x1="627.2" y1="413.5" x2="627.2" y2="418" stroke="#00ff00" stroke-width="1"/>
<line x1="645.2" y1="413.5" x2="645.2" y2="418" stroke="#00ff00" stroke-width="1"/>
<line x1="626.7" y1="418" x2="645.7" y2="418" stroke="#00ff00" stroke-width="1"/>
<text x="631.7" y="417" font-size="2.64" text-anchor="middle" fill="#ffffff" stroke="#ffffff" stroke-width="0.35" font-weight="bold">175</text>
<text x="641.7" y="417" font-size="2.64" text-anchor="middle" fill="#ffffff" stroke="#ffffff" stroke-width="0.35" font-weight="bold">175</text>
<line x1="623.7" y1="423.2" x2="635.7" y2="423.2" stroke="#00ff00" stroke-width="1"/>
<text x="629.7" y="422.3" font-size="2.88" text-anchor="middle" fill="#ffffff" stroke="#ffffff" stroke-width="0.35" font-weight="bold">2×N2</text>
<line x1="637.7" y1="424.6" x2="653.7" y2="424.6" stroke="#00ff00" stroke-width="1"/>
<text x="645.7" y="423.6" font-size="2.88" text-anchor="middle" fill="#ffffff" stroke="#ffffff" stroke-width="0.35" font-weight="bold">2×N3</text>
<line x1="253.4" y1="420.6" x2="373.4" y2="420.6" stroke="#00ff00" stroke-width="1"/>
<line x1="253.4" y1="414" x2="253.4" y2="422.5" stroke="#00ff00" stroke-width="1"/>
<line x1="306" y1="414" x2="306" y2="422.5" stroke="#00ff00" stroke-width="1"/>
<line x1="321" y1="414" x2="321" y2="422.5" stroke="#00ff00" stroke-width="1"/>
<line x1="373.4" y1="414" x2="373.4" y2="422.5" stroke="#00ff00" stroke-width="1"/>
<text x="279" y="419.5" font-size="2.88" text-anchor="middle" fill="#ffffff" stroke="#ffffff" stroke-width="0.35" font-weight="bold">600</text>
<text x="313.5" y="419.5" font-size="2.88" text-anchor="middle" fill="#ffffff" stroke="#ffffff" stroke-width="0.35" font-weight="bold">150</text>
<text x="347" y="419.5" font-size="2.88" text-anchor="middle" fill="#ffffff" stroke="#ffffff" stroke-width="0.35" font-weight="bold">600</text>
<text x="279" y="423.8" font-size="3.12" text-anchor="middle" fill="#ffffff" stroke="#ffffff" stroke-width="0.35" font-weight="bold">0号块</text>
<text x="347" y="423.8" font-size="3.12" text-anchor="middle" fill="#ffffff" stroke="#ffffff" stroke-width="0.35" font-weight="bold">0号块</text>
<path d="M326 379.5 L328 371.6 L337 371.6" stroke="#00ff00" stroke-width="1" fill="none"/>
<text x="334" y="370.6" font-size="2.88" text-anchor="middle" fill="#ffffff" stroke="#ffffff" stroke-width="0.35" font-weight="bold">N8</text>
<path d="M317 388 L322 383.5 L331 383.5" stroke="#00ff00" stroke-width="1" fill="none"/>
<text x="327.5" y="382.6" font-size="3.12" text-anchor="middle" fill="#ffffff" stroke="#ffffff" stroke-width="0.35" font-weight="bold">人孔</text>
<path d="M292 399.5 L300 399.5 L303.5 404.5" stroke="#00ff00" stroke-width="1" fill="none"/>
<text x="296" y="398.4" font-size="2.88" text-anchor="middle" fill="#ffffff" stroke="#ffffff" stroke-width="0.35" font-weight="bold">N9</text>
<line x1="297" y1="392.4" x2="305" y2="392.4" stroke="#00ff00" stroke-width="1"/>
<text x="300" y="390.4" font-size="2.88" text-anchor="middle" fill="#ffffff" stroke="#ffffff" stroke-width="0.35" font-weight="bold">75</text>
<line x1="322" y1="392.4" x2="331" y2="392.4" stroke="#00ff00" stroke-width="1"/>
<text x="327.5" y="390.4" font-size="2.88" text-anchor="middle" fill="#ffffff" stroke="#ffffff" stroke-width="0.35" font-weight="bold">75</text>
<path d="M375 404 L378.5 399.5 L391 399.5" stroke="#00ff00" stroke-width="1" fill="none"/>
<text x="386.5" y="398.5" font-size="2.88" text-anchor="middle" fill="#ffffff" stroke="#ffffff" stroke-width="0.35" font-weight="bold">N10</text>
<path d="M453 384 L465 384 L466.5 379.5" stroke="#00ff00" stroke-width="1" fill="none"/>
<text x="457" y="383" font-size="2.88" text-anchor="middle" fill="#ffffff" stroke="#ffffff" stroke-width="0.35" font-weight="bold">N6</text>
<path d="M432 398 L444 398 L447 402.5" stroke="#00ff00" stroke-width="1" fill="none"/>
<text x="436.5" y="397" font-size="2.88" text-anchor="middle" fill="#ffffff" stroke="#ffffff" stroke-width="0.35" font-weight="bold">N7</text>
<path d="M411 413.5 L412 420 L424 420" stroke="#00ff00" stroke-width="1" fill="none"/>
<text x="418.5" y="419" font-size="2.88" text-anchor="middle" fill="#ffffff" stroke="#ffffff" stroke-width="0.35" font-weight="bold">2×N5</text>
<path d="M453 413.5 L453.5 418 L462 418" stroke="#00ff00" stroke-width="1" fill="none"/>
<text x="458" y="417.2" font-size="2.88" text-anchor="middle" fill="#ffffff" stroke="#ffffff" stroke-width="0.35" font-weight="bold">N5</text>
<path d="M506 404 L509 399.5 L516 399.5" stroke="#00ff00" stroke-width="1" fill="none"/>
<text x="513" y="398.6" font-size="2.88" text-anchor="middle" fill="#ffffff" stroke="#ffffff" stroke-width="0.35" font-weight="bold">N7</text>
<path d="M573.5 413.5 L574.5 420 L586 420" stroke="#00ff00" stroke-width="1" fill="none"/>
<text x="581" y="419" font-size="2.88" text-anchor="middle" fill="#ffffff" stroke="#ffffff" stroke-width="0.35" font-weight="bold">2×N5</text>
<path d="M612 380 L614 385.2 L625 385.2" stroke="#00ff00" stroke-width="1" fill="none"/>
<text x="621" y="384.2" font-size="2.88" text-anchor="middle" fill="#ffffff" stroke="#ffffff" stroke-width="0.35" font-weight="bold">N6</text>
<path d="M682 380 L680.5 385.2 L669 385.2" stroke="#00ff00" stroke-width="1" fill="none"/>
<text x="674" y="384.2" font-size="2.88" text-anchor="middle" fill="#ffffff" stroke="#ffffff" stroke-width="0.35" font-weight="bold">N6</text>
<path d="M667 413.5 L668 418.5 L680 418.5" stroke="#00ff00" stroke-width="1" fill="none"/>
<text x="675" y="417.6" font-size="2.88" text-anchor="middle" fill="#ffffff" stroke="#ffffff" stroke-width="0.35" font-weight="bold">2×N5</text>
<path d="M706 404 L709 399.5 L717 399.5" stroke="#00ff00" stroke-width="1" fill="none"/>
<text x="713.5" y="398.6" font-size="2.88" text-anchor="middle" fill="#ffffff" stroke="#ffffff" stroke-width="0.35" font-weight="bold">N7</text>
<line x1="703.5" y1="420.6" x2="763.5" y2="420.6" stroke="#00ff00" stroke-width="1"/>
<line x1="703.5" y1="414" x2="703.5" y2="422.5" stroke="#00ff00" stroke-width="1"/>
<line x1="756.5" y1="414" x2="756.5" y2="422.5" stroke="#00ff00" stroke-width="1"/>
<line x1="763.5" y1="414" x2="763.5" y2="422.5" stroke="#00ff00" stroke-width="1"/>
<text x="730" y="419.5" font-size="2.88" text-anchor="middle" fill="#ffffff" stroke="#ffffff" stroke-width="0.35" font-weight="bold">600</text>
<text x="730" y="423.8" font-size="3.12" text-anchor="middle" fill="#ffffff" stroke="#ffffff" stroke-width="0.35" font-weight="bold">0号块</text>
<text x="760" y="419.5" font-size="2.64" text-anchor="middle" fill="#ffffff" stroke="#ffffff" stroke-width="0.35" font-weight="bold">75</text>
<line x1="728.5" y1="397" x2="728.5" y2="411" stroke="#00ff00" stroke-width="1"/>
<text x="726" y="400.5" font-size="2.88" text-anchor="middle" fill="#ffffff" stroke="#ffffff" stroke-width="0.35" font-weight="bold">25</text>
<line x1="745.4" y1="372" x2="745.4" y2="382.5" stroke="#00ff00" stroke-width="1"/>
<text x="743.3" y="378.6" font-size="2.88" text-anchor="middle" fill="#ffffff" stroke="#ffffff" stroke-width="0.35" font-weight="bold">25</text>
<line x1="703.3" y1="368" x2="703.3" y2="380.4" stroke="#00ff00" stroke-width="1"/>
<text x="700.6" y="371.6" font-size="2.88" text-anchor="middle" fill="#ffffff" stroke="#ffffff" stroke-width="0.35" font-weight="bold">25</text>
<line x1="748" y1="392" x2="757" y2="392" stroke="#00ff00" stroke-width="1"/>
<text x="750" y="390.6" font-size="2.88" text-anchor="middle" fill="#ffffff" stroke="#ffffff" stroke-width="0.35" font-weight="bold">75</text>
<text x="748" y="398.5" font-size="2.88" text-anchor="middle" fill="#ffffff" stroke="#ffffff" stroke-width="0.35" font-weight="bold">N9</text>
<line x1="743" y1="399.5" x2="752" y2="399.5" stroke="#00ff00" stroke-width="1"/>
<text x="733.5" y="352.9" font-size="3.12" text-anchor="middle" fill="#ffffff" stroke="#ffffff" stroke-width="0.35" font-weight="bold">600</text>
<text x="403.5" y="548.2" font-size="4" text-anchor="middle" fill="#ffffff" stroke="#ffffff" stroke-width="0.35" font-weight="bold">1-1</text>
<text x="402.4" y="550.9" font-size="2.2" text-anchor="middle" fill="#ffffff" stroke="#ffffff" stroke-width="0.35" font-weight="bold">75</text>
<line x1="347.4" y1="551.4" x2="457.5" y2="551.4" stroke="#00ff00" stroke-width="1.7"/>
<line x1="347.4" y1="554.6" x2="457.5" y2="554.6" stroke="#00ff00" stroke-width="1.7"/>
<line x1="347.4" y1="550.7" x2="347.4" y2="557.6" stroke="#00ff00" stroke-width="1"/>
<line x1="457.5" y1="550.7" x2="457.5" y2="557.6" stroke="#00ff00" stroke-width="1"/>
<line x1="364.5" y1="551" x2="364.5" y2="555.8" stroke="#00ff00" stroke-width="1"/>
<line x1="397" y1="551" x2="397" y2="555.8" stroke="#00ff00" stroke-width="1"/>
<line x1="402.4" y1="551" x2="402.4" y2="555.8" stroke="#00ff00" stroke-width="1"/>
<line x1="407" y1="551" x2="407" y2="555.8" stroke="#00ff00" stroke-width="1"/>
<line x1="440.5" y1="551" x2="440.5" y2="555.8" stroke="#00ff00" stroke-width="1"/>
<line x1="344.8" y1="555.4" x2="344.8" y2="571.5" stroke="#00ff00" stroke-width="1"/>
<line x1="459.8" y1="555.4" x2="459.8" y2="571.5" stroke="#00ff00" stroke-width="1"/>
<path d="M344.8 555.4 L345.8 554.6 L347.4 554.6" stroke="#00ff00" stroke-width="1" fill="none"/>
<path d="M459.8 555.4 L458.8 554.6 L457.5 554.6" stroke="#00ff00" stroke-width="1" fill="none"/>
<path d="M344.8 571.5 L346.2 572 L347.4 572" stroke="#00ff00" stroke-width="1" fill="none"/>
<path d="M459.8 571.5 L458.5 572 L457.5 572" stroke="#00ff00" stroke-width="1" fill="none"/>
<line x1="347.4" y1="572" x2="347.4" y2="576" stroke="#00ff00" stroke-width="1"/>
<line x1="457.5" y1="572" x2="457.5" y2="576" stroke="#00ff00" stroke-width="1"/>
<line x1="347.4" y1="574.2" x2="457.5" y2="574.2" stroke="#00ff00" stroke-width="1.9"/>
<text x="343.8" y="565.7" font-size="2.2" text-anchor="middle" fill="#ffffff" stroke="#ffffff" stroke-width="0.35" font-weight="bold" transform="rotate(-90 343.8 565.7)">25</text>
<text x="461.9" y="565.7" font-size="2.2" text-anchor="middle" fill="#ffffff" stroke="#ffffff" stroke-width="0.35" font-weight="bold" transform="rotate(-90 461.9 565.7)">25</text>
<text x="345.8" y="558.8" font-size="2.2" text-anchor="middle" fill="#ffffff" stroke="#ffffff" stroke-width="0.35" font-weight="bold">2</text>
<line x1="348" y1="557.6" x2="364.4" y2="557.6" stroke="#ffffff" stroke-width="1.5"/>
<line x1="440.4" y1="557.6" x2="456.9" y2="557.6" stroke="#ffffff" stroke-width="1.5"/>
<path d="M348 558.6 L355.4 558.9 L360.4 559.1 L364.4 560.2" stroke="#ffffff" stroke-width="0.7" fill="none"/>
<path d="M456.9 558.6 L449.5 558.9 L444.4 559.1 L440.4 560.2" stroke="#ffffff" stroke-width="0.7" fill="none"/>
<line x1="364.4" y1="557.1" x2="440.4" y2="557.1" stroke="#ffffff" stroke-width="1.4"/>
<path d="M364.5 557.6 L364.5 571 L440.5 571" stroke="#ffffff" stroke-width="1.4" fill="none"/>
<line x1="440.5" y1="559.4" x2="440.5" y2="574.2" stroke="#00ff00" stroke-width="1.1"/>
<line x1="440.5" y1="559.4" x2="447.4" y2="559.4" stroke="#00ff00" stroke-width="1"/>
<path d="M368.4 557.6 L368.4 568 L369.8 569.4 L392.8 569.4 L394.2 568 L394.2 557.6" stroke="#ffffff" stroke-width="1.3" fill="none"/>
<path d="M411.6 557.6 L411.6 568 L413 569.4 L434.7 569.4 L436.1 568 L436.1 557.6" stroke="#ffffff" stroke-width="1.3" fill="none"/>
<rect x="396.3" y="556.3" width="13.1" height="13.5" rx="1" ry="1" stroke="#ffffff" stroke-width="1.3" fill="none"/>
<rect x="398" y="558.1" width="9.3" height="10.9" rx="1" ry="1" stroke="#00ff00" stroke-width="1" fill="none"/>
<line x1="402.4" y1="559" x2="402.4" y2="571" stroke="#6a8aff" stroke-width="1"/>
<line x1="402.9" y1="565.1" x2="406.9" y2="565.1" stroke="#00ff00" stroke-width="1"/>
<text x="374.4" y="561.2" font-size="2.8" text-anchor="middle" fill="#ffffff" stroke="#ffffff" stroke-width="0.35" font-weight="bold">N1</text>
<text x="424.4" y="561.2" font-size="2.8" text-anchor="middle" fill="#ffffff" stroke="#ffffff" stroke-width="0.35" font-weight="bold">N2</text>
<text x="390.4" y="566.2" font-size="2.8" text-anchor="middle" fill="#ffffff" stroke="#ffffff" stroke-width="0.35" font-weight="bold">B1</text>
<text x="417.4" y="566.2" font-size="2.8" text-anchor="middle" fill="#ffffff" stroke="#ffffff" stroke-width="0.35" font-weight="bold">B2</text>
<path d="M370.9 559.1 L370.9 561.6 L372.4 562" stroke="#00ff00" stroke-width="1" fill="none"/>
<path d="M379.9 565.6 L380.6 569.2" stroke="#00ff00" stroke-width="1" fill="none"/>
<path d="M392.8 567.2 L394.6 568.8 L396.9 568.8" stroke="#00ff00" stroke-width="1" fill="none"/>
<path d="M413.9 567.4 L416.4 566.2 L419.4 566.2" stroke="#00ff00" stroke-width="1" fill="none"/>
<path d="M432.4 561.6 L433.9 558.1" stroke="#00ff00" stroke-width="1" fill="none"/>
<path d="M419.9 558.1 L419.9 560.6" stroke="#00ff00" stroke-width="1" fill="none"/>
<text x="444.8" y="562.2" font-size="3" text-anchor="middle" fill="#ffffff" stroke="#ffffff" stroke-width="0.35" font-weight="bold">T1</text>
<text x="358.4" y="558.8" font-size="2.6" text-anchor="middle" fill="#ffffff" stroke="#ffffff" stroke-width="0.35" font-weight="bold">T2</text>
<text x="363.9" y="558.2" font-size="2.4" text-anchor="middle" fill="#00ff00" stroke="#00ff00" stroke-width="0.35" font-weight="bold">T</text>
<text x="452.9" y="559.2" font-size="3" text-anchor="middle" fill="#ffffff" stroke="#ffffff" stroke-width="0.35" font-weight="bold">T3</text>
<line x1="361.9" y1="558.2" x2="366.2" y2="558.2" stroke="#00ff00" stroke-width="1.2"/>
<line x1="364.5" y1="571.3" x2="364.5" y2="575.6" stroke="#00ff00" stroke-width="1"/>
<line x1="371.4" y1="571.3" x2="371.4" y2="575.6" stroke="#00ff00" stroke-width="1"/>
<line x1="386.4" y1="571.3" x2="386.4" y2="575.6" stroke="#00ff00" stroke-width="1"/>
<line x1="399.4" y1="571.3" x2="399.4" y2="575.6" stroke="#00ff00" stroke-width="1"/>
<line x1="402.4" y1="571.3" x2="402.4" y2="575.6" stroke="#00ff00" stroke-width="1"/>
<line x1="405.4" y1="571.3" x2="405.4" y2="575.6" stroke="#00ff00" stroke-width="1"/>
<line x1="418.4" y1="571.3" x2="418.4" y2="575.6" stroke="#00ff00" stroke-width="1"/>
<line x1="433.4" y1="571.3" x2="433.4" y2="575.6" stroke="#00ff00" stroke-width="1"/>
<line x1="440.5" y1="571.3" x2="440.5" y2="575.6" stroke="#00ff00" stroke-width="1"/>
<text x="356.4" y="573.9" font-size="2.4" text-anchor="middle" fill="#ffffff" stroke="#ffffff" stroke-width="0.35" font-weight="bold">275</text>
<text x="372.4" y="573.9" font-size="2.4" text-anchor="middle" fill="#ffffff" stroke="#ffffff" stroke-width="0.35" font-weight="bold">40</text>
<text x="385.4" y="573.9" font-size="2.4" text-anchor="middle" fill="#ffffff" stroke="#ffffff" stroke-width="0.35" font-weight="bold">160</text>
<text x="419.4" y="573.9" font-size="2.4" text-anchor="middle" fill="#ffffff" stroke="#ffffff" stroke-width="0.35" font-weight="bold">160</text>
<text x="432.4" y="573.9" font-size="2.4" text-anchor="middle" fill="#ffffff" stroke="#ffffff" stroke-width="0.35" font-weight="bold">40</text>
<text x="449.4" y="573.9" font-size="2.4" text-anchor="middle" fill="#ffffff" stroke="#ffffff" stroke-width="0.35" font-weight="bold">275</text>
<text x="374.9" y="554" font-size="2.6" text-anchor="middle" fill="#ffffff" stroke="#ffffff" stroke-width="0.35" font-weight="bold">550</text>
<text x="430.9" y="554" font-size="2.6" text-anchor="middle" fill="#ffffff" stroke="#ffffff" stroke-width="0.35" font-weight="bold">550</text>
<text x="399.2" y="554.1" font-size="2.2" text-anchor="middle" fill="#ffffff" stroke="#ffffff" stroke-width="0.35" font-weight="bold">40</text>
<text x="405.6" y="554.1" font-size="2.2" text-anchor="middle" fill="#ffffff" stroke="#ffffff" stroke-width="0.35" font-weight="bold">40</text>
<text x="402.2" y="580.2" font-size="3.8" text-anchor="middle" fill="#ffffff" stroke="#ffffff" stroke-width="0.35" font-weight="bold">2-2</text>
<text x="402.4" y="583.2" font-size="2.2" text-anchor="middle" fill="#ffffff" stroke="#ffffff" stroke-width="0.35" font-weight="bold">75</text>
<line x1="347.4" y1="583.7" x2="457.5" y2="583.7" stroke="#00ff00" stroke-width="1.7"/>
<line x1="347.4" y1="586.9" x2="457.5" y2="586.9" stroke="#00ff00" stroke-width="1.7"/>
<line x1="347.4" y1="583" x2="347.4" y2="589.7" stroke="#00ff00" stroke-width="1"/>
<line x1="457.5" y1="583" x2="457.5" y2="589.7" stroke="#00ff00" stroke-width="1"/>
<line x1="364.5" y1="583.3" x2="364.5" y2="588.1" stroke="#00ff00" stroke-width="1"/>
<line x1="397" y1="583.3" x2="397" y2="588.1" stroke="#00ff00" stroke-width="1"/>
<line x1="402.4" y1="583.3" x2="402.4" y2="588.1" stroke="#00ff00" stroke-width="1"/>
<line x1="407" y1="583.3" x2="407" y2="588.1" stroke="#00ff00" stroke-width="1"/>
<line x1="440.5" y1="583.3" x2="440.5" y2="588.1" stroke="#00ff00" stroke-width="1"/>
<line x1="344.8" y1="587.7" x2="344.8" y2="603.8" stroke="#00ff00" stroke-width="1"/>
<line x1="459.8" y1="587.7" x2="459.8" y2="603.8" stroke="#00ff00" stroke-width="1"/>
<path d="M344.8 587.7 L345.8 586.9 L347.4 586.9" stroke="#00ff00" stroke-width="1" fill="none"/>
<path d="M459.8 587.7 L458.8 586.9 L457.5 586.9" stroke="#00ff00" stroke-width="1" fill="none"/>
<path d="M344.8 603.8 L346.2 604.3 L347.4 604.3" stroke="#00ff00" stroke-width="1" fill="none"/>
<path d="M459.8 603.8 L458.5 604.3 L457.5 604.3" stroke="#00ff00" stroke-width="1" fill="none"/>
<line x1="347.4" y1="604.3" x2="347.4" y2="608.4" stroke="#00ff00" stroke-width="1"/>
<line x1="457.5" y1="604.3" x2="457.5" y2="608.4" stroke="#00ff00" stroke-width="1"/>
<line x1="347.4" y1="606.6" x2="457.5" y2="606.6" stroke="#00ff00" stroke-width="1.9"/>
<text x="343.8" y="597.9" font-size="2.2" text-anchor="middle" fill="#ffffff" stroke="#ffffff" stroke-width="0.35" font-weight="bold" transform="rotate(-90 343.8 597.9)">25</text>
<text x="461.9" y="597.9" font-size="2.2" text-anchor="middle" fill="#ffffff" stroke="#ffffff" stroke-width="0.35" font-weight="bold" transform="rotate(-90 461.9 597.9)">25</text>
<text x="345.8" y="590.9" font-size="2.2" text-anchor="middle" fill="#ffffff" stroke="#ffffff" stroke-width="0.35" font-weight="bold">2</text>
<line x1="348" y1="589.7" x2="364.4" y2="589.7" stroke="#ffffff" stroke-width="1.5"/>
<line x1="440.4" y1="589.7" x2="456.9" y2="589.7" stroke="#ffffff" stroke-width="1.5"/>
<path d="M348 590.7 L355.4 591 L360.4 591.2 L364.4 592.3" stroke="#ffffff" stroke-width="0.7" fill="none"/>
<path d="M456.9 590.7 L449.5 591 L444.4 591.2 L440.4 592.3" stroke="#ffffff" stroke-width="0.7" fill="none"/>
<path d="M364.5 589.3 L370.9 589.1 L373.4 588.3 L385.4 588.3" stroke="#ffffff" stroke-width="1.2" fill="none"/>
<path d="M411.4 588.3 L434.9 588.3 L435.4 589.5 L448.4 589.6" stroke="#ffffff" stroke-width="1.2" fill="none"/>
<path d="M374.9 588.5 L376.4 591.1 L377.4 591.3" stroke="#ffffff" stroke-width="0.9" fill="none"/>
<line x1="364.5" y1="589.3" x2="364.5" y2="602.7" stroke="#ffffff" stroke-width="1.4"/>
<line x1="440.5" y1="591.7" x2="440.5" y2="608.4" stroke="#00ff00" stroke-width="1.1"/>
<line x1="440.5" y1="591.7" x2="443.9" y2="591.7" stroke="#00ff00" stroke-width="1"/>
<line x1="364.5" y1="602.3" x2="440.5" y2="602.3" stroke="#00ff00" stroke-width="1.6"/>
<path d="M378.3 590.9 L388.6 590.9 L390.6 592.9 L390.6 598.2 L389 599.6 L377.9 599.6 L376.3 598.2 L376.3 592.9 Z" stroke="#ffffff" stroke-width="1.3" fill="none"/>
<text x="384.05" y="594.1" font-size="2.6" text-anchor="middle" fill="#ffffff" stroke="#ffffff" stroke-width="0.35" font-weight="bold">N2</text>
<path d="M379.45 593.1 L381.05 594.5 L386.45 594.5" stroke="#00ff00" stroke-width="0.9" fill="none"/>
<text x="385.45" y="598.1" font-size="2.6" text-anchor="middle" fill="#ffffff" stroke="#ffffff" stroke-width="0.35" font-weight="bold">N3</text>
<path d="M381.05 596.7 L383.05 598.5 L387.45 598.7" stroke="#00ff00" stroke-width="0.9" fill="none"/>
<path d="M417.1 590.9 L427.6 590.9 L429.6 592.9 L429.6 598.2 L428 599.6 L416.7 599.6 L415.1 598.2 L415.1 592.9 Z" stroke="#ffffff" stroke-width="1.3" fill="none"/>
<text x="422.95" y="594.1" font-size="2.6" text-anchor="middle" fill="#ffffff" stroke="#ffffff" stroke-width="0.35" font-weight="bold">N2</text>
<path d="M418.35 593.1 L419.95 594.5 L425.35 594.5" stroke="#00ff00" stroke-width="0.9" fill="none"/>
<text x="424.35" y="598.1" font-size="2.6" text-anchor="middle" fill="#ffffff" stroke="#ffffff" stroke-width="0.35" font-weight="bold">N3</text>
<path d="M419.95 596.7 L421.95 598.5 L426.35 598.7" stroke="#00ff00" stroke-width="0.9" fill="none"/>
<rect x="389.5" y="588" width="1.1" height="1.1" fill="#ff2020"/>
<rect x="389.5" y="591" width="1.1" height="1.1" fill="#ff2020"/>
<path d="M391.4 590.5 L394 587.7 L397.4 587.1 L399.9 588.1 L404.9 588.1 L407.4 587.1 L410.4 588.3 L411 591.1 L412.4 591.5" stroke="#00ff00" stroke-width="1.1" fill="none"/>
<line x1="402.4" y1="587.5" x2="402.4" y2="600.7" stroke="#6a8aff" stroke-width="1"/>
<text x="444.8" y="594.5" font-size="3" text-anchor="middle" fill="#ffffff" stroke="#ffffff" stroke-width="0.35" font-weight="bold">T2</text>
<text x="452.9" y="591.5" font-size="3" text-anchor="middle" fill="#ffffff" stroke="#ffffff" stroke-width="0.35" font-weight="bold">T3</text>
<line x1="361.8" y1="590.4" x2="366" y2="590.4" stroke="#00ff00" stroke-width="1.2"/>
<text x="374.9" y="586.3" font-size="2.6" text-anchor="middle" fill="#ffffff" stroke="#ffffff" stroke-width="0.35" font-weight="bold">550</text>
<text x="430.9" y="586.3" font-size="2.6" text-anchor="middle" fill="#ffffff" stroke="#ffffff" stroke-width="0.35" font-weight="bold">550</text>
<text x="399.2" y="586.4" font-size="2.2" text-anchor="middle" fill="#ffffff" stroke="#ffffff" stroke-width="0.35" font-weight="bold">40</text>
<text x="405.6" y="586.4" font-size="2.2" text-anchor="middle" fill="#ffffff" stroke="#ffffff" stroke-width="0.35" font-weight="bold">40</text>
<line x1="364.5" y1="602.3" x2="364.5" y2="607.8" stroke="#00ff00" stroke-width="1"/>
<line x1="376.3" y1="602.3" x2="376.3" y2="607.8" stroke="#00ff00" stroke-width="1"/>
<line x1="383.3" y1="602.3" x2="383.3" y2="607.8" stroke="#00ff00" stroke-width="1"/>
<line x1="390.6" y1="602.3" x2="390.6" y2="607.8" stroke="#00ff00" stroke-width="1"/>
<line x1="395.5" y1="602.3" x2="395.5" y2="607.8" stroke="#00ff00" stroke-width="1"/>
<line x1="402.4" y1="602.3" x2="402.4" y2="607.8" stroke="#00ff00" stroke-width="1"/>
<line x1="408.4" y1="602.3" x2="408.4" y2="607.8" stroke="#00ff00" stroke-width="1"/>
<line x1="415.4" y1="602.3" x2="415.4" y2="607.8" stroke="#00ff00" stroke-width="1"/>
<line x1="422.4" y1="602.3" x2="422.4" y2="607.8" stroke="#00ff00" stroke-width="1"/>
<line x1="429.6" y1="602.3" x2="429.6" y2="607.8" stroke="#00ff00" stroke-width="1"/>
<line x1="434.4" y1="602.3" x2="434.4" y2="607.8" stroke="#00ff00" stroke-width="1"/>
<line x1="440.5" y1="602.3" x2="440.5" y2="607.8" stroke="#00ff00" stroke-width="1"/>
<line x1="372.4" y1="600.7" x2="372.4" y2="604.7" stroke="#6a8aff" stroke-width="1.1"/>
<line x1="395.3" y1="600.7" x2="395.3" y2="604.7" stroke="#6a8aff" stroke-width="1.1"/>
<line x1="410.4" y1="600.7" x2="410.4" y2="604.7" stroke="#6a8aff" stroke-width="1.1"/>
<line x1="432.6" y1="600.7" x2="432.6" y2="604.7" stroke="#6a8aff" stroke-width="1.1"/>
<line x1="395.4" y1="600.7" x2="395.4" y2="604.7" stroke="#6a8aff" stroke-width="1.1"/>
<text x="371.4" y="606" font-size="3" text-anchor="middle" fill="#ffffff" stroke="#ffffff" stroke-width="0.6" font-weight="bold">B6</text>
<text x="383.7" y="606" font-size="3" text-anchor="middle" fill="#ffffff" stroke="#ffffff" stroke-width="0.6" font-weight="bold">B4</text>
<text x="397" y="606" font-size="3" text-anchor="middle" fill="#ffffff" stroke="#ffffff" stroke-width="0.6" font-weight="bold">B2</text>
<text x="406.4" y="606" font-size="3" text-anchor="middle" fill="#ffffff" stroke="#ffffff" stroke-width="0.6" font-weight="bold">B1B1</text>
<text x="421.7" y="606" font-size="3" text-anchor="middle" fill="#ffffff" stroke="#ffffff" stroke-width="0.6" font-weight="bold">B3</text>
<text x="436" y="606" font-size="3" text-anchor="middle" fill="#ffffff" stroke="#ffffff" stroke-width="0.6" font-weight="bold">B5</text>
<rect x="412.9" y="602.8" width="1" height="1" fill="#ff2020"/>
<rect x="415" y="602.8" width="1" height="1" fill="#ff2020"/>
<rect x="429" y="602.8" width="1" height="1" fill="#ff2020"/>
<rect x="440" y="602.8" width="1" height="1" fill="#ff2020"/>
<rect x="415" y="599" width="1" height="1" fill="#ff2020"/>
<rect x="440" y="605" width="1" height="1" fill="#ff2020"/>
<path d="M367.4 601.7 L368.9 599.7 L371.9 599.3 L372.8 601.5" stroke="#ffffff" stroke-width="1.2" fill="none"/>
<path d="M413.8 599.3 L415.4 601.3 L418.6 601.4" stroke="#00ff00" stroke-width="1" fill="none"/>
<path d="M433.4 601.7 L435.9 599.9 L438.4 600.3 L439.4 601.7" stroke="#00ff00" stroke-width="1" fill="none"/>
<line x1="403.2" y1="601.1" x2="409.4" y2="601.1" stroke="#ffffff" stroke-width="1.4"/>
<line x1="435" y1="599.9" x2="437.8" y2="599.9" stroke="#ffffff" stroke-width="1.4"/>
<line x1="389.8" y1="600.9" x2="392.8" y2="600.9" stroke="#ffffff" stroke-width="1.2"/>
<text x="356.4" y="606.4" font-size="2.4" text-anchor="middle" fill="#ffffff" stroke="#ffffff" stroke-width="0.35" font-weight="bold">275</text>
<text x="449.4" y="606.4" font-size="2.4" text-anchor="middle" fill="#ffffff" stroke="#ffffff" stroke-width="0.35" font-weight="bold">275</text>
<text x="403.8" y="611.2" font-size="3.8" text-anchor="middle" fill="#ffffff" stroke="#ffffff" stroke-width="0.35" font-weight="bold">3-3</text>
<text x="402.4" y="614" font-size="2.2" text-anchor="middle" fill="#ffffff" stroke="#ffffff" stroke-width="0.35" font-weight="bold">75</text>
<line x1="347.4" y1="614.5" x2="457.5" y2="614.5" stroke="#00ff00" stroke-width="1.7"/>
<line x1="347.4" y1="617.7" x2="457.5" y2="617.7" stroke="#00ff00" stroke-width="1.7"/>
<line x1="347.4" y1="613.8" x2="347.4" y2="620.9" stroke="#00ff00" stroke-width="1"/>
<line x1="457.5" y1="613.8" x2="457.5" y2="620.9" stroke="#00ff00" stroke-width="1"/>
<line x1="364.5" y1="614.1" x2="364.5" y2="618.9" stroke="#00ff00" stroke-width="1"/>
<line x1="397" y1="614.1" x2="397" y2="618.9" stroke="#00ff00" stroke-width="1"/>
<line x1="402.4" y1="614.1" x2="402.4" y2="618.9" stroke="#00ff00" stroke-width="1"/>
<line x1="407" y1="614.1" x2="407" y2="618.9" stroke="#00ff00" stroke-width="1"/>
<line x1="440.5" y1="614.1" x2="440.5" y2="618.9" stroke="#00ff00" stroke-width="1"/>
<line x1="344.8" y1="618.5" x2="344.8" y2="634.5" stroke="#00ff00" stroke-width="1"/>
<line x1="459.8" y1="618.5" x2="459.8" y2="634.5" stroke="#00ff00" stroke-width="1"/>
<path d="M344.8 618.5 L345.8 617.7 L347.4 617.7" stroke="#00ff00" stroke-width="1" fill="none"/>
<path d="M459.8 618.5 L458.8 617.7 L457.5 617.7" stroke="#00ff00" stroke-width="1" fill="none"/>
<path d="M344.8 634.5 L346.2 635 L347.4 635" stroke="#00ff00" stroke-width="1" fill="none"/>
<path d="M459.8 634.5 L458.5 635 L457.5 635" stroke="#00ff00" stroke-width="1" fill="none"/>
<line x1="347.4" y1="635" x2="347.4" y2="639.4" stroke="#00ff00" stroke-width="1"/>
<line x1="457.5" y1="635" x2="457.5" y2="639.4" stroke="#00ff00" stroke-width="1"/>
<line x1="347.4" y1="637.6" x2="457.5" y2="637.6" stroke="#00ff00" stroke-width="1.9"/>
<text x="343.8" y="628.85" font-size="2.2" text-anchor="middle" fill="#ffffff" stroke="#ffffff" stroke-width="0.35" font-weight="bold" transform="rotate(-90 343.8 628.85)">25</text>
<text x="461.9" y="628.85" font-size="2.2" text-anchor="middle" fill="#ffffff" stroke="#ffffff" stroke-width="0.35" font-weight="bold" transform="rotate(-90 461.9 628.85)">25</text>
<text x="345.8" y="622.1" font-size="2.2" text-anchor="middle" fill="#ffffff" stroke="#ffffff" stroke-width="0.35" font-weight="bold">2</text>
<line x1="348" y1="620.9" x2="364.4" y2="620.9" stroke="#ffffff" stroke-width="1.5"/>
<line x1="440.4" y1="620.9" x2="456.9" y2="620.9" stroke="#ffffff" stroke-width="1.5"/>
<path d="M348 621.9 L355.4 622.2 L360.4 622.4 L364.4 623.5" stroke="#ffffff" stroke-width="0.7" fill="none"/>
<path d="M456.9 621.9 L449.5 622.2 L444.4 622.4 L440.4 623.5" stroke="#ffffff" stroke-width="0.7" fill="none"/>
<path d="M364.5 620.5 L370.9 620.3 L373.4 619.5 L385.4 619.5" stroke="#ffffff" stroke-width="1.2" fill="none"/>
<path d="M411.4 619.5 L434.9 619.5 L435.4 620.7 L448.4 620.8" stroke="#ffffff" stroke-width="1.2" fill="none"/>
<path d="M374.9 619.7 L376.4 622.3 L377.4 622.5" stroke="#ffffff" stroke-width="0.9" fill="none"/>
<line x1="364.5" y1="620.5" x2="364.5" y2="634" stroke="#ffffff" stroke-width="1.4"/>
<line x1="441.2" y1="620.9" x2="441.2" y2="634" stroke="#ffffff" stroke-width="1.4"/>
<line x1="364.5" y1="634" x2="441.2" y2="634" stroke="#ffffff" stroke-width="1.4"/>
<path d="M378.3 622.1 L388.6 622.1 L390.6 624.1 L390.6 629.4 L389 630.8 L377.9 630.8 L376.3 629.4 L376.3 624.1 Z" stroke="#ffffff" stroke-width="1.3" fill="none"/>
<text x="384.05" y="625.3" font-size="2.6" text-anchor="middle" fill="#ffffff" stroke="#ffffff" stroke-width="0.35" font-weight="bold">N2</text>
<path d="M379.45 624.3 L381.05 625.7 L386.45 625.7" stroke="#00ff00" stroke-width="0.9" fill="none"/>
<text x="385.45" y="629.3" font-size="2.6" text-anchor="middle" fill="#ffffff" stroke="#ffffff" stroke-width="0.35" font-weight="bold">N3</text>
<path d="M381.05 627.9 L383.05 629.7 L387.45 629.9" stroke="#00ff00" stroke-width="0.9" fill="none"/>
<path d="M417.1 622.1 L427.6 622.1 L429.6 624.1 L429.6 629.4 L428 630.8 L416.7 630.8 L415.1 629.4 L415.1 624.1 Z" stroke="#ffffff" stroke-width="1.3" fill="none"/>
<text x="422.95" y="625.3" font-size="2.6" text-anchor="middle" fill="#ffffff" stroke="#ffffff" stroke-width="0.35" font-weight="bold">N2</text>
<path d="M418.35 624.3 L419.95 625.7 L425.35 625.7" stroke="#00ff00" stroke-width="0.9" fill="none"/>
<text x="424.35" y="629.3" font-size="2.6" text-anchor="middle" fill="#ffffff" stroke="#ffffff" stroke-width="0.35" font-weight="bold">N3</text>
<path d="M419.95 627.9 L421.95 629.7 L426.35 629.9" stroke="#00ff00" stroke-width="0.9" fill="none"/>
<rect x="389.5" y="619.2" width="1.1" height="1.1" fill="#ff2020"/>
<rect x="389.5" y="622.2" width="1.1" height="1.1" fill="#ff2020"/>
<path d="M391.4 621.7 L394 618.9 L397.4 618.3 L399.9 619.3 L404.9 619.3 L407.4 618.3 L410.4 619.5 L411 622.3 L412.4 622.7" stroke="#00ff00" stroke-width="1.1" fill="none"/>
<line x1="402.4" y1="618.7" x2="402.4" y2="639.2" stroke="#6a8aff" stroke-width="1"/>
<text x="444.8" y="625.7" font-size="3" text-anchor="middle" fill="#ffffff" stroke="#ffffff" stroke-width="0.35" font-weight="bold">T2</text>
<text x="452.9" y="622.7" font-size="3" text-anchor="middle" fill="#ffffff" stroke="#ffffff" stroke-width="0.35" font-weight="bold">T3</text>
<line x1="361.8" y1="621.6" x2="366" y2="621.6" stroke="#00ff00" stroke-width="1.2"/>
<text x="374.9" y="617.1" font-size="2.6" text-anchor="middle" fill="#ffffff" stroke="#ffffff" stroke-width="0.35" font-weight="bold">550</text>
<text x="430.9" y="617.1" font-size="2.6" text-anchor="middle" fill="#ffffff" stroke="#ffffff" stroke-width="0.35" font-weight="bold">550</text>
<text x="399.2" y="617.2" font-size="2.2" text-anchor="middle" fill="#ffffff" stroke="#ffffff" stroke-width="0.35" font-weight="bold">40</text>
<text x="405.6" y="617.2" font-size="2.2" text-anchor="middle" fill="#ffffff" stroke="#ffffff" stroke-width="0.35" font-weight="bold">40</text>
<line x1="364.5" y1="635" x2="364.5" y2="638.8" stroke="#00ff00" stroke-width="1"/>
<line x1="368.76" y1="635" x2="368.76" y2="638.8" stroke="#00ff00" stroke-width="1"/>
<line x1="373.02" y1="635" x2="373.02" y2="638.8" stroke="#00ff00" stroke-width="1"/>
<line x1="377.28" y1="635" x2="377.28" y2="638.8" stroke="#00ff00" stroke-width="1"/>
<line x1="381.54" y1="635" x2="381.54" y2="638.8" stroke="#00ff00" stroke-width="1"/>
<line x1="385.81" y1="635" x2="385.81" y2="638.8" stroke="#00ff00" stroke-width="1"/>
<line x1="390.07" y1="635" x2="390.07" y2="638.8" stroke="#00ff00" stroke-width="1"/>
<line x1="394.33" y1="635" x2="394.33" y2="638.8" stroke="#00ff00" stroke-width="1"/>
<line x1="398.59" y1="635" x2="398.59" y2="638.8" stroke="#00ff00" stroke-width="1"/>
<line x1="402.85" y1="635" x2="402.85" y2="638.8" stroke="#00ff00" stroke-width="1"/>
<line x1="407.11" y1="635" x2="407.11" y2="638.8" stroke="#00ff00" stroke-width="1"/>
<line x1="411.37" y1="635" x2="411.37" y2="638.8" stroke="#00ff00" stroke-width="1"/>
<line x1="415.63" y1="635" x2="415.63" y2="638.8" stroke="#00ff00" stroke-width="1"/>
<line x1="419.89" y1="635" x2="419.89" y2="638.8" stroke="#00ff00" stroke-width="1"/>
<line x1="424.16" y1="635" x2="424.16" y2="638.8" stroke="#00ff00" stroke-width="1"/>
<line x1="428.42" y1="635" x2="428.42" y2="638.8" stroke="#00ff00" stroke-width="1"/>
<line x1="432.68" y1="635" x2="432.68" y2="638.8" stroke="#00ff00" stroke-width="1"/>
<line x1="436.94" y1="635" x2="436.94" y2="638.8" stroke="#00ff00" stroke-width="1"/>
<line x1="441.2" y1="635" x2="441.2" y2="638.8" stroke="#00ff00" stroke-width="1"/>
<path d="M412.6 633.6 L414.4 630.8 L416.8 632.4 L419 631.4" stroke="#00ff00" stroke-width="1" fill="none"/>
<rect x="413.5" y="633.6" width="1" height="1" fill="#ff2020"/>
<rect x="415.3" y="633.6" width="1" height="1" fill="#ff2020"/>
<text x="370.4" y="637.2" font-size="2.4" text-anchor="middle" fill="#ffffff" stroke="#ffffff" stroke-width="0.35" font-weight="bold">20</text>
<text x="383.4" y="637.2" font-size="2.4" text-anchor="middle" fill="#ffffff" stroke="#ffffff" stroke-width="0.35" font-weight="bold">25</text>
<text x="396.4" y="637.2" font-size="2.4" text-anchor="middle" fill="#ffffff" stroke="#ffffff" stroke-width="0.35" font-weight="bold">20</text>
<text x="409.4" y="637.2" font-size="2.4" text-anchor="middle" fill="#ffffff" stroke="#ffffff" stroke-width="0.35" font-weight="bold">25</text>
<text x="421.4" y="637.2" font-size="2.4" text-anchor="middle" fill="#ffffff" stroke="#ffffff" stroke-width="0.35" font-weight="bold">20</text>
<text x="434.4" y="637.2" font-size="2.4" text-anchor="middle" fill="#ffffff" stroke="#ffffff" stroke-width="0.35" font-weight="bold">25</text>
<text x="356.4" y="637.4" font-size="2.4" text-anchor="middle" fill="#ffffff" stroke="#ffffff" stroke-width="0.35" font-weight="bold">275</text>
<text x="449.4" y="637.4" font-size="2.4" text-anchor="middle" fill="#ffffff" stroke="#ffffff" stroke-width="0.35" font-weight="bold">275</text>
<text x="563.1" y="548" font-size="3.96" text-anchor="middle" fill="#ffffff" stroke="#ffffff" stroke-width="0.35" font-weight="bold">4-4</text>
<line x1="507.2" y1="551.5" x2="616.5" y2="551.5" stroke="#00ff00" stroke-width="1.7"/>
<line x1="507.2" y1="554.5" x2="616.5" y2="554.5" stroke="#00ff00" stroke-width="1.7"/>
<line x1="507.2" y1="550.7" x2="507.2" y2="556.5" stroke="#00ff00" stroke-width="1"/>
<line x1="616.5" y1="550.7" x2="616.5" y2="556.5" stroke="#00ff00" stroke-width="1"/>
<line x1="524.2" y1="551.2" x2="524.2" y2="555.7" stroke="#00ff00" stroke-width="1"/>
<line x1="553.5" y1="551.2" x2="553.5" y2="555.7" stroke="#00ff00" stroke-width="1"/>
<line x1="557.5" y1="551.2" x2="557.5" y2="555.7" stroke="#00ff00" stroke-width="1"/>
<line x1="565.5" y1="551.2" x2="565.5" y2="555.7" stroke="#00ff00" stroke-width="1"/>
<line x1="569.5" y1="551.2" x2="569.5" y2="555.7" stroke="#00ff00" stroke-width="1"/>
<line x1="599.5" y1="551.2" x2="599.5" y2="555.7" stroke="#00ff00" stroke-width="1"/>
<line x1="507.7" y1="557.7" x2="524.2" y2="557.7" stroke="#ffffff" stroke-width="1.6"/>
<line x1="599.5" y1="557.7" x2="616" y2="557.7" stroke="#ffffff" stroke-width="1.6"/>
<path d="M507.7 558.9 L516.2 559.2 L520.2 559.3 L524.2 560.3" stroke="#ffffff" stroke-width="0.7" fill="none"/>
<path d="M616 558.9 L607.5 559.2 L603.5 559.3 L599.5 560.3" stroke="#ffffff" stroke-width="0.7" fill="none"/>
<path d="M524.2 557.5 L524.2 564.6 L599.5 564.6" stroke="#ffffff" stroke-width="1.3" fill="none"/>
<line x1="599.5" y1="559.3" x2="599.5" y2="568.4" stroke="#00ff00" stroke-width="1.1"/>
<line x1="599.5" y1="559.3" x2="604" y2="559.3" stroke="#00ff00" stroke-width="1"/>
<line x1="529.2" y1="556.6" x2="594.5" y2="556.6" stroke="#ffffff" stroke-width="1.3"/>
<rect x="504.1" y="556.3" width="3.1" height="2.3" fill="#00ff00"/>
<line x1="504.5" y1="557.7" x2="504.5" y2="564.2" stroke="#00ff00" stroke-width="1"/>
<line x1="504.5" y1="564.2" x2="506.2" y2="564.2" stroke="#00ff00" stroke-width="1"/>
<line x1="618.4" y1="557.1" x2="618.4" y2="564.8" stroke="#00ff00" stroke-width="1"/>
<line x1="616" y1="557.1" x2="618.9" y2="557.1" stroke="#00ff00" stroke-width="1"/>
<line x1="616" y1="564.8" x2="618.9" y2="564.8" stroke="#00ff00" stroke-width="1"/>
<line x1="507.2" y1="566.9" x2="616.5" y2="566.9" stroke="#00ff00" stroke-width="1.8"/>
<line x1="507.2" y1="564.9" x2="507.2" y2="568.5" stroke="#00ff00" stroke-width="1"/>
<line x1="616.5" y1="564.9" x2="616.5" y2="568.5" stroke="#00ff00" stroke-width="1"/>
<line x1="524.2" y1="564.6" x2="524.2" y2="568.5" stroke="#00ff00" stroke-width="1"/>
<line x1="561.5" y1="564.6" x2="561.5" y2="568.5" stroke="#00ff00" stroke-width="1"/>
<line x1="599.5" y1="564.6" x2="599.5" y2="568.5" stroke="#00ff00" stroke-width="1"/>
<line x1="561.5" y1="555.2" x2="561.5" y2="567.9" stroke="#6a8aff" stroke-width="1"/>
<path d="M527.7 559.9 L527.7 558.9 L529.5 557.5 L539.25 557.5 L540.45 558.4 L541.65 557.5 L551.4 557.5 L553.2 558.9 L553.2 559.9" stroke="#00ff00" stroke-width="1.5" fill="none"/>
<path d="M527.7 560.7 L527.7 561.7 L529.5 562.9 L539.25 562.9 L540.45 562 L541.65 562.9 L551.4 562.9 L553.2 561.7 L553.2 560.7" stroke="#00ff00" stroke-width="1.5" fill="none"/>
<line x1="526.9" y1="559.7" x2="526.9" y2="560.9" stroke="#00ff00" stroke-width="1"/>
<line x1="554" y1="559.7" x2="554" y2="560.9" stroke="#00ff00" stroke-width="1"/>
<path d="M571.4 559.9 L571.4 558.9 L573.2 557.5 L582.35 557.5 L583.55 558.4 L584.75 557.5 L593.9 557.5 L595.7 558.9 L595.7 559.9" stroke="#00ff00" stroke-width="1.5" fill="none"/>
<path d="M571.4 560.7 L571.4 561.7 L573.2 562.9 L582.35 562.9 L583.55 562 L584.75 562.9 L593.9 562.9 L595.7 561.7 L595.7 560.7" stroke="#00ff00" stroke-width="1.5" fill="none"/>
<line x1="570.6" y1="559.7" x2="570.6" y2="560.9" stroke="#00ff00" stroke-width="1"/>
<line x1="596.5" y1="559.7" x2="596.5" y2="560.9" stroke="#00ff00" stroke-width="1"/>
<path d="M558.1 557.8 Q552.9 560.25 558.1 562.7" stroke="#00ff00" fill="none" stroke-width="1.2"/>
<path d="M565.9 557.8 Q571.1 560.25 565.9 562.7" stroke="#00ff00" fill="none" stroke-width="1.2"/>
<line x1="555.9" y1="556.3" x2="555.9" y2="558.7" stroke="#ffffff" stroke-width="0.9"/>
<line x1="568.1" y1="556.3" x2="568.1" y2="558.7" stroke="#ffffff" stroke-width="0.9"/>
<text x="504.8" y="561.1" font-size="3.36" text-anchor="middle" fill="#ffffff" stroke="#ffffff" stroke-width="0.6" font-weight="bold">T1</text>
<text x="604.9" y="562.3" font-size="3.6" text-anchor="middle" fill="#ffffff" stroke="#ffffff" stroke-width="0.5" font-weight="bold">T2</text>
<text x="612.5" y="559.4" font-size="3.36" text-anchor="middle" fill="#ffffff" stroke="#ffffff" stroke-width="0.35" font-weight="bold">T3</text>
<text x="519" y="558.7" font-size="2.88" text-anchor="middle" fill="#ffffff" stroke="#ffffff" stroke-width="0.35" font-weight="bold">T4</text>
<line x1="521.6" y1="558.5" x2="525.6" y2="558.5" stroke="#00ff00" stroke-width="1.2"/>
<text x="516.5" y="566.7" font-size="2.88" text-anchor="middle" fill="#ffffff" stroke="#ffffff" stroke-width="0.35" font-weight="bold">275</text>
<text x="542.5" y="566.7" font-size="3.6" text-anchor="middle" fill="#ffffff" stroke="#ffffff" stroke-width="0.5" font-weight="bold">550</text>
<text x="580.5" y="566.7" font-size="3.6" text-anchor="middle" fill="#ffffff" stroke="#ffffff" stroke-width="0.5" font-weight="bold">550</text>
<text x="608.5" y="566.7" font-size="2.88" text-anchor="middle" fill="#ffffff" stroke="#ffffff" stroke-width="0.35" font-weight="bold">275</text>
<text x="565.5" y="566.8" font-size="2.88" text-anchor="middle" fill="#ffffff" stroke="#ffffff" stroke-width="0.35" font-weight="bold">75</text>
<text x="530.5" y="554" font-size="3.12" text-anchor="middle" fill="#ffffff" stroke="#ffffff" stroke-width="0.35" font-weight="bold">550</text>
<text x="593.5" y="554" font-size="3.12" text-anchor="middle" fill="#ffffff" stroke="#ffffff" stroke-width="0.35" font-weight="bold">550</text>
<text x="562" y="550.9" font-size="2.4" text-anchor="middle" fill="#ffffff" stroke="#ffffff" stroke-width="0.35" font-weight="bold">75</text>
<text x="557.9" y="554" font-size="2.64" text-anchor="middle" fill="#ffffff" stroke="#ffffff" stroke-width="0.35" font-weight="bold">40</text>
<text x="566.1" y="554" font-size="2.64" text-anchor="middle" fill="#ffffff" stroke="#ffffff" stroke-width="0.35" font-weight="bold">40</text>
<text x="563.1" y="573.3" font-size="3.96" text-anchor="middle" fill="#ffffff" stroke="#ffffff" stroke-width="0.35" font-weight="bold">5-5</text>
<line x1="507.2" y1="576.7" x2="616.5" y2="576.7" stroke="#00ff00" stroke-width="1.7"/>
<line x1="507.2" y1="579.7" x2="616.5" y2="579.7" stroke="#00ff00" stroke-width="1.7"/>
<line x1="507.2" y1="575.9" x2="507.2" y2="581.7" stroke="#00ff00" stroke-width="1"/>
<line x1="616.5" y1="575.9" x2="616.5" y2="581.7" stroke="#00ff00" stroke-width="1"/>
<line x1="524.2" y1="576.4" x2="524.2" y2="580.9" stroke="#00ff00" stroke-width="1"/>
<line x1="553.5" y1="576.4" x2="553.5" y2="580.9" stroke="#00ff00" stroke-width="1"/>
<line x1="557.5" y1="576.4" x2="557.5" y2="580.9" stroke="#00ff00" stroke-width="1"/>
<line x1="565.5" y1="576.4" x2="565.5" y2="580.9" stroke="#00ff00" stroke-width="1"/>
<line x1="569.5" y1="576.4" x2="569.5" y2="580.9" stroke="#00ff00" stroke-width="1"/>
<line x1="599.5" y1="576.4" x2="599.5" y2="580.9" stroke="#00ff00" stroke-width="1"/>
<line x1="507.7" y1="582.9" x2="524.2" y2="582.9" stroke="#ffffff" stroke-width="1.6"/>
<line x1="599.5" y1="582.9" x2="616" y2="582.9" stroke="#ffffff" stroke-width="1.6"/>
<path d="M507.7 584.1 L516.2 584.4 L520.2 584.5 L524.2 585.5" stroke="#ffffff" stroke-width="0.7" fill="none"/>
<path d="M616 584.1 L607.5 584.4 L603.5 584.5 L599.5 585.5" stroke="#ffffff" stroke-width="0.7" fill="none"/>
<path d="M524.2 582.7 L524.2 589.3 L599.5 589.3" stroke="#ffffff" stroke-width="1.3" fill="none"/>
<line x1="599.5" y1="584.5" x2="599.5" y2="593.1" stroke="#00ff00" stroke-width="1.1"/>
<line x1="599.5" y1="584.5" x2="604" y2="584.5" stroke="#00ff00" stroke-width="1"/>
<line x1="529.2" y1="581.8" x2="594.5" y2="581.8" stroke="#ffffff" stroke-width="1.3"/>
<rect x="504.1" y="581.5" width="3.1" height="2.3" fill="#00ff00"/>
<line x1="504.5" y1="582.9" x2="504.5" y2="588.9" stroke="#00ff00" stroke-width="1"/>
<line x1="504.5" y1="588.9" x2="506.2" y2="588.9" stroke="#00ff00" stroke-width="1"/>
<line x1="618.4" y1="582.3" x2="618.4" y2="589.5" stroke="#00ff00" stroke-width="1"/>
<line x1="616" y1="582.3" x2="618.9" y2="582.3" stroke="#00ff00" stroke-width="1"/>
<line x1="616" y1="589.5" x2="618.9" y2="589.5" stroke="#00ff00" stroke-width="1"/>
<line x1="507.2" y1="591.6" x2="616.5" y2="591.6" stroke="#00ff00" stroke-width="1.8"/>
<line x1="507.2" y1="589.6" x2="507.2" y2="593.2" stroke="#00ff00" stroke-width="1"/>
<line x1="616.5" y1="589.6" x2="616.5" y2="593.2" stroke="#00ff00" stroke-width="1"/>
<line x1="524.2" y1="589.3" x2="524.2" y2="593.2" stroke="#00ff00" stroke-width="1"/>
<line x1="561.5" y1="589.3" x2="561.5" y2="593.2" stroke="#00ff00" stroke-width="1"/>
<line x1="599.5" y1="589.3" x2="599.5" y2="593.2" stroke="#00ff00" stroke-width="1"/>
<line x1="561.5" y1="580.4" x2="561.5" y2="592.6" stroke="#6a8aff" stroke-width="1"/>
<path d="M527.7 585.1 L527.7 584.1 L529.5 582.7 L539.25 582.7 L540.45 583.6 L541.65 582.7 L551.4 582.7 L553.2 584.1 L553.2 585.1" stroke="#00ff00" stroke-width="1.5" fill="none"/>
<path d="M527.7 585.4 L527.7 586.4 L529.5 587.6 L539.25 587.6 L540.45 586.7 L541.65 587.6 L551.4 587.6 L553.2 586.4 L553.2 585.4" stroke="#00ff00" stroke-width="1.5" fill="none"/>
<line x1="526.9" y1="584.9" x2="526.9" y2="585.6" stroke="#00ff00" stroke-width="1"/>
<line x1="554" y1="584.9" x2="554" y2="585.6" stroke="#00ff00" stroke-width="1"/>
<path d="M571.4 585.1 L571.4 584.1 L573.2 582.7 L582.35 582.7 L583.55 583.6 L584.75 582.7 L593.9 582.7 L595.7 584.1 L595.7 585.1" stroke="#00ff00" stroke-width="1.5" fill="none"/>
<path d="M571.4 585.4 L571.4 586.4 L573.2 587.6 L582.35 587.6 L583.55 586.7 L584.75 587.6 L593.9 587.6 L595.7 586.4 L595.7 585.4" stroke="#00ff00" stroke-width="1.5" fill="none"/>
<line x1="570.6" y1="584.9" x2="570.6" y2="585.6" stroke="#00ff00" stroke-width="1"/>
<line x1="596.5" y1="584.9" x2="596.5" y2="585.6" stroke="#00ff00" stroke-width="1"/>
<path d="M558.1 583 Q552.9 585.2 558.1 587.4" stroke="#00ff00" fill="none" stroke-width="1.2"/>
<path d="M565.9 583 Q571.1 585.2 565.9 587.4" stroke="#00ff00" fill="none" stroke-width="1.2"/>
<line x1="555.9" y1="581.5" x2="555.9" y2="583.9" stroke="#ffffff" stroke-width="0.9"/>
<line x1="568.1" y1="581.5" x2="568.1" y2="583.9" stroke="#ffffff" stroke-width="0.9"/>
<text x="504.8" y="586.3" font-size="3.36" text-anchor="middle" fill="#ffffff" stroke="#ffffff" stroke-width="0.6" font-weight="bold">T1</text>
<text x="604.9" y="587.5" font-size="3.6" text-anchor="middle" fill="#ffffff" stroke="#ffffff" stroke-width="0.5" font-weight="bold">T2</text>
<text x="612.5" y="584.6" font-size="3.36" text-anchor="middle" fill="#ffffff" stroke="#ffffff" stroke-width="0.35" font-weight="bold">T3</text>
<text x="519" y="583.9" font-size="2.88" text-anchor="middle" fill="#ffffff" stroke="#ffffff" stroke-width="0.35" font-weight="bold">T4</text>
<line x1="521.6" y1="583.7" x2="525.6" y2="583.7" stroke="#00ff00" stroke-width="1.2"/>
<text x="516.5" y="591.4" font-size="2.88" text-anchor="middle" fill="#ffffff" stroke="#ffffff" stroke-width="0.35" font-weight="bold">275</text>
<text x="542.5" y="591.4" font-size="3.6" text-anchor="middle" fill="#ffffff" stroke="#ffffff" stroke-width="0.5" font-weight="bold">550</text>
<text x="580.5" y="591.4" font-size="3.6" text-anchor="middle" fill="#ffffff" stroke="#ffffff" stroke-width="0.5" font-weight="bold">550</text>
<text x="608.5" y="591.4" font-size="2.88" text-anchor="middle" fill="#ffffff" stroke="#ffffff" stroke-width="0.35" font-weight="bold">275</text>
<text x="565.5" y="591.5" font-size="2.88" text-anchor="middle" fill="#ffffff" stroke="#ffffff" stroke-width="0.35" font-weight="bold">75</text>
<text x="530.5" y="579.2" font-size="3.12" text-anchor="middle" fill="#ffffff" stroke="#ffffff" stroke-width="0.35" font-weight="bold">550</text>
<text x="593.5" y="579.2" font-size="3.12" text-anchor="middle" fill="#ffffff" stroke="#ffffff" stroke-width="0.35" font-weight="bold">550</text>
<text x="562" y="576.1" font-size="2.4" text-anchor="middle" fill="#ffffff" stroke="#ffffff" stroke-width="0.35" font-weight="bold">75</text>
<text x="557.9" y="579.2" font-size="2.64" text-anchor="middle" fill="#ffffff" stroke="#ffffff" stroke-width="0.35" font-weight="bold">40</text>
<text x="566.1" y="579.2" font-size="2.64" text-anchor="middle" fill="#ffffff" stroke="#ffffff" stroke-width="0.35" font-weight="bold">40</text>
<line x1="524.2" y1="591" x2="599.5" y2="591" stroke="#00ff00" stroke-width="1.1"/>
<line x1="507.2" y1="593.5" x2="616.5" y2="593.5" stroke="#00ff00" stroke-width="1.3"/>
<line x1="524.2" y1="589.3" x2="524.2" y2="594" stroke="#00ff00" stroke-width="1"/>
<line x1="526.9" y1="589.3" x2="526.9" y2="594" stroke="#00ff00" stroke-width="1"/>
<line x1="554" y1="589.3" x2="554" y2="594" stroke="#00ff00" stroke-width="1"/>
<line x1="558.5" y1="589.3" x2="558.5" y2="594" stroke="#00ff00" stroke-width="1"/>
<line x1="561.5" y1="589.3" x2="561.5" y2="594" stroke="#00ff00" stroke-width="1"/>
<line x1="565.5" y1="589.3" x2="565.5" y2="594" stroke="#00ff00" stroke-width="1"/>
<line x1="570.6" y1="589.3" x2="570.6" y2="594" stroke="#00ff00" stroke-width="1"/>
<line x1="596.5" y1="589.3" x2="596.5" y2="594" stroke="#00ff00" stroke-width="1"/>
<line x1="599.5" y1="589.3" x2="599.5" y2="594" stroke="#00ff00" stroke-width="1"/>
<path d="M559.1 588.3 L557.1 583.5 L553.5 585.5 L550.5 583.7" stroke="#00ff00" stroke-width="1" fill="none"/>
<line x1="543" y1="586.3" x2="543" y2="593.5" stroke="#00ff00" stroke-width="1.1"/>
<path d="M525.5 588.3 L528.5 584.5" stroke="#00ff00" stroke-width="1" fill="none"/>
<text x="543.4" y="592.2" font-size="2.64" text-anchor="middle" fill="#ffffff" stroke="#ffffff" stroke-width="0.35" font-weight="bold">▼</text>
<line x1="532.5" y1="587.1" x2="538.5" y2="587.1" stroke="#00ff00" stroke-width="1.3"/>
<path d="M563.9 588.3 L565.9 583.5 L569.5 585.5 L572.5 583.7" stroke="#00ff00" stroke-width="1" fill="none"/>
<line x1="580" y1="586.3" x2="580" y2="593.5" stroke="#00ff00" stroke-width="1.1"/>
<path d="M597.5 588.3 L594.5 584.5" stroke="#00ff00" stroke-width="1" fill="none"/>
<text x="580.4" y="592.2" font-size="2.64" text-anchor="middle" fill="#ffffff" stroke="#ffffff" stroke-width="0.35" font-weight="bold">▼</text>
<line x1="584.5" y1="587.1" x2="590.5" y2="587.1" stroke="#00ff00" stroke-width="1.3"/>
<text x="558.5" y="586.1" font-size="3.12" text-anchor="middle" fill="#ffffff" stroke="#ffffff" stroke-width="0.35" font-weight="bold">B</text>
<text x="565.5" y="586.1" font-size="3.12" text-anchor="middle" fill="#ffffff" stroke="#ffffff" stroke-width="0.35" font-weight="bold">B</text>
<text x="585.5" y="585.3" font-size="3.12" text-anchor="middle" fill="#ffffff" stroke="#ffffff" stroke-width="0.35" font-weight="bold">B</text>
<text x="563.1" y="600.4" font-size="3.96" text-anchor="middle" fill="#ffffff" stroke="#ffffff" stroke-width="0.35" font-weight="bold">6-6</text>
<line x1="507.2" y1="603.8" x2="616.5" y2="603.8" stroke="#00ff00" stroke-width="1.7"/>
<line x1="507.2" y1="606.8" x2="616.5" y2="606.8" stroke="#00ff00" stroke-width="1.7"/>
<line x1="507.2" y1="603" x2="507.2" y2="608.8" stroke="#00ff00" stroke-width="1"/>
<line x1="616.5" y1="603" x2="616.5" y2="608.8" stroke="#00ff00" stroke-width="1"/>
<line x1="524.2" y1="603.5" x2="524.2" y2="608" stroke="#00ff00" stroke-width="1"/>
<line x1="553.5" y1="603.5" x2="553.5" y2="608" stroke="#00ff00" stroke-width="1"/>
<line x1="557.5" y1="603.5" x2="557.5" y2="608" stroke="#00ff00" stroke-width="1"/>
<line x1="565.5" y1="603.5" x2="565.5" y2="608" stroke="#00ff00" stroke-width="1"/>
<line x1="569.5" y1="603.5" x2="569.5" y2="608" stroke="#00ff00" stroke-width="1"/>
<line x1="599.5" y1="603.5" x2="599.5" y2="608" stroke="#00ff00" stroke-width="1"/>
<line x1="507.7" y1="610" x2="524.2" y2="610" stroke="#ffffff" stroke-width="1.6"/>
<line x1="599.5" y1="610" x2="616" y2="610" stroke="#ffffff" stroke-width="1.6"/>
<path d="M507.7 611.2 L516.2 611.5 L520.2 611.6 L524.2 612.6" stroke="#ffffff" stroke-width="0.7" fill="none"/>
<path d="M616 611.2 L607.5 611.5 L603.5 611.6 L599.5 612.6" stroke="#ffffff" stroke-width="0.7" fill="none"/>
<path d="M524.2 609.8 L524.2 616.5 L599.5 616.5" stroke="#ffffff" stroke-width="1.3" fill="none"/>
<line x1="599.5" y1="611.6" x2="599.5" y2="620.3" stroke="#00ff00" stroke-width="1.1"/>
<line x1="599.5" y1="611.6" x2="604" y2="611.6" stroke="#00ff00" stroke-width="1"/>
<line x1="529.2" y1="608.9" x2="594.5" y2="608.9" stroke="#ffffff" stroke-width="1.3"/>
<rect x="504.1" y="608.6" width="3.1" height="2.3" fill="#00ff00"/>
<line x1="504.5" y1="610" x2="504.5" y2="616.1" stroke="#00ff00" stroke-width="1"/>
<line x1="504.5" y1="616.1" x2="506.2" y2="616.1" stroke="#00ff00" stroke-width="1"/>
<line x1="618.4" y1="609.4" x2="618.4" y2="616.7" stroke="#00ff00" stroke-width="1"/>
<line x1="616" y1="609.4" x2="618.9" y2="609.4" stroke="#00ff00" stroke-width="1"/>
<line x1="616" y1="616.7" x2="618.9" y2="616.7" stroke="#00ff00" stroke-width="1"/>
<line x1="507.2" y1="618.8" x2="616.5" y2="618.8" stroke="#00ff00" stroke-width="1.8"/>
<line x1="507.2" y1="616.8" x2="507.2" y2="620.4" stroke="#00ff00" stroke-width="1"/>
<line x1="616.5" y1="616.8" x2="616.5" y2="620.4" stroke="#00ff00" stroke-width="1"/>
<line x1="524.2" y1="616.5" x2="524.2" y2="620.4" stroke="#00ff00" stroke-width="1"/>
<line x1="561.5" y1="616.5" x2="561.5" y2="620.4" stroke="#00ff00" stroke-width="1"/>
<line x1="599.5" y1="616.5" x2="599.5" y2="620.4" stroke="#00ff00" stroke-width="1"/>
<line x1="561.5" y1="607.5" x2="561.5" y2="619.8" stroke="#6a8aff" stroke-width="1"/>
<path d="M527.7 612.2 L527.7 611.2 L529.5 609.8 L539.25 609.8 L540.45 610.7 L541.65 609.8 L551.4 609.8 L553.2 611.2 L553.2 612.2" stroke="#00ff00" stroke-width="1.5" fill="none"/>
<path d="M527.7 612.6 L527.7 613.6 L529.5 614.8 L539.25 614.8 L540.45 613.9 L541.65 614.8 L551.4 614.8 L553.2 613.6 L553.2 612.6" stroke="#00ff00" stroke-width="1.5" fill="none"/>
<line x1="526.9" y1="612" x2="526.9" y2="612.8" stroke="#00ff00" stroke-width="1"/>
<line x1="554" y1="612" x2="554" y2="612.8" stroke="#00ff00" stroke-width="1"/>
<path d="M571.4 612.2 L571.4 611.2 L573.2 609.8 L582.35 609.8 L583.55 610.7 L584.75 609.8 L593.9 609.8 L595.7 611.2 L595.7 612.2" stroke="#00ff00" stroke-width="1.5" fill="none"/>
<path d="M571.4 612.6 L571.4 613.6 L573.2 614.8 L582.35 614.8 L583.55 613.9 L584.75 614.8 L593.9 614.8 L595.7 613.6 L595.7 612.6" stroke="#00ff00" stroke-width="1.5" fill="none"/>
<line x1="570.6" y1="612" x2="570.6" y2="612.8" stroke="#00ff00" stroke-width="1"/>
<line x1="596.5" y1="612" x2="596.5" y2="612.8" stroke="#00ff00" stroke-width="1"/>
<path d="M558.1 610.1 Q552.9 612.35 558.1 614.6" stroke="#00ff00" fill="none" stroke-width="1.2"/>
<path d="M565.9 610.1 Q571.1 612.35 565.9 614.6" stroke="#00ff00" fill="none" stroke-width="1.2"/>
<line x1="555.9" y1="608.6" x2="555.9" y2="611" stroke="#ffffff" stroke-width="0.9"/>
<line x1="568.1" y1="608.6" x2="568.1" y2="611" stroke="#ffffff" stroke-width="0.9"/>
<text x="504.8" y="613.4" font-size="3.36" text-anchor="middle" fill="#ffffff" stroke="#ffffff" stroke-width="0.6" font-weight="bold">T1</text>
<text x="604.9" y="614.6" font-size="3.6" text-anchor="middle" fill="#ffffff" stroke="#ffffff" stroke-width="0.5" font-weight="bold">T2</text>
<text x="612.5" y="611.7" font-size="3.36" text-anchor="middle" fill="#ffffff" stroke="#ffffff" stroke-width="0.35" font-weight="bold">T3</text>
<text x="519" y="611" font-size="2.88" text-anchor="middle" fill="#ffffff" stroke="#ffffff" stroke-width="0.35" font-weight="bold">T4</text>
<line x1="521.6" y1="610.8" x2="525.6" y2="610.8" stroke="#00ff00" stroke-width="1.2"/>
<text x="516.5" y="618.6" font-size="2.88" text-anchor="middle" fill="#ffffff" stroke="#ffffff" stroke-width="0.35" font-weight="bold">275</text>
<text x="542.5" y="618.6" font-size="3.6" text-anchor="middle" fill="#ffffff" stroke="#ffffff" stroke-width="0.5" font-weight="bold">550</text>
<text x="580.5" y="618.6" font-size="3.6" text-anchor="middle" fill="#ffffff" stroke="#ffffff" stroke-width="0.5" font-weight="bold">550</text>
<text x="608.5" y="618.6" font-size="2.88" text-anchor="middle" fill="#ffffff" stroke="#ffffff" stroke-width="0.35" font-weight="bold">275</text>
<text x="565.5" y="618.7" font-size="2.88" text-anchor="middle" fill="#ffffff" stroke="#ffffff" stroke-width="0.35" font-weight="bold">75</text>
<text x="530.5" y="606.3" font-size="3.12" text-anchor="middle" fill="#ffffff" stroke="#ffffff" stroke-width="0.35" font-weight="bold">550</text>
<text x="593.5" y="606.3" font-size="3.12" text-anchor="middle" fill="#ffffff" stroke="#ffffff" stroke-width="0.35" font-weight="bold">550</text>
<text x="562" y="603.2" font-size="2.4" text-anchor="middle" fill="#ffffff" stroke="#ffffff" stroke-width="0.35" font-weight="bold">75</text>
<text x="557.9" y="606.3" font-size="2.64" text-anchor="middle" fill="#ffffff" stroke="#ffffff" stroke-width="0.35" font-weight="bold">40</text>
<text x="566.1" y="606.3" font-size="2.64" text-anchor="middle" fill="#ffffff" stroke="#ffffff" stroke-width="0.35" font-weight="bold">40</text>
<path d="M558.5 615.1 L563.1 610.8" stroke="#00ff00" stroke-width="1.3" fill="none"/>
<text x="503.4" y="624.7" font-size="2.76" text-anchor="start" fill="#ffffff" stroke="#ffffff" stroke-width="0.5" font-weight="bold" textLength="2.6" lengthAdjust="spacingAndGlyphs">注:</text>
<text x="503.4" y="627.3" font-size="2.76" text-anchor="start" fill="#ffffff" stroke="#ffffff" stroke-width="0.5" font-weight="bold" textLength="13.5" lengthAdjust="spacingAndGlyphs">1.本图尺寸</text>
<text x="503.4" y="629.5" font-size="2.76" text-anchor="start" fill="#ffffff" stroke="#ffffff" stroke-width="0.5" font-weight="bold" textLength="46.5" lengthAdjust="spacingAndGlyphs">2.图中钢束均采用φ15.2高强度低松弛钢绞线。</text>
<text x="503.4" y="632.2" font-size="2.76" text-anchor="start" fill="#ffffff" stroke="#ffffff" stroke-width="0.5" font-weight="bold" textLength="52.5" lengthAdjust="spacingAndGlyphs">3.预应力管道采用塑料波纹管成孔,真空辅助压浆工艺。</text>
<text x="503.4" y="634.7" font-size="2.76" text-anchor="start" fill="#ffffff" stroke="#ffffff" stroke-width="0.5" font-weight="bold" textLength="39.5" lengthAdjust="spacingAndGlyphs">4.钢束张拉采用双控,以张拉力为主。</text>
<text x="503.4" y="637.5" font-size="2.76" text-anchor="start" fill="#ffffff" stroke="#ffffff" stroke-width="0.5" font-weight="bold" textLength="53.5" lengthAdjust="spacingAndGlyphs">5.箱梁悬浇节段施工顺序及合拢顺序详见施工流程图。</text>
<text x="504.9" y="639.8" font-size="2.76" text-anchor="start" fill="#ffffff" stroke="#ffffff" stroke-width="0.5" font-weight="bold" textLength="8" lengthAdjust="spacingAndGlyphs">设计说明</text>
<text x="569.4" y="626.4" font-size="2.76" text-anchor="start" fill="#ffffff" stroke="#ffffff" stroke-width="0.5" font-weight="bold" textLength="31.6" lengthAdjust="spacingAndGlyphs">6.施工时应注意各类预埋件的设置</text>
<text x="606" y="626.4" font-size="2.76" text-anchor="start" fill="#ffffff" stroke="#ffffff" stroke-width="0.5" font-weight="bold" textLength="14" lengthAdjust="spacingAndGlyphs">▽ 表示标高</text>
<text x="569.4" y="628.9" font-size="2.76" text-anchor="start" fill="#ffffff" stroke="#ffffff" stroke-width="0.5" font-weight="bold" textLength="16.6" lengthAdjust="spacingAndGlyphs">7.锚具型号见表</text>
<text x="569.4" y="632.3" font-size="2.76" text-anchor="start" fill="#ffffff" stroke="#ffffff" stroke-width="0.5" font-weight="bold" textLength="24.6" lengthAdjust="spacingAndGlyphs">8.钢束编号对应见钢束表</text>
<text x="569.4" y="634.8" font-size="2.76" text-anchor="start" fill="#ffffff" stroke="#ffffff" stroke-width="0.5" font-weight="bold" textLength="55.6" lengthAdjust="spacingAndGlyphs">9.本图适用于主桥箱梁纵向预应力钢束的布置及施工控制。</text>
<text x="569.4" y="637.4" font-size="2.76" text-anchor="start" fill="#ffffff" stroke="#ffffff" stroke-width="0.5" font-weight="bold" textLength="42.6" lengthAdjust="spacingAndGlyphs">10.未尽事宜按现行规范及有关规定办理。</text>
</svg>
</body>
</html>
